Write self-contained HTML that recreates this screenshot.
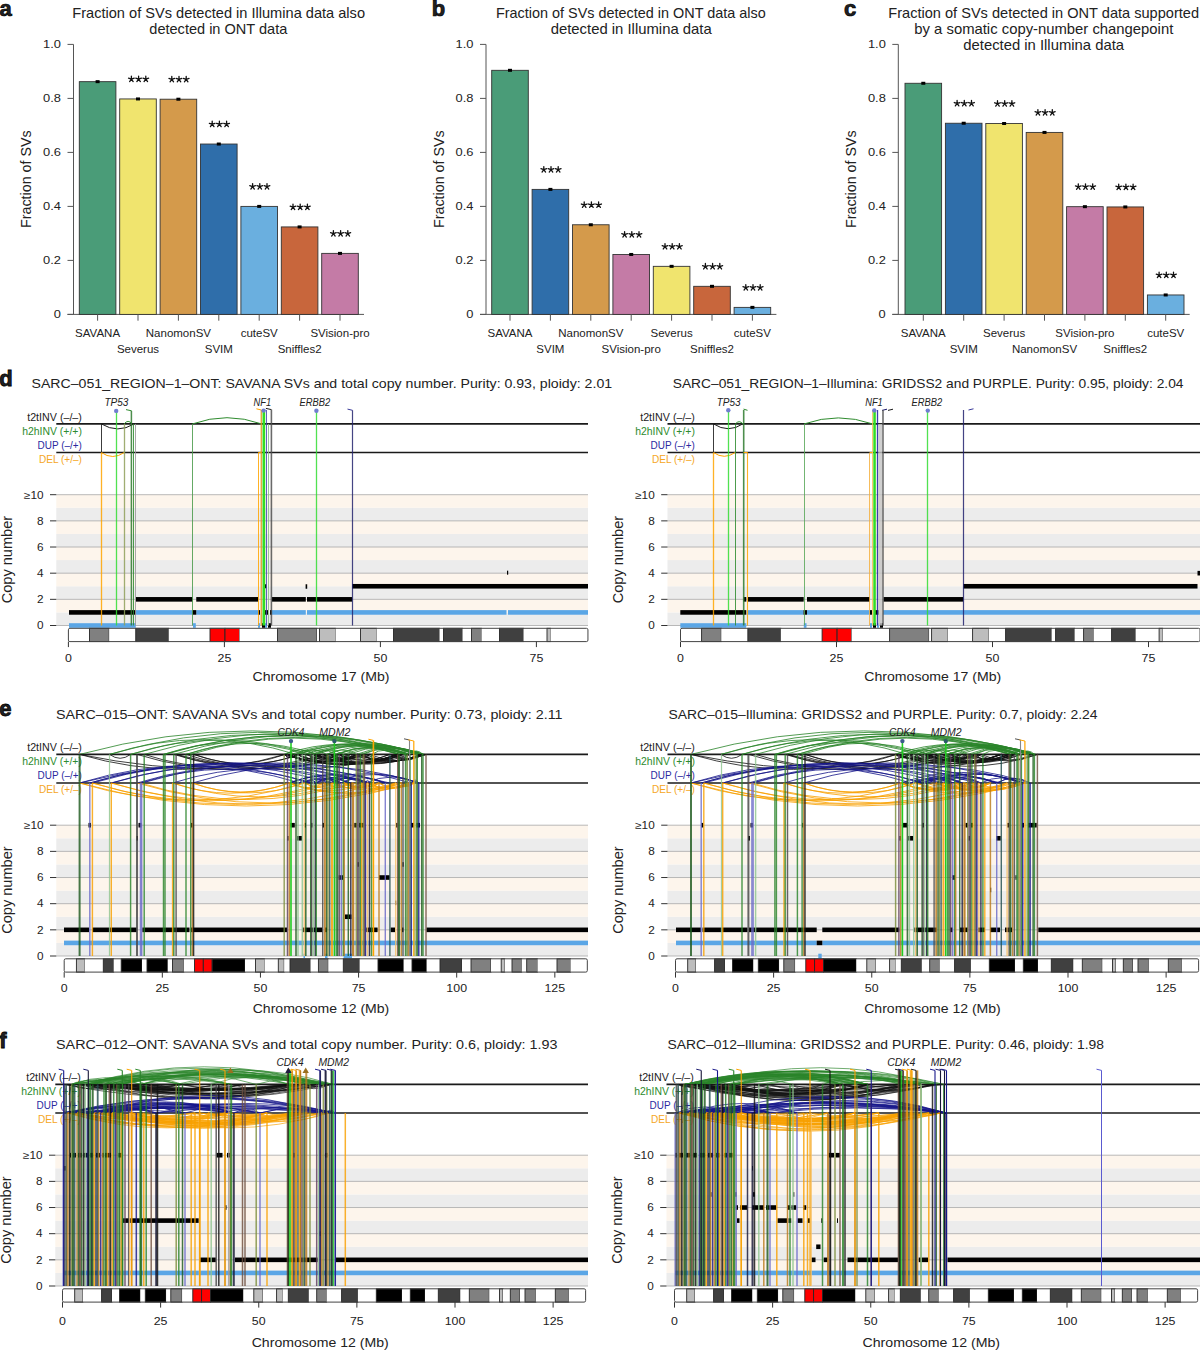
<!DOCTYPE html>
<html><head><meta charset="utf-8"><style>
html,body{margin:0;padding:0;background:#fff;}
svg{display:block;font-family:"Liberation Sans", sans-serif;}
</style></head><body>
<svg width="1200" height="1350" viewBox="0 0 1200 1350" fill="#222">
<rect width="1200" height="1350" fill="#fff"/>
<line x1="73.50" y1="44.40" x2="73.50" y2="314.40" stroke="#555" stroke-width="1"/>
<line x1="67.50" y1="314.40" x2="73.50" y2="314.40" stroke="#555" stroke-width="1"/>
<text x="61.00" y="318.40" font-size="11" text-anchor="end" textLength="7.16" lengthAdjust="spacingAndGlyphs">0</text>
<line x1="67.50" y1="260.40" x2="73.50" y2="260.40" stroke="#555" stroke-width="1"/>
<text x="61.00" y="264.40" font-size="11" text-anchor="end" textLength="17.89" lengthAdjust="spacingAndGlyphs">0.2</text>
<line x1="67.50" y1="206.40" x2="73.50" y2="206.40" stroke="#555" stroke-width="1"/>
<text x="61.00" y="210.40" font-size="11" text-anchor="end" textLength="17.89" lengthAdjust="spacingAndGlyphs">0.4</text>
<line x1="67.50" y1="152.40" x2="73.50" y2="152.40" stroke="#555" stroke-width="1"/>
<text x="61.00" y="156.40" font-size="11" text-anchor="end" textLength="17.89" lengthAdjust="spacingAndGlyphs">0.6</text>
<line x1="67.50" y1="98.40" x2="73.50" y2="98.40" stroke="#555" stroke-width="1"/>
<text x="61.00" y="102.40" font-size="11" text-anchor="end" textLength="17.89" lengthAdjust="spacingAndGlyphs">0.8</text>
<line x1="67.50" y1="44.40" x2="73.50" y2="44.40" stroke="#555" stroke-width="1"/>
<text x="61.00" y="48.40" font-size="11" text-anchor="end" textLength="17.89" lengthAdjust="spacingAndGlyphs">1.0</text>
<line x1="67.50" y1="314.40" x2="364.00" y2="314.40" stroke="#555" stroke-width="1"/>
<rect x="79.30" y="81.66" width="36.60" height="232.74" fill="#4a9c78" stroke="#333" stroke-width="0.9"/>
<rect x="95.60" y="80.16" width="4.00" height="3.00" fill="#000"/>
<line x1="97.60" y1="314.40" x2="97.60" y2="320.70" stroke="#555" stroke-width="1"/>
<text x="97.60" y="337.00" font-size="11.5" text-anchor="middle">SAVANA</text>
<rect x="119.70" y="98.94" width="36.60" height="215.46" fill="#f0e46e" stroke="#333" stroke-width="0.9"/>
<rect x="136.00" y="97.44" width="4.00" height="3.00" fill="#000"/>
<line x1="138.00" y1="314.40" x2="138.00" y2="320.70" stroke="#555" stroke-width="1"/>
<path d="M131.40,79.14 L131.40,76.14 M131.40,79.14 L134.25,78.21 M131.40,79.14 L133.16,81.57 M131.40,79.14 L129.64,81.57 M131.40,79.14 L128.55,78.21 " stroke="#111" stroke-width="1.3" fill="none" stroke-linecap="round"/>
<path d="M138.60,79.14 L138.60,76.14 M138.60,79.14 L141.45,78.21 M138.60,79.14 L140.36,81.57 M138.60,79.14 L136.84,81.57 M138.60,79.14 L135.75,78.21 " stroke="#111" stroke-width="1.3" fill="none" stroke-linecap="round"/>
<path d="M145.80,79.14 L145.80,76.14 M145.80,79.14 L148.65,78.21 M145.80,79.14 L147.56,81.57 M145.80,79.14 L144.04,81.57 M145.80,79.14 L142.95,78.21 " stroke="#111" stroke-width="1.3" fill="none" stroke-linecap="round"/>
<text x="138.00" y="352.50" font-size="11.5" text-anchor="middle">Severus</text>
<rect x="160.10" y="99.21" width="36.60" height="215.19" fill="#d49a4b" stroke="#333" stroke-width="0.9"/>
<rect x="176.40" y="97.71" width="4.00" height="3.00" fill="#000"/>
<line x1="178.40" y1="314.40" x2="178.40" y2="320.70" stroke="#555" stroke-width="1"/>
<path d="M171.80,79.41 L171.80,76.41 M171.80,79.41 L174.65,78.48 M171.80,79.41 L173.56,81.84 M171.80,79.41 L170.04,81.84 M171.80,79.41 L168.95,78.48 " stroke="#111" stroke-width="1.3" fill="none" stroke-linecap="round"/>
<path d="M179.00,79.41 L179.00,76.41 M179.00,79.41 L181.85,78.48 M179.00,79.41 L180.76,81.84 M179.00,79.41 L177.24,81.84 M179.00,79.41 L176.15,78.48 " stroke="#111" stroke-width="1.3" fill="none" stroke-linecap="round"/>
<path d="M186.20,79.41 L186.20,76.41 M186.20,79.41 L189.05,78.48 M186.20,79.41 L187.96,81.84 M186.20,79.41 L184.44,81.84 M186.20,79.41 L183.35,78.48 " stroke="#111" stroke-width="1.3" fill="none" stroke-linecap="round"/>
<text x="178.40" y="337.00" font-size="11.5" text-anchor="middle">NanomonSV</text>
<rect x="200.50" y="144.03" width="36.60" height="170.37" fill="#2f6eaa" stroke="#333" stroke-width="0.9"/>
<rect x="216.80" y="142.53" width="4.00" height="3.00" fill="#000"/>
<line x1="218.80" y1="314.40" x2="218.80" y2="320.70" stroke="#555" stroke-width="1"/>
<path d="M212.20,124.23 L212.20,121.23 M212.20,124.23 L215.05,123.30 M212.20,124.23 L213.96,126.66 M212.20,124.23 L210.44,126.66 M212.20,124.23 L209.35,123.30 " stroke="#111" stroke-width="1.3" fill="none" stroke-linecap="round"/>
<path d="M219.40,124.23 L219.40,121.23 M219.40,124.23 L222.25,123.30 M219.40,124.23 L221.16,126.66 M219.40,124.23 L217.64,126.66 M219.40,124.23 L216.55,123.30 " stroke="#111" stroke-width="1.3" fill="none" stroke-linecap="round"/>
<path d="M226.60,124.23 L226.60,121.23 M226.60,124.23 L229.45,123.30 M226.60,124.23 L228.36,126.66 M226.60,124.23 L224.84,126.66 M226.60,124.23 L223.75,123.30 " stroke="#111" stroke-width="1.3" fill="none" stroke-linecap="round"/>
<text x="218.80" y="352.50" font-size="11.5" text-anchor="middle">SVIM</text>
<rect x="240.90" y="206.40" width="36.60" height="108.00" fill="#6aafdf" stroke="#333" stroke-width="0.9"/>
<rect x="257.20" y="204.90" width="4.00" height="3.00" fill="#000"/>
<line x1="259.20" y1="314.40" x2="259.20" y2="320.70" stroke="#555" stroke-width="1"/>
<path d="M252.60,186.60 L252.60,183.60 M252.60,186.60 L255.45,185.67 M252.60,186.60 L254.36,189.03 M252.60,186.60 L250.84,189.03 M252.60,186.60 L249.75,185.67 " stroke="#111" stroke-width="1.3" fill="none" stroke-linecap="round"/>
<path d="M259.80,186.60 L259.80,183.60 M259.80,186.60 L262.65,185.67 M259.80,186.60 L261.56,189.03 M259.80,186.60 L258.04,189.03 M259.80,186.60 L256.95,185.67 " stroke="#111" stroke-width="1.3" fill="none" stroke-linecap="round"/>
<path d="M267.00,186.60 L267.00,183.60 M267.00,186.60 L269.85,185.67 M267.00,186.60 L268.76,189.03 M267.00,186.60 L265.24,189.03 M267.00,186.60 L264.15,185.67 " stroke="#111" stroke-width="1.3" fill="none" stroke-linecap="round"/>
<text x="259.20" y="337.00" font-size="11.5" text-anchor="middle">cuteSV</text>
<rect x="281.30" y="226.92" width="36.60" height="87.48" fill="#c8663c" stroke="#333" stroke-width="0.9"/>
<rect x="297.60" y="225.42" width="4.00" height="3.00" fill="#000"/>
<line x1="299.60" y1="314.40" x2="299.60" y2="320.70" stroke="#555" stroke-width="1"/>
<path d="M293.00,207.12 L293.00,204.12 M293.00,207.12 L295.85,206.19 M293.00,207.12 L294.76,209.55 M293.00,207.12 L291.24,209.55 M293.00,207.12 L290.15,206.19 " stroke="#111" stroke-width="1.3" fill="none" stroke-linecap="round"/>
<path d="M300.20,207.12 L300.20,204.12 M300.20,207.12 L303.05,206.19 M300.20,207.12 L301.96,209.55 M300.20,207.12 L298.44,209.55 M300.20,207.12 L297.35,206.19 " stroke="#111" stroke-width="1.3" fill="none" stroke-linecap="round"/>
<path d="M307.40,207.12 L307.40,204.12 M307.40,207.12 L310.25,206.19 M307.40,207.12 L309.16,209.55 M307.40,207.12 L305.64,209.55 M307.40,207.12 L304.55,206.19 " stroke="#111" stroke-width="1.3" fill="none" stroke-linecap="round"/>
<text x="299.60" y="352.50" font-size="11.5" text-anchor="middle">Sniffles2</text>
<rect x="321.70" y="253.38" width="36.60" height="61.02" fill="#c47ba6" stroke="#333" stroke-width="0.9"/>
<rect x="338.00" y="251.88" width="4.00" height="3.00" fill="#000"/>
<line x1="340.00" y1="314.40" x2="340.00" y2="320.70" stroke="#555" stroke-width="1"/>
<path d="M333.40,233.58 L333.40,230.58 M333.40,233.58 L336.25,232.65 M333.40,233.58 L335.16,236.01 M333.40,233.58 L331.64,236.01 M333.40,233.58 L330.55,232.65 " stroke="#111" stroke-width="1.3" fill="none" stroke-linecap="round"/>
<path d="M340.60,233.58 L340.60,230.58 M340.60,233.58 L343.45,232.65 M340.60,233.58 L342.36,236.01 M340.60,233.58 L338.84,236.01 M340.60,233.58 L337.75,232.65 " stroke="#111" stroke-width="1.3" fill="none" stroke-linecap="round"/>
<path d="M347.80,233.58 L347.80,230.58 M347.80,233.58 L350.65,232.65 M347.80,233.58 L349.56,236.01 M347.80,233.58 L346.04,236.01 M347.80,233.58 L344.95,232.65 " stroke="#111" stroke-width="1.3" fill="none" stroke-linecap="round"/>
<text x="340.00" y="337.00" font-size="11.5" text-anchor="middle">SVision-pro</text>
<text x="31.10" y="179.20" font-size="14" text-anchor="middle" textLength="97.50" lengthAdjust="spacingAndGlyphs" transform="rotate(-90 31.10 179.20)">Fraction of SVs</text>
<text x="-0.60" y="16.30" font-size="22" font-weight="bold" stroke="#000" stroke-width="0.7">a</text>
<text x="72.30" y="17.70" font-size="14.5" textLength="292.70" lengthAdjust="spacingAndGlyphs">Fraction of SVs detected in Illumina data also</text>
<text x="149.30" y="34.00" font-size="14.5" textLength="138.00" lengthAdjust="spacingAndGlyphs">detected in ONT data</text>
<line x1="486.00" y1="44.40" x2="486.00" y2="314.40" stroke="#555" stroke-width="1"/>
<line x1="480.00" y1="314.40" x2="486.00" y2="314.40" stroke="#555" stroke-width="1"/>
<text x="473.50" y="318.40" font-size="11" text-anchor="end" textLength="7.16" lengthAdjust="spacingAndGlyphs">0</text>
<line x1="480.00" y1="260.40" x2="486.00" y2="260.40" stroke="#555" stroke-width="1"/>
<text x="473.50" y="264.40" font-size="11" text-anchor="end" textLength="17.89" lengthAdjust="spacingAndGlyphs">0.2</text>
<line x1="480.00" y1="206.40" x2="486.00" y2="206.40" stroke="#555" stroke-width="1"/>
<text x="473.50" y="210.40" font-size="11" text-anchor="end" textLength="17.89" lengthAdjust="spacingAndGlyphs">0.4</text>
<line x1="480.00" y1="152.40" x2="486.00" y2="152.40" stroke="#555" stroke-width="1"/>
<text x="473.50" y="156.40" font-size="11" text-anchor="end" textLength="17.89" lengthAdjust="spacingAndGlyphs">0.6</text>
<line x1="480.00" y1="98.40" x2="486.00" y2="98.40" stroke="#555" stroke-width="1"/>
<text x="473.50" y="102.40" font-size="11" text-anchor="end" textLength="17.89" lengthAdjust="spacingAndGlyphs">0.8</text>
<line x1="480.00" y1="44.40" x2="486.00" y2="44.40" stroke="#555" stroke-width="1"/>
<text x="473.50" y="48.40" font-size="11" text-anchor="end" textLength="17.89" lengthAdjust="spacingAndGlyphs">1.0</text>
<line x1="480.00" y1="314.40" x2="776.40" y2="314.40" stroke="#555" stroke-width="1"/>
<rect x="491.70" y="70.32" width="36.60" height="244.08" fill="#4a9c78" stroke="#333" stroke-width="0.9"/>
<rect x="508.00" y="68.82" width="4.00" height="3.00" fill="#000"/>
<line x1="510.00" y1="314.40" x2="510.00" y2="320.70" stroke="#555" stroke-width="1"/>
<text x="510.00" y="337.00" font-size="11.5" text-anchor="middle">SAVANA</text>
<rect x="532.10" y="189.39" width="36.60" height="125.01" fill="#2f6eaa" stroke="#333" stroke-width="0.9"/>
<rect x="548.40" y="187.89" width="4.00" height="3.00" fill="#000"/>
<line x1="550.40" y1="314.40" x2="550.40" y2="320.70" stroke="#555" stroke-width="1"/>
<path d="M543.80,169.59 L543.80,166.59 M543.80,169.59 L546.65,168.66 M543.80,169.59 L545.56,172.02 M543.80,169.59 L542.04,172.02 M543.80,169.59 L540.95,168.66 " stroke="#111" stroke-width="1.3" fill="none" stroke-linecap="round"/>
<path d="M551.00,169.59 L551.00,166.59 M551.00,169.59 L553.85,168.66 M551.00,169.59 L552.76,172.02 M551.00,169.59 L549.24,172.02 M551.00,169.59 L548.15,168.66 " stroke="#111" stroke-width="1.3" fill="none" stroke-linecap="round"/>
<path d="M558.20,169.59 L558.20,166.59 M558.20,169.59 L561.05,168.66 M558.20,169.59 L559.96,172.02 M558.20,169.59 L556.44,172.02 M558.20,169.59 L555.35,168.66 " stroke="#111" stroke-width="1.3" fill="none" stroke-linecap="round"/>
<text x="550.40" y="352.50" font-size="11.5" text-anchor="middle">SVIM</text>
<rect x="572.50" y="224.76" width="36.60" height="89.64" fill="#d49a4b" stroke="#333" stroke-width="0.9"/>
<rect x="588.80" y="223.26" width="4.00" height="3.00" fill="#000"/>
<line x1="590.80" y1="314.40" x2="590.80" y2="320.70" stroke="#555" stroke-width="1"/>
<path d="M584.20,204.96 L584.20,201.96 M584.20,204.96 L587.05,204.03 M584.20,204.96 L585.96,207.39 M584.20,204.96 L582.44,207.39 M584.20,204.96 L581.35,204.03 " stroke="#111" stroke-width="1.3" fill="none" stroke-linecap="round"/>
<path d="M591.40,204.96 L591.40,201.96 M591.40,204.96 L594.25,204.03 M591.40,204.96 L593.16,207.39 M591.40,204.96 L589.64,207.39 M591.40,204.96 L588.55,204.03 " stroke="#111" stroke-width="1.3" fill="none" stroke-linecap="round"/>
<path d="M598.60,204.96 L598.60,201.96 M598.60,204.96 L601.45,204.03 M598.60,204.96 L600.36,207.39 M598.60,204.96 L596.84,207.39 M598.60,204.96 L595.75,204.03 " stroke="#111" stroke-width="1.3" fill="none" stroke-linecap="round"/>
<text x="590.80" y="337.00" font-size="11.5" text-anchor="middle">NanomonSV</text>
<rect x="612.90" y="254.46" width="36.60" height="59.94" fill="#c47ba6" stroke="#333" stroke-width="0.9"/>
<rect x="629.20" y="252.96" width="4.00" height="3.00" fill="#000"/>
<line x1="631.20" y1="314.40" x2="631.20" y2="320.70" stroke="#555" stroke-width="1"/>
<path d="M624.60,234.66 L624.60,231.66 M624.60,234.66 L627.45,233.73 M624.60,234.66 L626.36,237.09 M624.60,234.66 L622.84,237.09 M624.60,234.66 L621.75,233.73 " stroke="#111" stroke-width="1.3" fill="none" stroke-linecap="round"/>
<path d="M631.80,234.66 L631.80,231.66 M631.80,234.66 L634.65,233.73 M631.80,234.66 L633.56,237.09 M631.80,234.66 L630.04,237.09 M631.80,234.66 L628.95,233.73 " stroke="#111" stroke-width="1.3" fill="none" stroke-linecap="round"/>
<path d="M639.00,234.66 L639.00,231.66 M639.00,234.66 L641.85,233.73 M639.00,234.66 L640.76,237.09 M639.00,234.66 L637.24,237.09 M639.00,234.66 L636.15,233.73 " stroke="#111" stroke-width="1.3" fill="none" stroke-linecap="round"/>
<text x="631.20" y="352.50" font-size="11.5" text-anchor="middle">SVision-pro</text>
<rect x="653.30" y="266.34" width="36.60" height="48.06" fill="#f0e46e" stroke="#333" stroke-width="0.9"/>
<rect x="669.60" y="264.84" width="4.00" height="3.00" fill="#000"/>
<line x1="671.60" y1="314.40" x2="671.60" y2="320.70" stroke="#555" stroke-width="1"/>
<path d="M665.00,246.54 L665.00,243.54 M665.00,246.54 L667.85,245.61 M665.00,246.54 L666.76,248.97 M665.00,246.54 L663.24,248.97 M665.00,246.54 L662.15,245.61 " stroke="#111" stroke-width="1.3" fill="none" stroke-linecap="round"/>
<path d="M672.20,246.54 L672.20,243.54 M672.20,246.54 L675.05,245.61 M672.20,246.54 L673.96,248.97 M672.20,246.54 L670.44,248.97 M672.20,246.54 L669.35,245.61 " stroke="#111" stroke-width="1.3" fill="none" stroke-linecap="round"/>
<path d="M679.40,246.54 L679.40,243.54 M679.40,246.54 L682.25,245.61 M679.40,246.54 L681.16,248.97 M679.40,246.54 L677.64,248.97 M679.40,246.54 L676.55,245.61 " stroke="#111" stroke-width="1.3" fill="none" stroke-linecap="round"/>
<text x="671.60" y="337.00" font-size="11.5" text-anchor="middle">Severus</text>
<rect x="693.70" y="286.32" width="36.60" height="28.08" fill="#c8663c" stroke="#333" stroke-width="0.9"/>
<rect x="710.00" y="284.82" width="4.00" height="3.00" fill="#000"/>
<line x1="712.00" y1="314.40" x2="712.00" y2="320.70" stroke="#555" stroke-width="1"/>
<path d="M705.40,266.52 L705.40,263.52 M705.40,266.52 L708.25,265.59 M705.40,266.52 L707.16,268.95 M705.40,266.52 L703.64,268.95 M705.40,266.52 L702.55,265.59 " stroke="#111" stroke-width="1.3" fill="none" stroke-linecap="round"/>
<path d="M712.60,266.52 L712.60,263.52 M712.60,266.52 L715.45,265.59 M712.60,266.52 L714.36,268.95 M712.60,266.52 L710.84,268.95 M712.60,266.52 L709.75,265.59 " stroke="#111" stroke-width="1.3" fill="none" stroke-linecap="round"/>
<path d="M719.80,266.52 L719.80,263.52 M719.80,266.52 L722.65,265.59 M719.80,266.52 L721.56,268.95 M719.80,266.52 L718.04,268.95 M719.80,266.52 L716.95,265.59 " stroke="#111" stroke-width="1.3" fill="none" stroke-linecap="round"/>
<text x="712.00" y="352.50" font-size="11.5" text-anchor="middle">Sniffles2</text>
<rect x="734.10" y="307.38" width="36.60" height="7.02" fill="#6aafdf" stroke="#333" stroke-width="0.9"/>
<rect x="750.40" y="305.88" width="4.00" height="3.00" fill="#000"/>
<line x1="752.40" y1="314.40" x2="752.40" y2="320.70" stroke="#555" stroke-width="1"/>
<path d="M745.80,287.58 L745.80,284.58 M745.80,287.58 L748.65,286.65 M745.80,287.58 L747.56,290.01 M745.80,287.58 L744.04,290.01 M745.80,287.58 L742.95,286.65 " stroke="#111" stroke-width="1.3" fill="none" stroke-linecap="round"/>
<path d="M753.00,287.58 L753.00,284.58 M753.00,287.58 L755.85,286.65 M753.00,287.58 L754.76,290.01 M753.00,287.58 L751.24,290.01 M753.00,287.58 L750.15,286.65 " stroke="#111" stroke-width="1.3" fill="none" stroke-linecap="round"/>
<path d="M760.20,287.58 L760.20,284.58 M760.20,287.58 L763.05,286.65 M760.20,287.58 L761.96,290.01 M760.20,287.58 L758.44,290.01 M760.20,287.58 L757.35,286.65 " stroke="#111" stroke-width="1.3" fill="none" stroke-linecap="round"/>
<text x="752.40" y="337.00" font-size="11.5" text-anchor="middle">cuteSV</text>
<text x="443.60" y="179.20" font-size="14" text-anchor="middle" textLength="97.50" lengthAdjust="spacingAndGlyphs" transform="rotate(-90 443.60 179.20)">Fraction of SVs</text>
<text x="431.80" y="16.30" font-size="22" font-weight="bold" stroke="#000" stroke-width="0.7">b</text>
<text x="496.00" y="17.70" font-size="14.5" textLength="269.70" lengthAdjust="spacingAndGlyphs">Fraction of SVs detected in ONT data also</text>
<text x="550.70" y="34.00" font-size="14.5" textLength="161.00" lengthAdjust="spacingAndGlyphs">detected in Illumina data</text>
<line x1="898.30" y1="44.40" x2="898.30" y2="314.40" stroke="#555" stroke-width="1"/>
<line x1="892.30" y1="314.40" x2="898.30" y2="314.40" stroke="#555" stroke-width="1"/>
<text x="885.80" y="318.40" font-size="11" text-anchor="end" textLength="7.16" lengthAdjust="spacingAndGlyphs">0</text>
<line x1="892.30" y1="260.40" x2="898.30" y2="260.40" stroke="#555" stroke-width="1"/>
<text x="885.80" y="264.40" font-size="11" text-anchor="end" textLength="17.89" lengthAdjust="spacingAndGlyphs">0.2</text>
<line x1="892.30" y1="206.40" x2="898.30" y2="206.40" stroke="#555" stroke-width="1"/>
<text x="885.80" y="210.40" font-size="11" text-anchor="end" textLength="17.89" lengthAdjust="spacingAndGlyphs">0.4</text>
<line x1="892.30" y1="152.40" x2="898.30" y2="152.40" stroke="#555" stroke-width="1"/>
<text x="885.80" y="156.40" font-size="11" text-anchor="end" textLength="17.89" lengthAdjust="spacingAndGlyphs">0.6</text>
<line x1="892.30" y1="98.40" x2="898.30" y2="98.40" stroke="#555" stroke-width="1"/>
<text x="885.80" y="102.40" font-size="11" text-anchor="end" textLength="17.89" lengthAdjust="spacingAndGlyphs">0.8</text>
<line x1="892.30" y1="44.40" x2="898.30" y2="44.40" stroke="#555" stroke-width="1"/>
<text x="885.80" y="48.40" font-size="11" text-anchor="end" textLength="17.89" lengthAdjust="spacingAndGlyphs">1.0</text>
<line x1="892.30" y1="314.40" x2="1189.70" y2="314.40" stroke="#555" stroke-width="1"/>
<rect x="905.00" y="83.28" width="36.60" height="231.12" fill="#4a9c78" stroke="#333" stroke-width="0.9"/>
<rect x="921.30" y="81.78" width="4.00" height="3.00" fill="#000"/>
<line x1="923.30" y1="314.40" x2="923.30" y2="320.70" stroke="#555" stroke-width="1"/>
<text x="923.30" y="337.00" font-size="11.5" text-anchor="middle">SAVANA</text>
<rect x="945.40" y="123.24" width="36.60" height="191.16" fill="#2f6eaa" stroke="#333" stroke-width="0.9"/>
<rect x="961.70" y="121.74" width="4.00" height="3.00" fill="#000"/>
<line x1="963.70" y1="314.40" x2="963.70" y2="320.70" stroke="#555" stroke-width="1"/>
<path d="M957.10,103.44 L957.10,100.44 M957.10,103.44 L959.95,102.51 M957.10,103.44 L958.86,105.87 M957.10,103.44 L955.34,105.87 M957.10,103.44 L954.25,102.51 " stroke="#111" stroke-width="1.3" fill="none" stroke-linecap="round"/>
<path d="M964.30,103.44 L964.30,100.44 M964.30,103.44 L967.15,102.51 M964.30,103.44 L966.06,105.87 M964.30,103.44 L962.54,105.87 M964.30,103.44 L961.45,102.51 " stroke="#111" stroke-width="1.3" fill="none" stroke-linecap="round"/>
<path d="M971.50,103.44 L971.50,100.44 M971.50,103.44 L974.35,102.51 M971.50,103.44 L973.26,105.87 M971.50,103.44 L969.74,105.87 M971.50,103.44 L968.65,102.51 " stroke="#111" stroke-width="1.3" fill="none" stroke-linecap="round"/>
<text x="963.70" y="352.50" font-size="11.5" text-anchor="middle">SVIM</text>
<rect x="985.80" y="123.51" width="36.60" height="190.89" fill="#f0e46e" stroke="#333" stroke-width="0.9"/>
<rect x="1002.10" y="122.01" width="4.00" height="3.00" fill="#000"/>
<line x1="1004.10" y1="314.40" x2="1004.10" y2="320.70" stroke="#555" stroke-width="1"/>
<path d="M997.50,103.71 L997.50,100.71 M997.50,103.71 L1000.35,102.78 M997.50,103.71 L999.26,106.14 M997.50,103.71 L995.74,106.14 M997.50,103.71 L994.65,102.78 " stroke="#111" stroke-width="1.3" fill="none" stroke-linecap="round"/>
<path d="M1004.70,103.71 L1004.70,100.71 M1004.70,103.71 L1007.55,102.78 M1004.70,103.71 L1006.46,106.14 M1004.70,103.71 L1002.94,106.14 M1004.70,103.71 L1001.85,102.78 " stroke="#111" stroke-width="1.3" fill="none" stroke-linecap="round"/>
<path d="M1011.90,103.71 L1011.90,100.71 M1011.90,103.71 L1014.75,102.78 M1011.90,103.71 L1013.66,106.14 M1011.90,103.71 L1010.14,106.14 M1011.90,103.71 L1009.05,102.78 " stroke="#111" stroke-width="1.3" fill="none" stroke-linecap="round"/>
<text x="1004.10" y="337.00" font-size="11.5" text-anchor="middle">Severus</text>
<rect x="1026.20" y="132.42" width="36.60" height="181.98" fill="#d49a4b" stroke="#333" stroke-width="0.9"/>
<rect x="1042.50" y="130.92" width="4.00" height="3.00" fill="#000"/>
<line x1="1044.50" y1="314.40" x2="1044.50" y2="320.70" stroke="#555" stroke-width="1"/>
<path d="M1037.90,112.62 L1037.90,109.62 M1037.90,112.62 L1040.75,111.69 M1037.90,112.62 L1039.66,115.05 M1037.90,112.62 L1036.14,115.05 M1037.90,112.62 L1035.05,111.69 " stroke="#111" stroke-width="1.3" fill="none" stroke-linecap="round"/>
<path d="M1045.10,112.62 L1045.10,109.62 M1045.10,112.62 L1047.95,111.69 M1045.10,112.62 L1046.86,115.05 M1045.10,112.62 L1043.34,115.05 M1045.10,112.62 L1042.25,111.69 " stroke="#111" stroke-width="1.3" fill="none" stroke-linecap="round"/>
<path d="M1052.30,112.62 L1052.30,109.62 M1052.30,112.62 L1055.15,111.69 M1052.30,112.62 L1054.06,115.05 M1052.30,112.62 L1050.54,115.05 M1052.30,112.62 L1049.45,111.69 " stroke="#111" stroke-width="1.3" fill="none" stroke-linecap="round"/>
<text x="1044.50" y="352.50" font-size="11.5" text-anchor="middle">NanomonSV</text>
<rect x="1066.60" y="206.67" width="36.60" height="107.73" fill="#c47ba6" stroke="#333" stroke-width="0.9"/>
<rect x="1082.90" y="205.17" width="4.00" height="3.00" fill="#000"/>
<line x1="1084.90" y1="314.40" x2="1084.90" y2="320.70" stroke="#555" stroke-width="1"/>
<path d="M1078.30,186.87 L1078.30,183.87 M1078.30,186.87 L1081.15,185.94 M1078.30,186.87 L1080.06,189.30 M1078.30,186.87 L1076.54,189.30 M1078.30,186.87 L1075.45,185.94 " stroke="#111" stroke-width="1.3" fill="none" stroke-linecap="round"/>
<path d="M1085.50,186.87 L1085.50,183.87 M1085.50,186.87 L1088.35,185.94 M1085.50,186.87 L1087.26,189.30 M1085.50,186.87 L1083.74,189.30 M1085.50,186.87 L1082.65,185.94 " stroke="#111" stroke-width="1.3" fill="none" stroke-linecap="round"/>
<path d="M1092.70,186.87 L1092.70,183.87 M1092.70,186.87 L1095.55,185.94 M1092.70,186.87 L1094.46,189.30 M1092.70,186.87 L1090.94,189.30 M1092.70,186.87 L1089.85,185.94 " stroke="#111" stroke-width="1.3" fill="none" stroke-linecap="round"/>
<text x="1084.90" y="337.00" font-size="11.5" text-anchor="middle">SVision-pro</text>
<rect x="1107.00" y="206.94" width="36.60" height="107.46" fill="#c8663c" stroke="#333" stroke-width="0.9"/>
<rect x="1123.30" y="205.44" width="4.00" height="3.00" fill="#000"/>
<line x1="1125.30" y1="314.40" x2="1125.30" y2="320.70" stroke="#555" stroke-width="1"/>
<path d="M1118.70,187.14 L1118.70,184.14 M1118.70,187.14 L1121.55,186.21 M1118.70,187.14 L1120.46,189.57 M1118.70,187.14 L1116.94,189.57 M1118.70,187.14 L1115.85,186.21 " stroke="#111" stroke-width="1.3" fill="none" stroke-linecap="round"/>
<path d="M1125.90,187.14 L1125.90,184.14 M1125.90,187.14 L1128.75,186.21 M1125.90,187.14 L1127.66,189.57 M1125.90,187.14 L1124.14,189.57 M1125.90,187.14 L1123.05,186.21 " stroke="#111" stroke-width="1.3" fill="none" stroke-linecap="round"/>
<path d="M1133.10,187.14 L1133.10,184.14 M1133.10,187.14 L1135.95,186.21 M1133.10,187.14 L1134.86,189.57 M1133.10,187.14 L1131.34,189.57 M1133.10,187.14 L1130.25,186.21 " stroke="#111" stroke-width="1.3" fill="none" stroke-linecap="round"/>
<text x="1125.30" y="352.50" font-size="11.5" text-anchor="middle">Sniffles2</text>
<rect x="1147.40" y="294.96" width="36.60" height="19.44" fill="#6aafdf" stroke="#333" stroke-width="0.9"/>
<rect x="1163.70" y="293.46" width="4.00" height="3.00" fill="#000"/>
<line x1="1165.70" y1="314.40" x2="1165.70" y2="320.70" stroke="#555" stroke-width="1"/>
<path d="M1159.10,275.16 L1159.10,272.16 M1159.10,275.16 L1161.95,274.23 M1159.10,275.16 L1160.86,277.59 M1159.10,275.16 L1157.34,277.59 M1159.10,275.16 L1156.25,274.23 " stroke="#111" stroke-width="1.3" fill="none" stroke-linecap="round"/>
<path d="M1166.30,275.16 L1166.30,272.16 M1166.30,275.16 L1169.15,274.23 M1166.30,275.16 L1168.06,277.59 M1166.30,275.16 L1164.54,277.59 M1166.30,275.16 L1163.45,274.23 " stroke="#111" stroke-width="1.3" fill="none" stroke-linecap="round"/>
<path d="M1173.50,275.16 L1173.50,272.16 M1173.50,275.16 L1176.35,274.23 M1173.50,275.16 L1175.26,277.59 M1173.50,275.16 L1171.74,277.59 M1173.50,275.16 L1170.65,274.23 " stroke="#111" stroke-width="1.3" fill="none" stroke-linecap="round"/>
<text x="1165.70" y="337.00" font-size="11.5" text-anchor="middle">cuteSV</text>
<text x="855.90" y="179.20" font-size="14" text-anchor="middle" textLength="97.50" lengthAdjust="spacingAndGlyphs" transform="rotate(-90 855.90 179.20)">Fraction of SVs</text>
<text x="844.00" y="16.30" font-size="22" font-weight="bold" stroke="#000" stroke-width="0.7">c</text>
<text x="888.30" y="17.70" font-size="14.5" textLength="310.70" lengthAdjust="spacingAndGlyphs">Fraction of SVs detected in ONT data supported</text>
<text x="914.30" y="34.00" font-size="14.5" textLength="259.00" lengthAdjust="spacingAndGlyphs">by a somatic copy-number changepoint</text>
<text x="963.30" y="50.30" font-size="14.5" textLength="160.70" lengthAdjust="spacingAndGlyphs">detected in Illumina data</text>
<text x="31.50" y="388.20" font-size="13.4" textLength="580.60" lengthAdjust="spacingAndGlyphs">SARC–051_REGION–1–ONT: SAVANA SVs and total copy number. Purity: 0.93, ploidy: 2.01</text>
<text x="-0.80" y="385.75" font-size="22" font-weight="bold" stroke="#000" stroke-width="0.8">d</text>
<text x="27.20" y="420.60" font-size="10" textLength="54.70" lengthAdjust="spacingAndGlyphs">t2tINV (–/–)</text>
<text x="22.20" y="434.70" font-size="10" fill="#2e8b2e" textLength="59.70" lengthAdjust="spacingAndGlyphs">h2hINV (+/+)</text>
<text x="37.60" y="448.80" font-size="10" fill="#2a2aa0" textLength="44.30" lengthAdjust="spacingAndGlyphs">DUP (–/+)</text>
<text x="38.90" y="462.90" font-size="10" fill="#f5a623" textLength="43.00" lengthAdjust="spacingAndGlyphs">DEL (+/–)</text>
<rect x="56.30" y="612.42" width="531.70" height="13.08" fill="#ececec"/>
<rect x="56.30" y="599.34" width="531.70" height="13.08" fill="#fdf5ec"/>
<rect x="56.30" y="586.26" width="531.70" height="13.08" fill="#ececec"/>
<rect x="56.30" y="573.18" width="531.70" height="13.08" fill="#fdf5ec"/>
<rect x="56.30" y="560.10" width="531.70" height="13.08" fill="#ececec"/>
<rect x="56.30" y="547.02" width="531.70" height="13.08" fill="#fdf5ec"/>
<rect x="56.30" y="533.94" width="531.70" height="13.08" fill="#ececec"/>
<rect x="56.30" y="520.86" width="531.70" height="13.08" fill="#fdf5ec"/>
<rect x="56.30" y="507.78" width="531.70" height="13.08" fill="#ececec"/>
<rect x="56.30" y="494.70" width="531.70" height="13.08" fill="#fdf5ec"/>
<line x1="56.30" y1="625.50" x2="588.00" y2="625.50" stroke="#a8a8a8" stroke-width="0.8"/>
<line x1="50.00" y1="625.50" x2="56.30" y2="625.50" stroke="#333" stroke-width="1"/>
<text x="43.50" y="629.30" font-size="10.5" text-anchor="end" textLength="6.54" lengthAdjust="spacingAndGlyphs">0</text>
<line x1="56.30" y1="599.34" x2="588.00" y2="599.34" stroke="#a8a8a8" stroke-width="0.8"/>
<line x1="50.00" y1="599.34" x2="56.30" y2="599.34" stroke="#333" stroke-width="1"/>
<text x="43.50" y="603.14" font-size="10.5" text-anchor="end" textLength="6.54" lengthAdjust="spacingAndGlyphs">2</text>
<line x1="56.30" y1="573.18" x2="588.00" y2="573.18" stroke="#a8a8a8" stroke-width="0.8"/>
<line x1="50.00" y1="573.18" x2="56.30" y2="573.18" stroke="#333" stroke-width="1"/>
<text x="43.50" y="576.98" font-size="10.5" text-anchor="end" textLength="6.54" lengthAdjust="spacingAndGlyphs">4</text>
<line x1="56.30" y1="547.02" x2="588.00" y2="547.02" stroke="#a8a8a8" stroke-width="0.8"/>
<line x1="50.00" y1="547.02" x2="56.30" y2="547.02" stroke="#333" stroke-width="1"/>
<text x="43.50" y="550.82" font-size="10.5" text-anchor="end" textLength="6.54" lengthAdjust="spacingAndGlyphs">6</text>
<line x1="56.30" y1="520.86" x2="588.00" y2="520.86" stroke="#a8a8a8" stroke-width="0.8"/>
<line x1="50.00" y1="520.86" x2="56.30" y2="520.86" stroke="#333" stroke-width="1"/>
<text x="43.50" y="524.66" font-size="10.5" text-anchor="end" textLength="6.54" lengthAdjust="spacingAndGlyphs">8</text>
<line x1="56.30" y1="494.70" x2="588.00" y2="494.70" stroke="#a8a8a8" stroke-width="0.8"/>
<line x1="50.00" y1="494.70" x2="56.30" y2="494.70" stroke="#333" stroke-width="1"/>
<text x="43.50" y="498.50" font-size="10.5" text-anchor="end" textLength="19.54" lengthAdjust="spacingAndGlyphs">≥10</text>
<text x="12.10" y="559.60" font-size="14" text-anchor="middle" textLength="87.50" lengthAdjust="spacingAndGlyphs" transform="rotate(-90 12.10 559.60)">Copy number</text>
<line x1="56.30" y1="423.90" x2="588.00" y2="423.90" stroke="#1a1a1a" stroke-width="1.7"/>
<line x1="56.30" y1="452.50" x2="588.00" y2="452.50" stroke="#1a1a1a" stroke-width="1.7"/>
<text x="672.70" y="388.20" font-size="13.4" textLength="510.80" lengthAdjust="spacingAndGlyphs">SARC–051_REGION–1–Illumina: GRIDSS2 and PURPLE. Purity: 0.95, ploidy: 2.04</text>
<text x="640.20" y="420.60" font-size="10" textLength="54.70" lengthAdjust="spacingAndGlyphs">t2tINV (–/–)</text>
<text x="635.20" y="434.70" font-size="10" fill="#2e8b2e" textLength="59.70" lengthAdjust="spacingAndGlyphs">h2hINV (+/+)</text>
<text x="650.60" y="448.80" font-size="10" fill="#2a2aa0" textLength="44.30" lengthAdjust="spacingAndGlyphs">DUP (–/+)</text>
<text x="651.90" y="462.90" font-size="10" fill="#f5a623" textLength="43.00" lengthAdjust="spacingAndGlyphs">DEL (+/–)</text>
<rect x="667.50" y="612.42" width="532.50" height="13.08" fill="#ececec"/>
<rect x="667.50" y="599.34" width="532.50" height="13.08" fill="#fdf5ec"/>
<rect x="667.50" y="586.26" width="532.50" height="13.08" fill="#ececec"/>
<rect x="667.50" y="573.18" width="532.50" height="13.08" fill="#fdf5ec"/>
<rect x="667.50" y="560.10" width="532.50" height="13.08" fill="#ececec"/>
<rect x="667.50" y="547.02" width="532.50" height="13.08" fill="#fdf5ec"/>
<rect x="667.50" y="533.94" width="532.50" height="13.08" fill="#ececec"/>
<rect x="667.50" y="520.86" width="532.50" height="13.08" fill="#fdf5ec"/>
<rect x="667.50" y="507.78" width="532.50" height="13.08" fill="#ececec"/>
<rect x="667.50" y="494.70" width="532.50" height="13.08" fill="#fdf5ec"/>
<line x1="667.50" y1="625.50" x2="1200.00" y2="625.50" stroke="#a8a8a8" stroke-width="0.8"/>
<line x1="661.20" y1="625.50" x2="667.50" y2="625.50" stroke="#333" stroke-width="1"/>
<text x="654.70" y="629.30" font-size="10.5" text-anchor="end" textLength="6.54" lengthAdjust="spacingAndGlyphs">0</text>
<line x1="667.50" y1="599.34" x2="1200.00" y2="599.34" stroke="#a8a8a8" stroke-width="0.8"/>
<line x1="661.20" y1="599.34" x2="667.50" y2="599.34" stroke="#333" stroke-width="1"/>
<text x="654.70" y="603.14" font-size="10.5" text-anchor="end" textLength="6.54" lengthAdjust="spacingAndGlyphs">2</text>
<line x1="667.50" y1="573.18" x2="1200.00" y2="573.18" stroke="#a8a8a8" stroke-width="0.8"/>
<line x1="661.20" y1="573.18" x2="667.50" y2="573.18" stroke="#333" stroke-width="1"/>
<text x="654.70" y="576.98" font-size="10.5" text-anchor="end" textLength="6.54" lengthAdjust="spacingAndGlyphs">4</text>
<line x1="667.50" y1="547.02" x2="1200.00" y2="547.02" stroke="#a8a8a8" stroke-width="0.8"/>
<line x1="661.20" y1="547.02" x2="667.50" y2="547.02" stroke="#333" stroke-width="1"/>
<text x="654.70" y="550.82" font-size="10.5" text-anchor="end" textLength="6.54" lengthAdjust="spacingAndGlyphs">6</text>
<line x1="667.50" y1="520.86" x2="1200.00" y2="520.86" stroke="#a8a8a8" stroke-width="0.8"/>
<line x1="661.20" y1="520.86" x2="667.50" y2="520.86" stroke="#333" stroke-width="1"/>
<text x="654.70" y="524.66" font-size="10.5" text-anchor="end" textLength="6.54" lengthAdjust="spacingAndGlyphs">8</text>
<line x1="667.50" y1="494.70" x2="1200.00" y2="494.70" stroke="#a8a8a8" stroke-width="0.8"/>
<line x1="661.20" y1="494.70" x2="667.50" y2="494.70" stroke="#333" stroke-width="1"/>
<text x="654.70" y="498.50" font-size="10.5" text-anchor="end" textLength="19.54" lengthAdjust="spacingAndGlyphs">≥10</text>
<text x="623.30" y="559.60" font-size="14" text-anchor="middle" textLength="87.50" lengthAdjust="spacingAndGlyphs" transform="rotate(-90 623.30 559.60)">Copy number</text>
<line x1="667.50" y1="423.90" x2="1200.00" y2="423.90" stroke="#1a1a1a" stroke-width="1.7"/>
<line x1="667.50" y1="452.50" x2="1200.00" y2="452.50" stroke="#1a1a1a" stroke-width="1.7"/>
<text x="56.00" y="718.70" font-size="13.4" textLength="506.50" lengthAdjust="spacingAndGlyphs">SARC–015–ONT: SAVANA SVs and total copy number. Purity: 0.73, ploidy: 2.11</text>
<text x="-0.80" y="715.50" font-size="22" font-weight="bold" stroke="#000" stroke-width="0.8">e</text>
<text x="27.20" y="751.10" font-size="10" textLength="54.70" lengthAdjust="spacingAndGlyphs">t2tINV (–/–)</text>
<text x="22.20" y="765.20" font-size="10" fill="#2e8b2e" textLength="59.70" lengthAdjust="spacingAndGlyphs">h2hINV (+/+)</text>
<text x="37.60" y="779.30" font-size="10" fill="#2a2aa0" textLength="44.30" lengthAdjust="spacingAndGlyphs">DUP (–/+)</text>
<text x="38.90" y="793.40" font-size="10" fill="#f5a623" textLength="43.00" lengthAdjust="spacingAndGlyphs">DEL (+/–)</text>
<rect x="56.30" y="942.92" width="531.70" height="13.08" fill="#ececec"/>
<rect x="56.30" y="929.84" width="531.70" height="13.08" fill="#fdf5ec"/>
<rect x="56.30" y="916.76" width="531.70" height="13.08" fill="#ececec"/>
<rect x="56.30" y="903.68" width="531.70" height="13.08" fill="#fdf5ec"/>
<rect x="56.30" y="890.60" width="531.70" height="13.08" fill="#ececec"/>
<rect x="56.30" y="877.52" width="531.70" height="13.08" fill="#fdf5ec"/>
<rect x="56.30" y="864.44" width="531.70" height="13.08" fill="#ececec"/>
<rect x="56.30" y="851.36" width="531.70" height="13.08" fill="#fdf5ec"/>
<rect x="56.30" y="838.28" width="531.70" height="13.08" fill="#ececec"/>
<rect x="56.30" y="825.20" width="531.70" height="13.08" fill="#fdf5ec"/>
<line x1="56.30" y1="956.00" x2="588.00" y2="956.00" stroke="#a8a8a8" stroke-width="0.8"/>
<line x1="50.00" y1="956.00" x2="56.30" y2="956.00" stroke="#333" stroke-width="1"/>
<text x="43.50" y="959.80" font-size="10.5" text-anchor="end" textLength="6.54" lengthAdjust="spacingAndGlyphs">0</text>
<line x1="56.30" y1="929.84" x2="588.00" y2="929.84" stroke="#a8a8a8" stroke-width="0.8"/>
<line x1="50.00" y1="929.84" x2="56.30" y2="929.84" stroke="#333" stroke-width="1"/>
<text x="43.50" y="933.64" font-size="10.5" text-anchor="end" textLength="6.54" lengthAdjust="spacingAndGlyphs">2</text>
<line x1="56.30" y1="903.68" x2="588.00" y2="903.68" stroke="#a8a8a8" stroke-width="0.8"/>
<line x1="50.00" y1="903.68" x2="56.30" y2="903.68" stroke="#333" stroke-width="1"/>
<text x="43.50" y="907.48" font-size="10.5" text-anchor="end" textLength="6.54" lengthAdjust="spacingAndGlyphs">4</text>
<line x1="56.30" y1="877.52" x2="588.00" y2="877.52" stroke="#a8a8a8" stroke-width="0.8"/>
<line x1="50.00" y1="877.52" x2="56.30" y2="877.52" stroke="#333" stroke-width="1"/>
<text x="43.50" y="881.32" font-size="10.5" text-anchor="end" textLength="6.54" lengthAdjust="spacingAndGlyphs">6</text>
<line x1="56.30" y1="851.36" x2="588.00" y2="851.36" stroke="#a8a8a8" stroke-width="0.8"/>
<line x1="50.00" y1="851.36" x2="56.30" y2="851.36" stroke="#333" stroke-width="1"/>
<text x="43.50" y="855.16" font-size="10.5" text-anchor="end" textLength="6.54" lengthAdjust="spacingAndGlyphs">8</text>
<line x1="56.30" y1="825.20" x2="588.00" y2="825.20" stroke="#a8a8a8" stroke-width="0.8"/>
<line x1="50.00" y1="825.20" x2="56.30" y2="825.20" stroke="#333" stroke-width="1"/>
<text x="43.50" y="829.00" font-size="10.5" text-anchor="end" textLength="19.54" lengthAdjust="spacingAndGlyphs">≥10</text>
<text x="12.10" y="890.10" font-size="14" text-anchor="middle" textLength="87.50" lengthAdjust="spacingAndGlyphs" transform="rotate(-90 12.10 890.10)">Copy number</text>
<line x1="56.30" y1="754.40" x2="588.00" y2="754.40" stroke="#1a1a1a" stroke-width="1.7"/>
<line x1="56.30" y1="783.00" x2="588.00" y2="783.00" stroke="#1a1a1a" stroke-width="1.7"/>
<text x="668.50" y="718.70" font-size="13.4" textLength="429.00" lengthAdjust="spacingAndGlyphs">SARC–015–Illumina: GRIDSS2 and PURPLE. Purity: 0.7, ploidy: 2.24</text>
<text x="640.20" y="751.10" font-size="10" textLength="54.70" lengthAdjust="spacingAndGlyphs">t2tINV (–/–)</text>
<text x="635.20" y="765.20" font-size="10" fill="#2e8b2e" textLength="59.70" lengthAdjust="spacingAndGlyphs">h2hINV (+/+)</text>
<text x="650.60" y="779.30" font-size="10" fill="#2a2aa0" textLength="44.30" lengthAdjust="spacingAndGlyphs">DUP (–/+)</text>
<text x="651.90" y="793.40" font-size="10" fill="#f5a623" textLength="43.00" lengthAdjust="spacingAndGlyphs">DEL (+/–)</text>
<rect x="667.50" y="942.92" width="532.50" height="13.08" fill="#ececec"/>
<rect x="667.50" y="929.84" width="532.50" height="13.08" fill="#fdf5ec"/>
<rect x="667.50" y="916.76" width="532.50" height="13.08" fill="#ececec"/>
<rect x="667.50" y="903.68" width="532.50" height="13.08" fill="#fdf5ec"/>
<rect x="667.50" y="890.60" width="532.50" height="13.08" fill="#ececec"/>
<rect x="667.50" y="877.52" width="532.50" height="13.08" fill="#fdf5ec"/>
<rect x="667.50" y="864.44" width="532.50" height="13.08" fill="#ececec"/>
<rect x="667.50" y="851.36" width="532.50" height="13.08" fill="#fdf5ec"/>
<rect x="667.50" y="838.28" width="532.50" height="13.08" fill="#ececec"/>
<rect x="667.50" y="825.20" width="532.50" height="13.08" fill="#fdf5ec"/>
<line x1="667.50" y1="956.00" x2="1200.00" y2="956.00" stroke="#a8a8a8" stroke-width="0.8"/>
<line x1="661.20" y1="956.00" x2="667.50" y2="956.00" stroke="#333" stroke-width="1"/>
<text x="654.70" y="959.80" font-size="10.5" text-anchor="end" textLength="6.54" lengthAdjust="spacingAndGlyphs">0</text>
<line x1="667.50" y1="929.84" x2="1200.00" y2="929.84" stroke="#a8a8a8" stroke-width="0.8"/>
<line x1="661.20" y1="929.84" x2="667.50" y2="929.84" stroke="#333" stroke-width="1"/>
<text x="654.70" y="933.64" font-size="10.5" text-anchor="end" textLength="6.54" lengthAdjust="spacingAndGlyphs">2</text>
<line x1="667.50" y1="903.68" x2="1200.00" y2="903.68" stroke="#a8a8a8" stroke-width="0.8"/>
<line x1="661.20" y1="903.68" x2="667.50" y2="903.68" stroke="#333" stroke-width="1"/>
<text x="654.70" y="907.48" font-size="10.5" text-anchor="end" textLength="6.54" lengthAdjust="spacingAndGlyphs">4</text>
<line x1="667.50" y1="877.52" x2="1200.00" y2="877.52" stroke="#a8a8a8" stroke-width="0.8"/>
<line x1="661.20" y1="877.52" x2="667.50" y2="877.52" stroke="#333" stroke-width="1"/>
<text x="654.70" y="881.32" font-size="10.5" text-anchor="end" textLength="6.54" lengthAdjust="spacingAndGlyphs">6</text>
<line x1="667.50" y1="851.36" x2="1200.00" y2="851.36" stroke="#a8a8a8" stroke-width="0.8"/>
<line x1="661.20" y1="851.36" x2="667.50" y2="851.36" stroke="#333" stroke-width="1"/>
<text x="654.70" y="855.16" font-size="10.5" text-anchor="end" textLength="6.54" lengthAdjust="spacingAndGlyphs">8</text>
<line x1="667.50" y1="825.20" x2="1200.00" y2="825.20" stroke="#a8a8a8" stroke-width="0.8"/>
<line x1="661.20" y1="825.20" x2="667.50" y2="825.20" stroke="#333" stroke-width="1"/>
<text x="654.70" y="829.00" font-size="10.5" text-anchor="end" textLength="19.54" lengthAdjust="spacingAndGlyphs">≥10</text>
<text x="623.30" y="890.10" font-size="14" text-anchor="middle" textLength="87.50" lengthAdjust="spacingAndGlyphs" transform="rotate(-90 623.30 890.10)">Copy number</text>
<line x1="667.50" y1="754.40" x2="1200.00" y2="754.40" stroke="#1a1a1a" stroke-width="1.7"/>
<line x1="667.50" y1="783.00" x2="1200.00" y2="783.00" stroke="#1a1a1a" stroke-width="1.7"/>
<text x="56.00" y="1048.70" font-size="13.4" textLength="501.50" lengthAdjust="spacingAndGlyphs">SARC–012–ONT: SAVANA SVs and total copy number. Purity: 0.6, ploidy: 1.93</text>
<text x="-0.80" y="1047.50" font-size="22" font-weight="bold" stroke="#000" stroke-width="0.8">f</text>
<text x="26.20" y="1081.10" font-size="10" textLength="54.70" lengthAdjust="spacingAndGlyphs">t2tINV (–/–)</text>
<text x="21.20" y="1095.20" font-size="10" fill="#2e8b2e" textLength="59.70" lengthAdjust="spacingAndGlyphs">h2hINV (+/+)</text>
<text x="36.60" y="1109.30" font-size="10" fill="#2a2aa0" textLength="44.30" lengthAdjust="spacingAndGlyphs">DUP (–/+)</text>
<text x="37.90" y="1123.40" font-size="10" fill="#f5a623" textLength="43.00" lengthAdjust="spacingAndGlyphs">DEL (+/–)</text>
<rect x="55.30" y="1272.92" width="532.70" height="13.08" fill="#ececec"/>
<rect x="55.30" y="1259.84" width="532.70" height="13.08" fill="#fdf5ec"/>
<rect x="55.30" y="1246.76" width="532.70" height="13.08" fill="#ececec"/>
<rect x="55.30" y="1233.68" width="532.70" height="13.08" fill="#fdf5ec"/>
<rect x="55.30" y="1220.60" width="532.70" height="13.08" fill="#ececec"/>
<rect x="55.30" y="1207.52" width="532.70" height="13.08" fill="#fdf5ec"/>
<rect x="55.30" y="1194.44" width="532.70" height="13.08" fill="#ececec"/>
<rect x="55.30" y="1181.36" width="532.70" height="13.08" fill="#fdf5ec"/>
<rect x="55.30" y="1168.28" width="532.70" height="13.08" fill="#ececec"/>
<rect x="55.30" y="1155.20" width="532.70" height="13.08" fill="#fdf5ec"/>
<line x1="55.30" y1="1286.00" x2="588.00" y2="1286.00" stroke="#a8a8a8" stroke-width="0.8"/>
<line x1="49.00" y1="1286.00" x2="55.30" y2="1286.00" stroke="#333" stroke-width="1"/>
<text x="42.50" y="1289.80" font-size="10.5" text-anchor="end" textLength="6.54" lengthAdjust="spacingAndGlyphs">0</text>
<line x1="55.30" y1="1259.84" x2="588.00" y2="1259.84" stroke="#a8a8a8" stroke-width="0.8"/>
<line x1="49.00" y1="1259.84" x2="55.30" y2="1259.84" stroke="#333" stroke-width="1"/>
<text x="42.50" y="1263.64" font-size="10.5" text-anchor="end" textLength="6.54" lengthAdjust="spacingAndGlyphs">2</text>
<line x1="55.30" y1="1233.68" x2="588.00" y2="1233.68" stroke="#a8a8a8" stroke-width="0.8"/>
<line x1="49.00" y1="1233.68" x2="55.30" y2="1233.68" stroke="#333" stroke-width="1"/>
<text x="42.50" y="1237.48" font-size="10.5" text-anchor="end" textLength="6.54" lengthAdjust="spacingAndGlyphs">4</text>
<line x1="55.30" y1="1207.52" x2="588.00" y2="1207.52" stroke="#a8a8a8" stroke-width="0.8"/>
<line x1="49.00" y1="1207.52" x2="55.30" y2="1207.52" stroke="#333" stroke-width="1"/>
<text x="42.50" y="1211.32" font-size="10.5" text-anchor="end" textLength="6.54" lengthAdjust="spacingAndGlyphs">6</text>
<line x1="55.30" y1="1181.36" x2="588.00" y2="1181.36" stroke="#a8a8a8" stroke-width="0.8"/>
<line x1="49.00" y1="1181.36" x2="55.30" y2="1181.36" stroke="#333" stroke-width="1"/>
<text x="42.50" y="1185.16" font-size="10.5" text-anchor="end" textLength="6.54" lengthAdjust="spacingAndGlyphs">8</text>
<line x1="55.30" y1="1155.20" x2="588.00" y2="1155.20" stroke="#a8a8a8" stroke-width="0.8"/>
<line x1="49.00" y1="1155.20" x2="55.30" y2="1155.20" stroke="#333" stroke-width="1"/>
<text x="42.50" y="1159.00" font-size="10.5" text-anchor="end" textLength="19.54" lengthAdjust="spacingAndGlyphs">≥10</text>
<text x="11.10" y="1220.10" font-size="14" text-anchor="middle" textLength="87.50" lengthAdjust="spacingAndGlyphs" transform="rotate(-90 11.10 1220.10)">Copy number</text>
<line x1="55.30" y1="1084.40" x2="588.00" y2="1084.40" stroke="#1a1a1a" stroke-width="1.7"/>
<line x1="55.30" y1="1113.00" x2="588.00" y2="1113.00" stroke="#1a1a1a" stroke-width="1.7"/>
<text x="667.50" y="1048.70" font-size="13.4" textLength="436.50" lengthAdjust="spacingAndGlyphs">SARC–012–Illumina: GRIDSS2 and PURPLE. Purity: 0.46, ploidy: 1.98</text>
<text x="639.20" y="1081.10" font-size="10" textLength="54.70" lengthAdjust="spacingAndGlyphs">t2tINV (–/–)</text>
<text x="634.20" y="1095.20" font-size="10" fill="#2e8b2e" textLength="59.70" lengthAdjust="spacingAndGlyphs">h2hINV (+/+)</text>
<text x="649.60" y="1109.30" font-size="10" fill="#2a2aa0" textLength="44.30" lengthAdjust="spacingAndGlyphs">DUP (–/+)</text>
<text x="650.90" y="1123.40" font-size="10" fill="#f5a623" textLength="43.00" lengthAdjust="spacingAndGlyphs">DEL (+/–)</text>
<rect x="666.50" y="1272.92" width="533.50" height="13.08" fill="#ececec"/>
<rect x="666.50" y="1259.84" width="533.50" height="13.08" fill="#fdf5ec"/>
<rect x="666.50" y="1246.76" width="533.50" height="13.08" fill="#ececec"/>
<rect x="666.50" y="1233.68" width="533.50" height="13.08" fill="#fdf5ec"/>
<rect x="666.50" y="1220.60" width="533.50" height="13.08" fill="#ececec"/>
<rect x="666.50" y="1207.52" width="533.50" height="13.08" fill="#fdf5ec"/>
<rect x="666.50" y="1194.44" width="533.50" height="13.08" fill="#ececec"/>
<rect x="666.50" y="1181.36" width="533.50" height="13.08" fill="#fdf5ec"/>
<rect x="666.50" y="1168.28" width="533.50" height="13.08" fill="#ececec"/>
<rect x="666.50" y="1155.20" width="533.50" height="13.08" fill="#fdf5ec"/>
<line x1="666.50" y1="1286.00" x2="1200.00" y2="1286.00" stroke="#a8a8a8" stroke-width="0.8"/>
<line x1="660.20" y1="1286.00" x2="666.50" y2="1286.00" stroke="#333" stroke-width="1"/>
<text x="653.70" y="1289.80" font-size="10.5" text-anchor="end" textLength="6.54" lengthAdjust="spacingAndGlyphs">0</text>
<line x1="666.50" y1="1259.84" x2="1200.00" y2="1259.84" stroke="#a8a8a8" stroke-width="0.8"/>
<line x1="660.20" y1="1259.84" x2="666.50" y2="1259.84" stroke="#333" stroke-width="1"/>
<text x="653.70" y="1263.64" font-size="10.5" text-anchor="end" textLength="6.54" lengthAdjust="spacingAndGlyphs">2</text>
<line x1="666.50" y1="1233.68" x2="1200.00" y2="1233.68" stroke="#a8a8a8" stroke-width="0.8"/>
<line x1="660.20" y1="1233.68" x2="666.50" y2="1233.68" stroke="#333" stroke-width="1"/>
<text x="653.70" y="1237.48" font-size="10.5" text-anchor="end" textLength="6.54" lengthAdjust="spacingAndGlyphs">4</text>
<line x1="666.50" y1="1207.52" x2="1200.00" y2="1207.52" stroke="#a8a8a8" stroke-width="0.8"/>
<line x1="660.20" y1="1207.52" x2="666.50" y2="1207.52" stroke="#333" stroke-width="1"/>
<text x="653.70" y="1211.32" font-size="10.5" text-anchor="end" textLength="6.54" lengthAdjust="spacingAndGlyphs">6</text>
<line x1="666.50" y1="1181.36" x2="1200.00" y2="1181.36" stroke="#a8a8a8" stroke-width="0.8"/>
<line x1="660.20" y1="1181.36" x2="666.50" y2="1181.36" stroke="#333" stroke-width="1"/>
<text x="653.70" y="1185.16" font-size="10.5" text-anchor="end" textLength="6.54" lengthAdjust="spacingAndGlyphs">8</text>
<line x1="666.50" y1="1155.20" x2="1200.00" y2="1155.20" stroke="#a8a8a8" stroke-width="0.8"/>
<line x1="660.20" y1="1155.20" x2="666.50" y2="1155.20" stroke="#333" stroke-width="1"/>
<text x="653.70" y="1159.00" font-size="10.5" text-anchor="end" textLength="19.54" lengthAdjust="spacingAndGlyphs">≥10</text>
<text x="622.30" y="1220.10" font-size="14" text-anchor="middle" textLength="87.50" lengthAdjust="spacingAndGlyphs" transform="rotate(-90 622.30 1220.10)">Copy number</text>
<line x1="666.50" y1="1084.40" x2="1200.00" y2="1084.40" stroke="#1a1a1a" stroke-width="1.7"/>
<line x1="666.50" y1="1113.00" x2="1200.00" y2="1113.00" stroke="#1a1a1a" stroke-width="1.7"/>
<rect x="69.00" y="623.20" width="66.75" height="4.60" fill="#5aa6e6"/>
<rect x="193.00" y="623.20" width="2.80" height="4.60" fill="#5aa6e6"/>
<rect x="135.75" y="610.12" width="56.75" height="4.60" fill="#5aa6e6"/>
<rect x="196.25" y="610.12" width="61.75" height="4.60" fill="#5aa6e6"/>
<rect x="272.00" y="610.12" width="33.80" height="4.60" fill="#5aa6e6"/>
<rect x="307.00" y="610.12" width="199.50" height="4.60" fill="#5aa6e6"/>
<rect x="508.00" y="610.12" width="80.00" height="4.60" fill="#5aa6e6"/>
<rect x="69.00" y="610.12" width="66.75" height="4.60" fill="#000"/>
<rect x="192.50" y="610.12" width="3.75" height="4.60" fill="#000"/>
<rect x="258.00" y="610.12" width="2.00" height="4.60" fill="#000"/>
<rect x="264.00" y="610.12" width="4.00" height="4.60" fill="#000"/>
<rect x="270.00" y="610.12" width="2.00" height="4.60" fill="#000"/>
<rect x="135.75" y="597.04" width="56.75" height="4.60" fill="#000"/>
<rect x="196.25" y="597.04" width="61.75" height="4.60" fill="#000"/>
<rect x="272.00" y="597.04" width="33.80" height="4.60" fill="#000"/>
<rect x="307.00" y="597.04" width="45.00" height="4.60" fill="#000"/>
<rect x="352.00" y="583.96" width="236.00" height="4.60" fill="#000"/>
<rect x="258.00" y="623.20" width="2.00" height="4.60" fill="#5aa6e6"/>
<rect x="262.00" y="623.20" width="3.00" height="4.60" fill="#000"/>
<rect x="265.00" y="623.20" width="2.00" height="4.60" fill="#5aa6e6"/>
<rect x="268.00" y="623.20" width="3.00" height="4.60" fill="#000"/>
<rect x="305.60" y="584.26" width="1.60" height="4.50" fill="#000"/>
<rect x="265.00" y="584.26" width="1.40" height="4.00" fill="#000"/>
<rect x="507.00" y="570.68" width="1.20" height="4.00" fill="#000"/>
<path d="M101.30,423.90 Q117.75,433.90 134.20,423.90" stroke="#1a1a1a" stroke-width="1.0" fill="none"/>
<path d="M101.30,452.50 Q112.75,460.50 124.20,452.50" stroke="#ffa500" stroke-width="1.0" fill="none"/>
<path d="M124.20,423.90 Q128.10,418.90 132.00,423.90" stroke="#2e8b2e" stroke-width="1.0" fill="none"/>
<path d="M192.50,423.90 Q227.00,411.50 261.50,423.90" stroke="#2e8b2e" stroke-width="1.0" fill="none"/>
<line x1="101.50" y1="423.90" x2="101.50" y2="452.50" stroke="#1a1a1a" stroke-width="1.0" stroke-opacity="0.85"/>
<line x1="101.50" y1="452.50" x2="101.50" y2="625.50" stroke="#ffa500" stroke-width="1.3" stroke-opacity="0.85"/>
<line x1="116.50" y1="411.00" x2="116.50" y2="625.50" stroke="#33dd33" stroke-width="1.3" stroke-opacity="0.85"/>
<line x1="124.50" y1="423.90" x2="124.50" y2="625.50" stroke="#8fa05a" stroke-width="1.3" stroke-opacity="0.85"/>
<path d="M126.00,409.60 L131.50,410.80" stroke="#2e8b2e" stroke-width="1.0" fill="none"/>
<line x1="131.40" y1="410.80" x2="131.40" y2="625.50" stroke="#2e7a2e" stroke-width="1.5" stroke-opacity="0.85"/>
<line x1="133.50" y1="423.90" x2="133.50" y2="625.50" stroke="#2e8b2e" stroke-width="1.0" stroke-opacity="0.85"/>
<line x1="135.50" y1="423.90" x2="135.50" y2="625.50" stroke="#9a9a9a" stroke-width="1.0" stroke-opacity="0.85"/>
<line x1="192.50" y1="423.90" x2="192.50" y2="625.50" stroke="#4a9a4a" stroke-width="1.0" stroke-opacity="0.85"/>
<line x1="258.50" y1="452.50" x2="258.50" y2="625.50" stroke="#ffa500" stroke-width="1.0" stroke-opacity="0.85"/>
<path d="M258.40,452.50 L261.40,452.50" stroke="#ffa500" stroke-width="1.0" fill="none"/>
<path d="M256.40,408.80 L261.40,410.00" stroke="#ffa500" stroke-width="1.0" fill="none"/>
<line x1="261.30" y1="410.00" x2="261.30" y2="625.50" stroke="#e09a20" stroke-width="1.4" stroke-opacity="0.85"/>
<rect x="262.50" y="410.00" width="2.70" height="215.50" fill="#33dd22"/>
<line x1="266.50" y1="410.00" x2="266.50" y2="625.50" stroke="#4848b0" stroke-width="1.0" stroke-opacity="0.85"/>
<line x1="268.50" y1="423.90" x2="268.50" y2="625.50" stroke="#88c088" stroke-width="1.0" stroke-opacity="0.85"/>
<path d="M265.90,408.40 L271.40,409.60" stroke="#1a1a1a" stroke-width="1.0" fill="none"/>
<line x1="271.40" y1="409.60" x2="271.40" y2="625.50" stroke="#505050" stroke-width="1.6" stroke-opacity="0.85"/>
<line x1="316.50" y1="410.80" x2="316.50" y2="625.50" stroke="#33dd33" stroke-width="1.3" stroke-opacity="0.85"/>
<path d="M347.50,409.10 L352.50,410.30" stroke="#3a3a9a" stroke-width="1.0" fill="none"/>
<line x1="352.50" y1="410.30" x2="352.50" y2="625.50" stroke="#24246e" stroke-width="1.2" stroke-opacity="0.85"/>
<circle cx="116.20" cy="410.90" r="2.2" fill="#6f7fd0"/>
<circle cx="263.60" cy="410.60" r="2.2" fill="#6f7fd0"/>
<circle cx="316.40" cy="410.80" r="2.2" fill="#6f7fd0"/>
<text x="104.50" y="406.00" font-size="11.2" textLength="23.90" lengthAdjust="spacingAndGlyphs" font-style="italic">TP53</text>
<text x="253.60" y="405.80" font-size="11.2" textLength="17.60" lengthAdjust="spacingAndGlyphs" font-style="italic">NF1</text>
<text x="299.55" y="405.80" font-size="11.2" textLength="30.60" lengthAdjust="spacingAndGlyphs" font-style="italic">ERBB2</text>
<rect x="680.30" y="623.20" width="66.00" height="4.60" fill="#5aa6e6"/>
<rect x="803.80" y="623.20" width="2.70" height="4.60" fill="#5aa6e6"/>
<rect x="747.50" y="610.12" width="56.00" height="4.60" fill="#5aa6e6"/>
<rect x="807.00" y="610.12" width="63.00" height="4.60" fill="#5aa6e6"/>
<rect x="883.00" y="610.12" width="317.00" height="4.60" fill="#5aa6e6"/>
<rect x="680.30" y="610.12" width="66.00" height="4.60" fill="#000"/>
<rect x="803.50" y="610.12" width="3.50" height="4.60" fill="#000"/>
<rect x="870.00" y="610.12" width="2.00" height="4.60" fill="#000"/>
<rect x="875.00" y="610.12" width="4.00" height="4.60" fill="#000"/>
<rect x="743.50" y="597.04" width="2.80" height="4.60" fill="#000"/>
<rect x="748.00" y="597.04" width="55.70" height="4.60" fill="#000"/>
<rect x="807.00" y="597.04" width="63.00" height="4.60" fill="#000"/>
<rect x="883.50" y="597.04" width="79.70" height="4.60" fill="#000"/>
<rect x="963.20" y="583.96" width="234.30" height="4.60" fill="#000"/>
<rect x="1197.50" y="570.88" width="3.00" height="4.60" fill="#000"/>
<rect x="870.00" y="623.20" width="2.00" height="4.60" fill="#5aa6e6"/>
<rect x="873.00" y="623.20" width="3.00" height="4.60" fill="#000"/>
<rect x="877.00" y="623.20" width="2.00" height="4.60" fill="#5aa6e6"/>
<rect x="880.00" y="623.20" width="3.00" height="4.60" fill="#000"/>
<path d="M713.50,423.90 Q728.20,433.50 742.90,423.90" stroke="#1a1a1a" stroke-width="1.0" fill="none"/>
<path d="M713.50,452.50 Q724.35,460.10 735.20,452.50" stroke="#ffa500" stroke-width="1.0" fill="none"/>
<path d="M735.40,423.90 Q739.15,419.50 742.90,423.90" stroke="#2e8b2e" stroke-width="1.0" fill="none"/>
<path d="M804.20,423.90 Q838.35,411.90 872.50,423.90" stroke="#2e8b2e" stroke-width="1.0" fill="none"/>
<line x1="713.50" y1="423.90" x2="713.50" y2="452.50" stroke="#1a1a1a" stroke-width="1.0" stroke-opacity="0.85"/>
<line x1="713.50" y1="452.50" x2="713.50" y2="625.50" stroke="#ffa500" stroke-width="1.3" stroke-opacity="0.85"/>
<line x1="728.50" y1="410.30" x2="728.50" y2="625.50" stroke="#33dd33" stroke-width="1.3" stroke-opacity="0.85"/>
<line x1="735.50" y1="423.90" x2="735.50" y2="625.50" stroke="#2e8b2e" stroke-width="1.0" stroke-opacity="0.85"/>
<path d="M743.50,409.10 L747.50,410.30" stroke="#2e8b2e" stroke-width="1.0" fill="none"/>
<line x1="743.70" y1="410.00" x2="743.70" y2="625.50" stroke="#2e7a2e" stroke-width="1.6" stroke-opacity="0.85"/>
<line x1="747.50" y1="452.50" x2="747.50" y2="625.50" stroke="#ffa500" stroke-width="1.1" stroke-opacity="0.85"/>
<path d="M743.70,452.50 L747.50,452.50" stroke="#ffa500" stroke-width="1.0" fill="none"/>
<line x1="804.50" y1="423.90" x2="804.50" y2="625.50" stroke="#5aa85a" stroke-width="1.0" stroke-opacity="0.85"/>
<line x1="869.50" y1="452.50" x2="869.50" y2="625.50" stroke="#f5b040" stroke-width="1.0" stroke-opacity="0.85"/>
<path d="M870.00,452.50 L873.00,452.50" stroke="#ffa500" stroke-width="1.0" fill="none"/>
<line x1="872.50" y1="410.00" x2="872.50" y2="625.50" stroke="#f5c060" stroke-width="1.0" stroke-opacity="0.85"/>
<rect x="873.30" y="410.00" width="2.50" height="215.50" fill="#33dd22"/>
<path d="M887.00,409.20 L882.00,410.40" stroke="#1a1a6e" stroke-width="1.0" fill="none"/>
<line x1="877.50" y1="410.00" x2="877.50" y2="625.50" stroke="#1c1c9c" stroke-width="1.3" stroke-opacity="0.85"/>
<rect x="878.20" y="423.90" width="4.00" height="201.60" fill="#c4c4c4" fill-opacity="0.8"/>
<path d="M893.00,409.20 L888.00,410.40" stroke="#1a1a1a" stroke-width="1.0" fill="none"/>
<line x1="883.00" y1="410.00" x2="883.00" y2="625.50" stroke="#555" stroke-width="1.6" stroke-opacity="0.85"/>
<line x1="927.50" y1="410.60" x2="927.50" y2="625.50" stroke="#33dd33" stroke-width="1.3" stroke-opacity="0.85"/>
<path d="M973.50,408.80 L968.50,410.00" stroke="#3a3a9a" stroke-width="1.0" fill="none"/>
<line x1="963.50" y1="410.00" x2="963.50" y2="625.50" stroke="#22226e" stroke-width="1.2" stroke-opacity="0.85"/>
<circle cx="728.30" cy="410.30" r="2.2" fill="#6f7fd0"/>
<circle cx="874.30" cy="410.40" r="2.2" fill="#6f7fd0"/>
<circle cx="927.80" cy="410.60" r="2.2" fill="#6f7fd0"/>
<text x="716.65" y="405.60" font-size="11.2" textLength="23.90" lengthAdjust="spacingAndGlyphs" font-style="italic">TP53</text>
<text x="865.20" y="405.60" font-size="11.2" textLength="17.60" lengthAdjust="spacingAndGlyphs" font-style="italic">NF1</text>
<text x="911.60" y="405.60" font-size="11.2" textLength="30.60" lengthAdjust="spacingAndGlyphs" font-style="italic">ERBB2</text>
<rect x="64.00" y="940.62" width="524.00" height="4.60" fill="#5aa6e6"/>
<rect x="343.60" y="953.70" width="8.40" height="4.60" fill="#5aa6e6"/>
<rect x="325.00" y="953.70" width="2.50" height="4.60" fill="#5aa6e6"/>
<rect x="303.50" y="953.70" width="1.50" height="4.60" fill="#5aa6e6"/>
<rect x="64.00" y="927.54" width="25.00" height="4.60" fill="#000"/>
<rect x="92.30" y="927.54" width="44.40" height="4.60" fill="#000"/>
<rect x="142.30" y="927.54" width="47.20" height="4.60" fill="#000"/>
<rect x="191.00" y="927.54" width="96.00" height="4.60" fill="#000"/>
<rect x="302.60" y="927.54" width="19.80" height="4.60" fill="#000"/>
<rect x="325.00" y="927.54" width="2.00" height="4.60" fill="#000"/>
<rect x="366.30" y="927.54" width="11.30" height="4.60" fill="#000"/>
<rect x="390.70" y="927.54" width="4.30" height="4.60" fill="#000"/>
<rect x="402.00" y="927.54" width="1.50" height="4.60" fill="#000"/>
<rect x="426.50" y="927.54" width="161.50" height="4.60" fill="#000"/>
<rect x="88.50" y="822.90" width="2.50" height="4.60" fill="#000"/>
<rect x="138.50" y="822.90" width="3.00" height="4.60" fill="#000"/>
<rect x="191.00" y="822.90" width="1.50" height="4.60" fill="#000"/>
<rect x="290.50" y="822.90" width="4.30" height="4.60" fill="#000"/>
<rect x="304.50" y="822.90" width="1.50" height="4.60" fill="#000"/>
<rect x="311.00" y="822.90" width="1.50" height="4.60" fill="#000"/>
<rect x="322.50" y="822.90" width="1.50" height="4.60" fill="#000"/>
<rect x="354.30" y="822.90" width="2.70" height="4.60" fill="#000"/>
<rect x="359.00" y="822.90" width="4.50" height="4.60" fill="#000"/>
<rect x="396.00" y="822.90" width="1.50" height="4.60" fill="#000"/>
<rect x="411.00" y="822.90" width="3.00" height="4.60" fill="#000"/>
<rect x="416.00" y="822.90" width="4.00" height="4.60" fill="#000"/>
<rect x="136.50" y="835.98" width="1.50" height="4.60" fill="#000"/>
<rect x="287.30" y="835.98" width="1.20" height="4.60" fill="#000"/>
<rect x="297.00" y="835.98" width="5.00" height="4.60" fill="#000"/>
<rect x="357.50" y="862.14" width="1.30" height="4.60" fill="#000"/>
<rect x="402.50" y="862.14" width="1.20" height="4.60" fill="#000"/>
<rect x="338.70" y="875.22" width="4.30" height="4.60" fill="#000"/>
<rect x="379.00" y="875.22" width="10.70" height="4.60" fill="#000"/>
<rect x="345.00" y="914.46" width="6.40" height="4.60" fill="#000"/>
<rect x="395.00" y="900.60" width="1.20" height="4.60" fill="#000"/>
<path d="M79.6,754.4 Q252.3,707.4 425.0,754.4 M109.6,754.4 Q257.6,710.3 405.7,754.4 M130.6,754.4 Q264.8,714.0 399.0,754.4 M144.2,754.4 Q282.9,712.8 421.7,754.4 M163.5,754.4 Q286.8,716.9 410.0,754.4 M165.0,754.4 Q291.1,716.1 417.3,754.4 M173.8,754.4 Q298.4,716.5 423.0,754.4 M186.0,754.4 Q295.9,720.4 405.7,754.4 M190.7,754.4 Q294.9,721.9 399.0,754.4 M109.6,754.4 Q202.8,724.8 296.0,754.4 M130.6,754.4 Q220.6,725.6 310.7,754.4 M163.5,754.4 Q234.7,730.6 305.8,754.4 M186.0,754.4 Q251.2,732.2 316.3,754.4 M284.2,754.4 Q341.6,734.2 399.0,754.4 M296.0,754.4 Q350.9,734.9 405.7,754.4 M305.8,754.4 Q357.9,735.6 410.0,754.4 M310.7,754.4 Q364.0,735.3 417.3,754.4 M316.3,754.4 Q369.0,735.5 421.7,754.4 M326.7,754.4 Q374.9,736.7 423.0,754.4 M336.3,754.4 Q371.0,740.2 405.7,754.4 M343.3,754.4 Q376.6,740.6 410.0,754.4 M348.3,754.4 Q382.8,740.3 417.3,754.4 M356.3,754.4 Q389.6,740.6 423.0,754.4 M360.5,754.4 Q391.1,741.3 421.7,754.4 M290.9,754.4 Q354.1,732.7 417.3,754.4 M334.7,754.4 Q372.4,739.5 410.0,754.4 M284.2,754.4 Q300.2,745.2 316.3,754.4 M296.0,754.4 Q311.4,745.3 326.7,754.4 M305.8,754.4 Q321.1,745.4 336.3,754.4 M316.3,754.4 Q329.8,745.8 343.3,754.4 M326.7,754.4 Q341.5,745.5 356.3,754.4 M371.5,754.4 Q385.2,745.8 399.0,754.4 M399.0,754.4 Q408.1,747.0 417.3,754.4 M405.7,754.4 Q413.7,747.3 421.7,754.4 M410.0,754.4 Q416.5,747.7 423.0,754.4 M363.3,754.4 Q384.5,743.8 405.7,754.4 M298.0,754.4 Q360.5,732.9 423.0,754.4 M313.3,754.4 Q356.1,738.1 399.0,754.4 M337.7,754.4 Q379.7,738.3 421.7,754.4" stroke="#2a842a" stroke-width="0.9" fill="none" stroke-opacity="0.9"/>
<path d="M79.6,754.4 Q182.3,784.4 285.0,754.4 M79.6,754.4 Q224.8,784.4 370.0,754.4 M109.6,754.4 Q120.1,762.2 130.6,754.4 M137.0,754.4 Q233.5,784.4 330.0,754.4 M144.2,754.4 Q222.1,780.0 300.0,754.4 M173.8,754.4 Q261.9,782.7 350.0,754.4 M176.1,754.4 Q288.1,784.4 400.0,754.4 M186.0,754.4 Q254.3,777.4 322.7,754.4 M193.6,754.4 Q266.8,778.7 340.0,754.4 M193.6,754.4 Q246.8,773.4 300.0,754.4 M176.1,754.4 Q230.6,773.8 285.0,754.4 M337.7,754.4 Q363.8,766.3 389.9,754.4 M357.7,754.4 Q377.7,764.7 397.7,754.4 M311.7,754.4 Q335.4,765.6 359.0,754.4 M284.2,754.4 Q320.9,769.1 357.7,754.4 M337.7,754.4 Q363.8,766.3 389.9,754.4 M369.5,754.4 Q397.8,766.9 426.0,754.4 M329.7,754.4 Q375.7,771.5 421.7,754.4 M284.2,754.4 Q343.6,775.1 403.0,754.4 M311.7,754.4 Q366.7,773.9 421.7,754.4 M357.7,754.4 Q363.6,761.0 369.5,754.4 M315.3,754.4 Q333.1,764.1 350.8,754.4 M287.5,754.4 Q305.1,764.0 322.7,754.4 M322.7,754.4 Q366.1,770.9 409.5,754.4 M296.0,754.4 Q346.9,772.8 397.7,754.4 M350.8,754.4 Q354.9,760.5 359.0,754.4 M284.2,754.4 Q290.1,761.0 296.0,754.4 M287.5,754.4 Q342.6,773.9 397.7,754.4 M296.0,754.4 Q312.9,763.8 329.7,754.4 M364.5,754.4 Q367.0,760.1 369.5,754.4 M305.8,754.4 Q335.1,767.1 364.5,754.4 M311.7,754.4 Q357.4,771.5 403.0,754.4 M350.8,754.4 Q386.2,768.8 421.7,754.4 M315.3,754.4 Q359.1,771.0 403.0,754.4 M287.5,754.4 Q345.2,774.6 403.0,754.4 M315.3,754.4 Q356.5,770.3 397.7,754.4 M296.0,754.4 Q327.5,767.7 359.0,754.4 M364.5,754.4 Q393.1,767.0 421.7,754.4 M389.9,754.4 Q405.8,763.6 421.7,754.4 M389.9,754.4 Q405.8,763.6 421.7,754.4 M359.0,754.4 Q381.0,765.2 403.0,754.4 M284.2,754.4 Q290.1,761.0 296.0,754.4 M322.7,754.4 Q330.2,761.4 337.7,754.4 M357.7,754.4 Q391.9,768.4 426.0,754.4 M339.3,754.4 Q349.1,762.0 359.0,754.4 M305.8,754.4 Q321.8,763.6 337.7,754.4 M329.7,754.4 Q340.2,762.2 350.8,754.4 M357.7,754.4 Q391.9,768.4 426.0,754.4 M397.7,754.4 Q403.6,761.0 409.5,754.4 M315.3,754.4 Q356.5,770.3 397.7,754.4 M284.2,754.4 Q321.6,769.3 359.0,754.4 M287.5,754.4 Q326.0,769.6 364.5,754.4 M284.2,754.4 Q340.9,774.4 397.7,754.4 M329.7,754.4 Q347.1,764.0 364.5,754.4 M287.5,754.4 Q323.2,768.8 359.0,754.4 M322.7,754.4 Q372.2,772.5 421.7,754.4" stroke="#111111" stroke-width="0.9" fill="none" stroke-opacity="0.9"/>
<path d="M79.6,783.0 Q195.3,747.5 311.0,783.0 M89.8,783.0 Q215.6,744.8 341.3,783.0 M92.4,783.0 Q228.9,743.0 365.5,783.0 M111.3,783.0 Q248.3,743.0 385.3,783.0 M140.5,783.0 Q225.8,755.5 311.0,783.0 M141.7,783.0 Q276.5,743.0 411.3,783.0 M172.6,783.0 Q261.8,754.5 351.0,783.0 M192.4,783.0 Q305.6,748.1 418.7,783.0 M89.8,783.0 Q194.9,750.3 300.0,783.0 M111.3,783.0 Q220.5,749.2 329.7,783.0 M137.0,783.0 Q253.2,747.3 369.5,783.0 M79.6,783.0 Q234.8,743.0 389.9,783.0 M300.0,783.0 Q302.1,777.4 304.3,783.0 M315.3,783.0 Q342.4,770.8 369.5,783.0 M300.0,783.0 Q305.5,776.5 311.0,783.0 M329.7,783.0 Q374.2,766.3 418.7,783.0 M289.3,783.0 Q320.1,769.9 351.0,783.0 M329.7,783.0 Q347.6,773.3 365.5,783.0 M341.3,783.0 Q363.3,772.2 385.3,783.0 M411.3,783.0 Q415.0,777.0 418.7,783.0 M289.3,783.0 Q329.4,767.4 369.5,783.0 M341.3,783.0 Q353.4,774.8 365.5,783.0 M315.3,783.0 Q328.3,774.6 341.3,783.0 M329.7,783.0 Q347.6,773.3 365.5,783.0 M365.5,783.0 Q392.1,771.0 418.7,783.0 M324.9,783.0 Q345.2,772.6 365.5,783.0 M311.0,783.0 Q313.1,777.4 315.3,783.0 M365.5,783.0 Q367.5,777.5 369.5,783.0 M311.0,783.0 Q326.1,774.0 341.3,783.0 M304.3,783.0 Q309.8,776.5 315.3,783.0 M315.3,783.0 Q367.0,764.4 418.7,783.0 M289.3,783.0 Q337.3,765.3 385.3,783.0 M304.3,783.0 Q317.0,774.6 329.7,783.0 M304.3,783.0 Q322.8,773.1 341.3,783.0" stroke="#16168a" stroke-width="0.9" fill="none" stroke-opacity="0.9"/>
<path d="M79.6,783.0 Q191.9,817.7 304.3,783.0 M92.4,783.0 Q235.7,825.8 379.0,783.0 M111.3,783.0 Q253.5,825.5 395.7,783.0 M137.0,783.0 Q269.1,822.9 401.3,783.0 M172.6,783.0 Q230.9,803.4 289.3,783.0 M192.4,783.0 Q240.9,800.8 289.3,783.0 M79.6,783.0 Q246.3,829.0 413.0,783.0 M92.4,783.0 Q208.6,818.7 324.9,783.0 M111.3,783.0 Q221.7,817.1 332.0,783.0 M140.5,783.0 Q246.6,816.0 352.7,783.0 M172.6,783.0 Q258.4,810.7 344.3,783.0 M192.4,783.0 Q248.4,802.8 304.3,783.0 M324.9,783.0 Q328.4,788.9 332.0,783.0 M289.3,783.0 Q345.3,802.8 401.3,783.0 M289.3,783.0 Q328.4,798.3 367.5,783.0 M332.0,783.0 Q352.7,793.5 373.4,783.0 M304.3,783.0 Q328.5,794.4 352.7,783.0 M367.5,783.0 Q390.6,794.1 413.8,783.0 M289.3,783.0 Q307.1,792.7 324.9,783.0 M352.7,783.0 Q383.2,796.1 413.8,783.0 M401.3,783.0 Q407.6,789.6 413.8,783.0 M379.0,783.0 Q393.9,791.9 408.7,783.0 M344.3,783.0 Q361.6,792.6 379.0,783.0 M304.3,783.0 Q318.1,791.7 332.0,783.0 M367.5,783.0 Q384.4,792.5 401.3,783.0 M361.7,783.0 Q364.6,788.8 367.5,783.0 M361.7,783.0 Q370.4,790.3 379.0,783.0 M344.3,783.0 Q348.5,789.1 352.7,783.0 M361.7,783.0 Q370.4,790.3 379.0,783.0 M395.7,783.0 Q404.8,790.4 413.8,783.0 M324.9,783.0 Q343.3,792.9 361.7,783.0 M344.3,783.0 Q358.9,791.8 373.4,783.0 M289.3,783.0 Q349.0,803.8 408.7,783.0 M344.3,783.0 Q348.5,789.1 352.7,783.0 M367.5,783.0 Q388.1,793.4 408.7,783.0 M379.0,783.0 Q387.4,790.2 395.7,783.0 M361.7,783.0 Q378.7,792.5 395.7,783.0 M332.0,783.0 Q366.6,797.1 401.3,783.0 M344.3,783.0 Q370.0,794.8 395.7,783.0 M344.3,783.0 Q355.9,791.1 367.5,783.0" stroke="#f8a000" stroke-width="0.9" fill="none" stroke-opacity="0.9"/>
<line x1="79.60" y1="754.40" x2="79.60" y2="956.00" stroke="#1f5a1f" stroke-width="2.0" stroke-opacity="0.82"/>
<line x1="89.80" y1="783.00" x2="89.80" y2="956.00" stroke="#6a6ac8" stroke-width="1.45" stroke-opacity="0.82"/>
<line x1="92.40" y1="783.00" x2="92.40" y2="956.00" stroke="#f8a000" stroke-width="1.45" stroke-opacity="0.82"/>
<line x1="109.50" y1="754.40" x2="109.50" y2="956.00" stroke="#8fc48f" stroke-width="1.2" stroke-opacity="0.82"/>
<line x1="111.30" y1="783.00" x2="111.30" y2="956.00" stroke="#f8a000" stroke-width="1.45" stroke-opacity="0.82"/>
<line x1="130.60" y1="754.40" x2="130.60" y2="956.00" stroke="#2a842a" stroke-width="1.45" stroke-opacity="0.82"/>
<line x1="137.00" y1="754.40" x2="137.00" y2="956.00" stroke="#444444" stroke-width="2.0" stroke-opacity="0.82"/>
<line x1="140.50" y1="783.00" x2="140.50" y2="956.00" stroke="#6a6ac8" stroke-width="1.45" stroke-opacity="0.82"/>
<line x1="141.70" y1="783.00" x2="141.70" y2="956.00" stroke="#6a6ac8" stroke-width="1.45" stroke-opacity="0.82"/>
<line x1="144.20" y1="754.40" x2="144.20" y2="956.00" stroke="#2a842a" stroke-width="1.45" stroke-opacity="0.82"/>
<line x1="163.50" y1="754.40" x2="163.50" y2="956.00" stroke="#2a842a" stroke-width="1.45" stroke-opacity="0.82"/>
<line x1="165.00" y1="754.40" x2="165.00" y2="956.00" stroke="#2a842a" stroke-width="1.45" stroke-opacity="0.82"/>
<line x1="172.60" y1="783.00" x2="172.60" y2="956.00" stroke="#f8a000" stroke-width="1.45" stroke-opacity="0.82"/>
<line x1="173.80" y1="754.40" x2="173.80" y2="956.00" stroke="#2a842a" stroke-width="1.45" stroke-opacity="0.82"/>
<line x1="176.10" y1="754.40" x2="176.10" y2="956.00" stroke="#444444" stroke-width="1.45" stroke-opacity="0.82"/>
<line x1="186.00" y1="754.40" x2="186.00" y2="956.00" stroke="#2a842a" stroke-width="1.45" stroke-opacity="0.82"/>
<line x1="190.70" y1="754.40" x2="190.70" y2="956.00" stroke="#2a842a" stroke-width="1.45" stroke-opacity="0.82"/>
<line x1="192.40" y1="783.00" x2="192.40" y2="956.00" stroke="#b97a1c" stroke-width="1.5" stroke-opacity="0.82"/>
<line x1="193.60" y1="754.40" x2="193.60" y2="956.00" stroke="#111111" stroke-width="1.45" stroke-opacity="0.82"/>
<line x1="284.20" y1="754.40" x2="284.20" y2="956.00" stroke="#7a8c3a" stroke-width="1.45" stroke-opacity="0.82"/>
<line x1="287.50" y1="754.40" x2="287.50" y2="956.00" stroke="#5e3e5e" stroke-width="1.45" stroke-opacity="0.82"/>
<line x1="289.30" y1="783.00" x2="289.30" y2="956.00" stroke="#b97a1c" stroke-width="1.45" stroke-opacity="0.82"/>
<line x1="296.00" y1="754.40" x2="296.00" y2="956.00" stroke="#1f5a1f" stroke-width="1.6" stroke-opacity="0.82"/>
<line x1="298.00" y1="754.40" x2="298.00" y2="956.00" stroke="#8fc48f" stroke-width="1.5" stroke-opacity="0.82"/>
<line x1="302.30" y1="754.40" x2="302.30" y2="956.00" stroke="#8fc48f" stroke-width="1.45" stroke-opacity="0.82"/>
<line x1="304.30" y1="783.00" x2="304.30" y2="956.00" stroke="#f6c068" stroke-width="1.45" stroke-opacity="0.82"/>
<line x1="305.80" y1="754.40" x2="305.80" y2="956.00" stroke="#1f5a1f" stroke-width="1.6" stroke-opacity="0.82"/>
<line x1="310.70" y1="754.40" x2="310.70" y2="956.00" stroke="#1f5a1f" stroke-width="1.45" stroke-opacity="0.82"/>
<line x1="311.70" y1="754.40" x2="311.70" y2="956.00" stroke="#444444" stroke-width="1.4" stroke-opacity="0.82"/>
<line x1="313.30" y1="754.40" x2="313.30" y2="956.00" stroke="#8fc48f" stroke-width="1.45" stroke-opacity="0.82"/>
<line x1="315.30" y1="783.00" x2="315.30" y2="956.00" stroke="#161636" stroke-width="1.45" stroke-opacity="0.82"/>
<line x1="316.30" y1="754.40" x2="316.30" y2="956.00" stroke="#2a842a" stroke-width="1.45" stroke-opacity="0.82"/>
<line x1="322.70" y1="754.40" x2="322.70" y2="956.00" stroke="#444444" stroke-width="1.45" stroke-opacity="0.82"/>
<line x1="324.90" y1="783.00" x2="324.90" y2="956.00" stroke="#b97a1c" stroke-width="2.0" stroke-opacity="0.82"/>
<line x1="326.70" y1="754.40" x2="326.70" y2="956.00" stroke="#1f5a1f" stroke-width="1.45" stroke-opacity="0.82"/>
<line x1="328.00" y1="754.40" x2="328.00" y2="956.00" stroke="#7a8c3a" stroke-width="1.45" stroke-opacity="0.82"/>
<line x1="329.70" y1="754.40" x2="329.70" y2="956.00" stroke="#224e4e" stroke-width="1.45" stroke-opacity="0.82"/>
<line x1="332.00" y1="783.00" x2="332.00" y2="956.00" stroke="#f8a000" stroke-width="2.0" stroke-opacity="0.82"/>
<line x1="336.30" y1="754.40" x2="336.30" y2="956.00" stroke="#2a842a" stroke-width="1.45" stroke-opacity="0.82"/>
<line x1="337.70" y1="754.40" x2="337.70" y2="956.00" stroke="#1f5a1f" stroke-width="1.45" stroke-opacity="0.82"/>
<line x1="339.30" y1="754.40" x2="339.30" y2="956.00" stroke="#5e3e5e" stroke-width="1.45" stroke-opacity="0.82"/>
<line x1="341.30" y1="783.00" x2="341.30" y2="956.00" stroke="#6a6ac8" stroke-width="1.45" stroke-opacity="0.82"/>
<line x1="343.30" y1="754.40" x2="343.30" y2="956.00" stroke="#2a842a" stroke-width="1.45" stroke-opacity="0.82"/>
<line x1="344.30" y1="783.00" x2="344.30" y2="956.00" stroke="#b97a1c" stroke-width="1.45" stroke-opacity="0.82"/>
<line x1="348.30" y1="754.40" x2="348.30" y2="956.00" stroke="#1f5a1f" stroke-width="1.45" stroke-opacity="0.82"/>
<line x1="350.80" y1="783.00" x2="350.80" y2="956.00" stroke="#161636" stroke-width="1.5" stroke-opacity="0.82"/>
<line x1="352.70" y1="783.00" x2="352.70" y2="956.00" stroke="#b97a1c" stroke-width="1.5" stroke-opacity="0.82"/>
<line x1="353.50" y1="783.00" x2="353.50" y2="956.00" stroke="#b97a1c" stroke-width="1.5" stroke-opacity="0.82"/>
<line x1="356.30" y1="754.40" x2="356.30" y2="956.00" stroke="#7a8c3a" stroke-width="1.45" stroke-opacity="0.82"/>
<line x1="357.70" y1="754.40" x2="357.70" y2="956.00" stroke="#5e3e5e" stroke-width="1.45" stroke-opacity="0.82"/>
<line x1="359.00" y1="754.40" x2="359.00" y2="956.00" stroke="#444444" stroke-width="1.45" stroke-opacity="0.82"/>
<line x1="360.50" y1="754.40" x2="360.50" y2="956.00" stroke="#2a842a" stroke-width="1.45" stroke-opacity="0.82"/>
<line x1="361.70" y1="783.00" x2="361.70" y2="956.00" stroke="#f8a000" stroke-width="1.45" stroke-opacity="0.82"/>
<line x1="363.30" y1="754.40" x2="363.30" y2="956.00" stroke="#7a8c3a" stroke-width="1.45" stroke-opacity="0.82"/>
<line x1="364.50" y1="754.40" x2="364.50" y2="956.00" stroke="#6e4e3e" stroke-width="1.45" stroke-opacity="0.82"/>
<line x1="365.50" y1="783.00" x2="365.50" y2="956.00" stroke="#16168a" stroke-width="1.45" stroke-opacity="0.82"/>
<line x1="367.50" y1="783.00" x2="367.50" y2="956.00" stroke="#f6c068" stroke-width="1.45" stroke-opacity="0.82"/>
<line x1="369.50" y1="783.00" x2="369.50" y2="956.00" stroke="#161636" stroke-width="1.45" stroke-opacity="0.82"/>
<line x1="371.50" y1="754.40" x2="371.50" y2="956.00" stroke="#2a842a" stroke-width="1.45" stroke-opacity="0.82"/>
<line x1="379.00" y1="783.00" x2="379.00" y2="956.00" stroke="#b97a1c" stroke-width="1.5" stroke-opacity="0.82"/>
<line x1="385.30" y1="783.00" x2="385.30" y2="956.00" stroke="#6a6ac8" stroke-width="1.45" stroke-opacity="0.82"/>
<line x1="389.90" y1="754.40" x2="389.90" y2="956.00" stroke="#224e4e" stroke-width="1.45" stroke-opacity="0.82"/>
<line x1="395.70" y1="783.00" x2="395.70" y2="956.00" stroke="#f6c068" stroke-width="1.45" stroke-opacity="0.82"/>
<line x1="397.70" y1="754.40" x2="397.70" y2="956.00" stroke="#6e4e3e" stroke-width="1.45" stroke-opacity="0.82"/>
<line x1="399.00" y1="754.40" x2="399.00" y2="956.00" stroke="#1f5a1f" stroke-width="2.0" stroke-opacity="0.82"/>
<line x1="401.30" y1="783.00" x2="401.30" y2="956.00" stroke="#b97a1c" stroke-width="1.45" stroke-opacity="0.82"/>
<line x1="403.00" y1="754.40" x2="403.00" y2="956.00" stroke="#444444" stroke-width="1.45" stroke-opacity="0.82"/>
<line x1="405.70" y1="754.40" x2="405.70" y2="956.00" stroke="#2a842a" stroke-width="1.8" stroke-opacity="0.82"/>
<line x1="407.30" y1="754.40" x2="407.30" y2="956.00" stroke="#7a8c3a" stroke-width="1.45" stroke-opacity="0.82"/>
<line x1="408.70" y1="783.00" x2="408.70" y2="956.00" stroke="#b97a1c" stroke-width="1.45" stroke-opacity="0.82"/>
<line x1="410.00" y1="754.40" x2="410.00" y2="956.00" stroke="#2a842a" stroke-width="1.45" stroke-opacity="0.82"/>
<line x1="411.30" y1="783.00" x2="411.30" y2="956.00" stroke="#16168a" stroke-width="1.45" stroke-opacity="0.82"/>
<line x1="414.70" y1="754.40" x2="414.70" y2="956.00" stroke="#8fc48f" stroke-width="1.45" stroke-opacity="0.82"/>
<line x1="416.30" y1="754.40" x2="416.30" y2="956.00" stroke="#7a8c3a" stroke-width="1.45" stroke-opacity="0.82"/>
<line x1="417.30" y1="754.40" x2="417.30" y2="956.00" stroke="#2a842a" stroke-width="1.45" stroke-opacity="0.82"/>
<line x1="418.70" y1="783.00" x2="418.70" y2="956.00" stroke="#16168a" stroke-width="1.6" stroke-opacity="0.82"/>
<line x1="421.70" y1="754.40" x2="421.70" y2="956.00" stroke="#1f5a1f" stroke-width="1.45" stroke-opacity="0.82"/>
<line x1="423.00" y1="754.40" x2="423.00" y2="956.00" stroke="#2a842a" stroke-width="1.45" stroke-opacity="0.82"/>
<line x1="426.00" y1="754.40" x2="426.00" y2="956.00" stroke="#6e4e3e" stroke-width="1.45" stroke-opacity="0.82"/>
<line x1="291.00" y1="741.00" x2="291.00" y2="956.00" stroke="#22cc22" stroke-width="1.6"/>
<line x1="334.40" y1="741.00" x2="334.40" y2="956.00" stroke="#22cc22" stroke-width="1.6"/>
<path d="M368.40,739.20 L373.40,740.40" stroke="#ffa500" stroke-width="1.0" fill="none"/>
<line x1="373.40" y1="740.40" x2="373.40" y2="956.00" stroke="#ffa500" stroke-width="1.6"/>
<path d="M404.00,738.80 L409.50,740.00" stroke="#555" stroke-width="1.0" fill="none"/>
<line x1="409.50" y1="740.00" x2="409.50" y2="956.00" stroke="#888" stroke-width="1.1"/>
<path d="M408.30,739.80 L413.80,741.00" stroke="#ffa500" stroke-width="1.0" fill="none"/>
<line x1="413.80" y1="741.00" x2="413.80" y2="956.00" stroke="#ffa500" stroke-width="1.2"/>
<circle cx="291.00" cy="741.10" r="2.2" fill="#3a5a8a"/>
<circle cx="334.40" cy="741.10" r="2.2" fill="#2a5a6a"/>
<text x="277.50" y="736.20" font-size="11.2" textLength="26.80" lengthAdjust="spacingAndGlyphs" font-style="italic">CDK4</text>
<text x="319.30" y="736.20" font-size="11.2" textLength="31.00" lengthAdjust="spacingAndGlyphs" font-style="italic">MDM2</text>
<rect x="676.00" y="940.62" width="140.70" height="4.60" fill="#5aa6e6"/>
<rect x="822.30" y="940.62" width="377.70" height="4.60" fill="#5aa6e6"/>
<rect x="818.30" y="953.70" width="3.40" height="4.60" fill="#5aa6e6"/>
<rect x="816.70" y="940.62" width="5.60" height="4.60" fill="#000"/>
<rect x="676.00" y="927.54" width="25.00" height="4.60" fill="#000"/>
<rect x="702.50" y="927.54" width="45.00" height="4.60" fill="#000"/>
<rect x="749.00" y="927.54" width="67.70" height="4.60" fill="#000"/>
<rect x="822.30" y="927.54" width="77.00" height="4.60" fill="#000"/>
<rect x="914.30" y="927.54" width="22.40" height="4.60" fill="#000"/>
<rect x="950.00" y="927.54" width="3.00" height="4.60" fill="#000"/>
<rect x="960.00" y="927.54" width="8.00" height="4.60" fill="#000"/>
<rect x="978.00" y="927.54" width="7.00" height="4.60" fill="#000"/>
<rect x="990.00" y="927.54" width="10.00" height="4.60" fill="#000"/>
<rect x="1005.00" y="927.54" width="7.00" height="4.60" fill="#000"/>
<rect x="1038.30" y="927.54" width="161.70" height="4.60" fill="#000"/>
<rect x="701.30" y="822.90" width="2.00" height="4.60" fill="#000"/>
<rect x="750.50" y="822.90" width="2.50" height="4.60" fill="#000"/>
<rect x="802.20" y="822.90" width="1.00" height="4.60" fill="#000"/>
<rect x="903.00" y="822.90" width="4.00" height="4.60" fill="#000"/>
<rect x="922.50" y="822.90" width="1.50" height="4.60" fill="#000"/>
<rect x="965.50" y="822.90" width="2.50" height="4.60" fill="#000"/>
<rect x="971.00" y="822.90" width="2.00" height="4.60" fill="#000"/>
<rect x="1007.00" y="822.90" width="2.00" height="4.60" fill="#000"/>
<rect x="1022.00" y="822.90" width="2.00" height="4.60" fill="#000"/>
<rect x="1028.00" y="822.90" width="8.70" height="4.60" fill="#000"/>
<rect x="748.00" y="835.98" width="2.00" height="4.60" fill="#000"/>
<rect x="899.50" y="835.98" width="1.50" height="4.60" fill="#000"/>
<rect x="908.30" y="835.98" width="5.00" height="4.60" fill="#000"/>
<rect x="968.70" y="835.98" width="1.30" height="4.60" fill="#000"/>
<rect x="996.00" y="835.98" width="4.70" height="4.60" fill="#000"/>
<rect x="952.00" y="875.22" width="3.00" height="4.60" fill="#000"/>
<rect x="1015.50" y="875.22" width="1.00" height="4.60" fill="#000"/>
<rect x="990.20" y="887.65" width="1.00" height="4.60" fill="#000"/>
<path d="M691.0,754.4 Q863.7,707.4 1036.4,754.4 M721.0,754.4 Q869.0,710.3 1017.1,754.4 M742.0,754.4 Q876.2,714.0 1010.4,754.4 M755.6,754.4 Q894.3,712.8 1033.1,754.4 M774.9,754.4 Q898.1,716.9 1021.4,754.4 M776.4,754.4 Q902.5,716.1 1028.7,754.4 M785.2,754.4 Q909.8,716.5 1034.4,754.4 M797.4,754.4 Q907.2,720.4 1017.1,754.4 M802.1,754.4 Q906.2,721.9 1010.4,754.4 M721.0,754.4 Q814.2,724.8 907.4,754.4 M742.0,754.4 Q832.0,725.6 922.1,754.4 M774.9,754.4 Q846.0,730.6 917.2,754.4 M797.4,754.4 Q862.5,732.2 927.7,754.4 M895.6,754.4 Q953.0,734.2 1010.4,754.4 M907.4,754.4 Q962.2,734.9 1017.1,754.4 M917.2,754.4 Q969.3,735.6 1021.4,754.4 M922.1,754.4 Q975.4,735.3 1028.7,754.4 M927.7,754.4 Q980.4,735.5 1033.1,754.4 M938.1,754.4 Q986.2,736.7 1034.4,754.4 M947.7,754.4 Q982.4,740.2 1017.1,754.4 M954.7,754.4 Q988.0,740.6 1021.4,754.4 M959.7,754.4 Q994.2,740.3 1028.7,754.4 M967.7,754.4 Q1001.1,740.6 1034.4,754.4 M971.9,754.4 Q1002.5,741.3 1033.1,754.4 M902.3,754.4 Q965.5,732.7 1028.7,754.4 M946.1,754.4 Q983.8,739.5 1021.4,754.4 M895.6,754.4 Q911.6,745.2 927.7,754.4 M907.4,754.4 Q922.8,745.3 938.1,754.4 M917.2,754.4 Q932.5,745.4 947.7,754.4 M927.7,754.4 Q941.2,745.8 954.7,754.4 M938.1,754.4 Q952.9,745.5 967.7,754.4 M982.9,754.4 Q996.6,745.8 1010.4,754.4 M1010.4,754.4 Q1019.5,747.0 1028.7,754.4 M1017.1,754.4 Q1025.1,747.3 1033.1,754.4 M1021.4,754.4 Q1027.9,747.7 1034.4,754.4 M974.7,754.4 Q995.9,743.8 1017.1,754.4 M909.4,754.4 Q971.9,732.9 1034.4,754.4 M924.7,754.4 Q967.5,738.1 1010.4,754.4 M949.1,754.4 Q991.1,738.3 1033.1,754.4" stroke="#2a842a" stroke-width="0.9" fill="none" stroke-opacity="0.9"/>
<path d="M691.0,754.4 Q793.7,784.4 896.4,754.4 M691.0,754.4 Q836.2,784.4 981.4,754.4 M721.0,754.4 Q731.5,762.2 742.0,754.4 M748.4,754.4 Q844.9,784.4 941.4,754.4 M755.6,754.4 Q833.5,780.0 911.4,754.4 M785.2,754.4 Q873.3,782.7 961.4,754.4 M787.5,754.4 Q899.5,784.4 1011.4,754.4 M797.4,754.4 Q865.8,777.4 934.1,754.4 M805.0,754.4 Q878.2,778.7 951.4,754.4 M805.0,754.4 Q858.2,773.4 911.4,754.4 M787.5,754.4 Q842.0,773.8 896.4,754.4 M926.7,754.4 Q951.3,765.9 975.9,754.4 M950.7,754.4 Q963.3,762.7 975.9,754.4 M934.1,754.4 Q967.7,768.3 1001.3,754.4 M1001.3,754.4 Q1005.2,760.4 1009.1,754.4 M926.7,754.4 Q967.9,770.3 1009.1,754.4 M941.1,754.4 Q975.1,768.4 1009.1,754.4 M895.6,754.4 Q966.5,778.1 1037.4,754.4 M969.1,754.4 Q995.0,766.2 1020.9,754.4 M907.4,754.4 Q941.6,768.4 975.9,754.4 M923.1,754.4 Q932.1,761.8 941.1,754.4 M898.9,754.4 Q920.0,765.0 941.1,754.4 M975.9,754.4 Q1006.7,767.5 1037.4,754.4 M980.9,754.4 Q1007.0,766.3 1033.1,754.4 M898.9,754.4 Q930.5,767.8 962.2,754.4 M1001.3,754.4 Q1007.8,761.1 1014.4,754.4 M917.2,754.4 Q943.1,766.3 969.1,754.4 M895.6,754.4 Q909.3,763.0 923.1,754.4 M907.4,754.4 Q912.3,760.7 917.2,754.4 M895.6,754.4 Q938.2,770.7 980.9,754.4 M926.7,754.4 Q970.5,771.0 1014.4,754.4 M962.2,754.4 Q966.3,760.5 970.4,754.4 M923.1,754.4 Q962.2,769.7 1001.3,754.4 M898.9,754.4 Q912.8,763.1 926.7,754.4 M941.1,754.4 Q971.2,767.3 1001.3,754.4 M907.4,754.4 Q920.8,762.9 934.1,754.4 M934.1,754.4 Q977.5,770.9 1020.9,754.4 M907.4,754.4 Q912.3,760.7 917.2,754.4 M1001.3,754.4 Q1007.8,761.1 1014.4,754.4 M970.4,754.4 Q992.4,765.2 1014.4,754.4 M934.1,754.4 Q948.1,763.1 962.2,754.4 M923.1,754.4 Q968.8,771.5 1014.4,754.4 M950.7,754.4 Q963.3,762.7 975.9,754.4 M969.1,754.4 Q975.0,761.0 980.9,754.4 M970.4,754.4 Q989.8,764.5 1009.1,754.4 M962.2,754.4 Q981.8,764.6 1001.3,754.4 M949.1,754.4 Q959.8,762.2 970.4,754.4 M895.6,754.4 Q901.5,761.0 907.4,754.4 M926.7,754.4 Q964.0,769.2 1001.3,754.4 M895.6,754.4 Q948.4,773.4 1001.3,754.4 M907.4,754.4 Q960.9,773.5 1014.4,754.4" stroke="#111111" stroke-width="0.9" fill="none" stroke-opacity="0.9"/>
<path d="M691.0,783.0 Q806.7,747.5 922.4,783.0 M701.2,783.0 Q827.0,744.8 952.7,783.0 M703.8,783.0 Q840.3,743.0 976.9,783.0 M722.7,783.0 Q859.7,743.0 996.7,783.0 M751.9,783.0 Q837.1,755.5 922.4,783.0 M753.1,783.0 Q887.9,743.0 1022.7,783.0 M784.0,783.0 Q873.2,754.5 962.4,783.0 M803.8,783.0 Q916.9,748.1 1030.1,783.0 M701.2,783.0 Q806.3,750.3 911.4,783.0 M722.7,783.0 Q831.9,749.2 941.1,783.0 M748.4,783.0 Q864.6,747.3 980.9,783.0 M691.0,783.0 Q846.1,743.0 1001.3,783.0 M996.7,783.0 Q1013.4,773.6 1030.1,783.0 M926.7,783.0 Q953.8,770.8 980.9,783.0 M936.3,783.0 Q966.5,770.0 996.7,783.0 M952.7,783.0 Q966.8,774.3 980.9,783.0 M911.4,783.0 Q954.0,766.7 996.7,783.0 M922.4,783.0 Q972.5,764.8 1022.7,783.0 M922.4,783.0 Q972.5,764.8 1022.7,783.0 M936.3,783.0 Q944.5,775.8 952.7,783.0 M915.7,783.0 Q934.2,773.1 952.7,783.0 M941.1,783.0 Q968.9,770.7 996.7,783.0 M911.4,783.0 Q919.0,776.0 926.7,783.0 M911.4,783.0 Q916.9,776.5 922.4,783.0 M922.4,783.0 Q929.3,776.2 936.3,783.0 M915.7,783.0 Q939.0,771.8 962.4,783.0 M922.4,783.0 Q937.5,774.0 952.7,783.0 M900.7,783.0 Q961.7,761.9 1022.7,783.0 M980.9,783.0 Q1001.8,772.5 1022.7,783.0 M926.7,783.0 Q974.7,765.3 1022.7,783.0 M922.4,783.0 Q942.4,772.7 962.4,783.0 M996.7,783.0 Q1013.4,773.6 1030.1,783.0" stroke="#16168a" stroke-width="0.9" fill="none" stroke-opacity="0.9"/>
<path d="M691.0,783.0 Q803.4,817.7 915.7,783.0 M703.8,783.0 Q847.1,825.8 990.4,783.0 M722.7,783.0 Q864.9,825.5 1007.1,783.0 M748.4,783.0 Q880.5,822.9 1012.7,783.0 M784.0,783.0 Q842.4,803.4 900.7,783.0 M803.8,783.0 Q852.2,800.8 900.7,783.0 M691.0,783.0 Q857.7,829.0 1024.4,783.0 M703.8,783.0 Q820.0,818.7 936.3,783.0 M722.7,783.0 Q833.0,817.1 943.4,783.0 M751.9,783.0 Q858.0,816.0 964.1,783.0 M784.0,783.0 Q869.9,810.7 955.7,783.0 M803.8,783.0 Q859.8,802.8 915.7,783.0 M900.7,783.0 Q932.4,796.4 964.1,783.0 M973.1,783.0 Q976.0,788.8 978.9,783.0 M964.9,783.0 Q977.6,791.4 990.4,783.0 M943.4,783.0 Q984.3,798.8 1025.2,783.0 M936.3,783.0 Q957.6,793.6 978.9,783.0 M915.7,783.0 Q944.4,795.6 973.1,783.0 M964.9,783.0 Q988.8,794.3 1012.7,783.0 M1007.1,783.0 Q1009.9,788.7 1012.7,783.0 M900.7,783.0 Q936.9,797.6 973.1,783.0 M955.7,783.0 Q987.9,796.5 1020.1,783.0 M900.7,783.0 Q960.4,803.8 1020.1,783.0 M955.7,783.0 Q973.0,792.6 990.4,783.0 M900.7,783.0 Q928.2,795.3 955.7,783.0 M943.4,783.0 Q954.1,790.8 964.9,783.0 M936.3,783.0 Q950.6,791.8 964.9,783.0 M915.7,783.0 Q967.9,801.8 1020.1,783.0 M964.1,783.0 Q977.2,791.5 990.4,783.0 M936.3,783.0 Q980.8,799.7 1025.2,783.0 M936.3,783.0 Q971.7,797.3 1007.1,783.0 M973.1,783.0 Q990.1,792.5 1007.1,783.0 M900.7,783.0 Q928.2,795.3 955.7,783.0 M936.3,783.0 Q963.3,795.1 990.4,783.0 M978.9,783.0 Q993.0,791.7 1007.1,783.0 M900.7,783.0 Q936.9,797.6 973.1,783.0 M943.4,783.0 Q981.8,798.1 1020.1,783.0" stroke="#f8a000" stroke-width="0.9" fill="none" stroke-opacity="0.9"/>
<line x1="691.00" y1="754.40" x2="691.00" y2="956.00" stroke="#1f5a1f" stroke-width="2.0" stroke-opacity="0.82"/>
<line x1="701.20" y1="783.00" x2="701.20" y2="956.00" stroke="#6a6ac8" stroke-width="1.45" stroke-opacity="0.82"/>
<line x1="703.80" y1="783.00" x2="703.80" y2="956.00" stroke="#f8a000" stroke-width="1.45" stroke-opacity="0.82"/>
<line x1="721.50" y1="754.40" x2="721.50" y2="956.00" stroke="#8fc48f" stroke-width="1.2" stroke-opacity="0.82"/>
<line x1="722.70" y1="783.00" x2="722.70" y2="956.00" stroke="#f8a000" stroke-width="1.45" stroke-opacity="0.82"/>
<line x1="742.00" y1="754.40" x2="742.00" y2="956.00" stroke="#2a842a" stroke-width="1.45" stroke-opacity="0.82"/>
<line x1="748.40" y1="754.40" x2="748.40" y2="956.00" stroke="#444444" stroke-width="2.0" stroke-opacity="0.82"/>
<line x1="751.90" y1="783.00" x2="751.90" y2="956.00" stroke="#6a6ac8" stroke-width="1.45" stroke-opacity="0.82"/>
<line x1="753.10" y1="783.00" x2="753.10" y2="956.00" stroke="#6a6ac8" stroke-width="1.5" stroke-opacity="0.82"/>
<line x1="755.60" y1="754.40" x2="755.60" y2="956.00" stroke="#8fc48f" stroke-width="1.45" stroke-opacity="0.82"/>
<line x1="774.90" y1="754.40" x2="774.90" y2="956.00" stroke="#2a842a" stroke-width="1.45" stroke-opacity="0.82"/>
<line x1="776.40" y1="754.40" x2="776.40" y2="956.00" stroke="#2a842a" stroke-width="1.45" stroke-opacity="0.82"/>
<line x1="784.00" y1="783.00" x2="784.00" y2="956.00" stroke="#f8a000" stroke-width="1.45" stroke-opacity="0.82"/>
<line x1="785.20" y1="754.40" x2="785.20" y2="956.00" stroke="#2a842a" stroke-width="1.45" stroke-opacity="0.82"/>
<line x1="787.50" y1="754.40" x2="787.50" y2="956.00" stroke="#444444" stroke-width="1.45" stroke-opacity="0.82"/>
<line x1="797.40" y1="754.40" x2="797.40" y2="956.00" stroke="#2a842a" stroke-width="1.45" stroke-opacity="0.82"/>
<line x1="802.10" y1="754.40" x2="802.10" y2="956.00" stroke="#2a842a" stroke-width="1.45" stroke-opacity="0.82"/>
<line x1="803.80" y1="783.00" x2="803.80" y2="956.00" stroke="#b97a1c" stroke-width="1.5" stroke-opacity="0.82"/>
<line x1="805.00" y1="754.40" x2="805.00" y2="956.00" stroke="#111111" stroke-width="1.45" stroke-opacity="0.82"/>
<line x1="895.60" y1="754.40" x2="895.60" y2="956.00" stroke="#7a8c3a" stroke-width="1.45" stroke-opacity="0.82"/>
<line x1="898.90" y1="754.40" x2="898.90" y2="956.00" stroke="#5e3e5e" stroke-width="1.45" stroke-opacity="0.82"/>
<line x1="900.70" y1="783.00" x2="900.70" y2="956.00" stroke="#b97a1c" stroke-width="1.45" stroke-opacity="0.82"/>
<line x1="907.40" y1="754.40" x2="907.40" y2="956.00" stroke="#1f5a1f" stroke-width="1.6" stroke-opacity="0.82"/>
<line x1="909.40" y1="754.40" x2="909.40" y2="956.00" stroke="#8fc48f" stroke-width="1.5" stroke-opacity="0.82"/>
<line x1="913.70" y1="754.40" x2="913.70" y2="956.00" stroke="#8fc48f" stroke-width="1.45" stroke-opacity="0.82"/>
<line x1="915.70" y1="783.00" x2="915.70" y2="956.00" stroke="#f6c068" stroke-width="1.45" stroke-opacity="0.82"/>
<line x1="917.20" y1="754.40" x2="917.20" y2="956.00" stroke="#1f5a1f" stroke-width="1.6" stroke-opacity="0.82"/>
<line x1="922.10" y1="754.40" x2="922.10" y2="956.00" stroke="#1f5a1f" stroke-width="1.45" stroke-opacity="0.82"/>
<line x1="923.10" y1="754.40" x2="923.10" y2="956.00" stroke="#444444" stroke-width="1.4" stroke-opacity="0.82"/>
<line x1="924.70" y1="754.40" x2="924.70" y2="956.00" stroke="#8fc48f" stroke-width="1.45" stroke-opacity="0.82"/>
<line x1="926.70" y1="783.00" x2="926.70" y2="956.00" stroke="#161636" stroke-width="1.45" stroke-opacity="0.82"/>
<line x1="927.70" y1="754.40" x2="927.70" y2="956.00" stroke="#2a842a" stroke-width="1.45" stroke-opacity="0.82"/>
<line x1="934.10" y1="754.40" x2="934.10" y2="956.00" stroke="#444444" stroke-width="1.45" stroke-opacity="0.82"/>
<line x1="936.30" y1="783.00" x2="936.30" y2="956.00" stroke="#b97a1c" stroke-width="2.0" stroke-opacity="0.82"/>
<line x1="938.10" y1="754.40" x2="938.10" y2="956.00" stroke="#1f5a1f" stroke-width="1.45" stroke-opacity="0.82"/>
<line x1="939.40" y1="754.40" x2="939.40" y2="956.00" stroke="#7a8c3a" stroke-width="1.45" stroke-opacity="0.82"/>
<line x1="941.10" y1="754.40" x2="941.10" y2="956.00" stroke="#224e4e" stroke-width="1.45" stroke-opacity="0.82"/>
<line x1="943.40" y1="783.00" x2="943.40" y2="956.00" stroke="#f8a000" stroke-width="2.0" stroke-opacity="0.82"/>
<line x1="947.70" y1="754.40" x2="947.70" y2="956.00" stroke="#2a842a" stroke-width="1.45" stroke-opacity="0.82"/>
<line x1="949.10" y1="754.40" x2="949.10" y2="956.00" stroke="#1f5a1f" stroke-width="1.45" stroke-opacity="0.82"/>
<line x1="950.70" y1="754.40" x2="950.70" y2="956.00" stroke="#5e3e5e" stroke-width="1.45" stroke-opacity="0.82"/>
<line x1="952.70" y1="783.00" x2="952.70" y2="956.00" stroke="#6a6ac8" stroke-width="1.45" stroke-opacity="0.82"/>
<line x1="954.70" y1="754.40" x2="954.70" y2="956.00" stroke="#2a842a" stroke-width="1.45" stroke-opacity="0.82"/>
<line x1="955.70" y1="783.00" x2="955.70" y2="956.00" stroke="#b97a1c" stroke-width="1.45" stroke-opacity="0.82"/>
<line x1="959.70" y1="754.40" x2="959.70" y2="956.00" stroke="#1f5a1f" stroke-width="1.45" stroke-opacity="0.82"/>
<line x1="962.20" y1="783.00" x2="962.20" y2="956.00" stroke="#161636" stroke-width="1.5" stroke-opacity="0.82"/>
<line x1="964.10" y1="783.00" x2="964.10" y2="956.00" stroke="#b97a1c" stroke-width="1.5" stroke-opacity="0.82"/>
<line x1="964.90" y1="783.00" x2="964.90" y2="956.00" stroke="#b97a1c" stroke-width="1.5" stroke-opacity="0.82"/>
<line x1="967.70" y1="754.40" x2="967.70" y2="956.00" stroke="#7a8c3a" stroke-width="1.45" stroke-opacity="0.82"/>
<line x1="969.10" y1="754.40" x2="969.10" y2="956.00" stroke="#5e3e5e" stroke-width="1.45" stroke-opacity="0.82"/>
<line x1="970.40" y1="754.40" x2="970.40" y2="956.00" stroke="#444444" stroke-width="1.45" stroke-opacity="0.82"/>
<line x1="971.90" y1="754.40" x2="971.90" y2="956.00" stroke="#2a842a" stroke-width="1.45" stroke-opacity="0.82"/>
<line x1="973.10" y1="783.00" x2="973.10" y2="956.00" stroke="#f8a000" stroke-width="1.45" stroke-opacity="0.82"/>
<line x1="974.70" y1="754.40" x2="974.70" y2="956.00" stroke="#7a8c3a" stroke-width="1.45" stroke-opacity="0.82"/>
<line x1="975.90" y1="754.40" x2="975.90" y2="956.00" stroke="#6e4e3e" stroke-width="1.45" stroke-opacity="0.82"/>
<line x1="976.90" y1="783.00" x2="976.90" y2="956.00" stroke="#16168a" stroke-width="1.45" stroke-opacity="0.82"/>
<line x1="978.90" y1="783.00" x2="978.90" y2="956.00" stroke="#f6c068" stroke-width="1.45" stroke-opacity="0.82"/>
<line x1="980.90" y1="783.00" x2="980.90" y2="956.00" stroke="#161636" stroke-width="1.45" stroke-opacity="0.82"/>
<line x1="982.90" y1="754.40" x2="982.90" y2="956.00" stroke="#2a842a" stroke-width="1.45" stroke-opacity="0.82"/>
<line x1="984.80" y1="783.00" x2="984.80" y2="956.00" stroke="#f8a000" stroke-width="1.4" stroke-opacity="0.82"/>
<line x1="990.40" y1="783.00" x2="990.40" y2="956.00" stroke="#b97a1c" stroke-width="1.5" stroke-opacity="0.82"/>
<line x1="996.70" y1="783.00" x2="996.70" y2="956.00" stroke="#6a6ac8" stroke-width="1.45" stroke-opacity="0.82"/>
<line x1="1001.30" y1="754.40" x2="1001.30" y2="956.00" stroke="#224e4e" stroke-width="1.45" stroke-opacity="0.82"/>
<line x1="1007.10" y1="783.00" x2="1007.10" y2="956.00" stroke="#f6c068" stroke-width="1.45" stroke-opacity="0.82"/>
<line x1="1009.10" y1="754.40" x2="1009.10" y2="956.00" stroke="#6e4e3e" stroke-width="1.45" stroke-opacity="0.82"/>
<line x1="1010.40" y1="754.40" x2="1010.40" y2="956.00" stroke="#1f5a1f" stroke-width="2.0" stroke-opacity="0.82"/>
<line x1="1012.70" y1="783.00" x2="1012.70" y2="956.00" stroke="#b97a1c" stroke-width="1.45" stroke-opacity="0.82"/>
<line x1="1014.40" y1="754.40" x2="1014.40" y2="956.00" stroke="#444444" stroke-width="1.45" stroke-opacity="0.82"/>
<line x1="1017.10" y1="754.40" x2="1017.10" y2="956.00" stroke="#2a842a" stroke-width="1.8" stroke-opacity="0.82"/>
<line x1="1018.70" y1="754.40" x2="1018.70" y2="956.00" stroke="#7a8c3a" stroke-width="1.45" stroke-opacity="0.82"/>
<line x1="1020.10" y1="783.00" x2="1020.10" y2="956.00" stroke="#b97a1c" stroke-width="1.45" stroke-opacity="0.82"/>
<line x1="1021.40" y1="754.40" x2="1021.40" y2="956.00" stroke="#2a842a" stroke-width="1.45" stroke-opacity="0.82"/>
<line x1="1022.70" y1="783.00" x2="1022.70" y2="956.00" stroke="#16168a" stroke-width="1.45" stroke-opacity="0.82"/>
<line x1="1026.10" y1="754.40" x2="1026.10" y2="956.00" stroke="#8fc48f" stroke-width="1.45" stroke-opacity="0.82"/>
<line x1="1027.70" y1="754.40" x2="1027.70" y2="956.00" stroke="#7a8c3a" stroke-width="1.45" stroke-opacity="0.82"/>
<line x1="1028.70" y1="754.40" x2="1028.70" y2="956.00" stroke="#2a842a" stroke-width="1.45" stroke-opacity="0.82"/>
<line x1="1030.10" y1="783.00" x2="1030.10" y2="956.00" stroke="#16168a" stroke-width="1.6" stroke-opacity="0.82"/>
<line x1="1033.10" y1="754.40" x2="1033.10" y2="956.00" stroke="#1f5a1f" stroke-width="1.45" stroke-opacity="0.82"/>
<line x1="1034.40" y1="754.40" x2="1034.40" y2="956.00" stroke="#2a842a" stroke-width="1.45" stroke-opacity="0.82"/>
<line x1="1037.40" y1="754.40" x2="1037.40" y2="956.00" stroke="#6e4e3e" stroke-width="1.45" stroke-opacity="0.82"/>
<line x1="902.40" y1="741.00" x2="902.40" y2="956.00" stroke="#22cc22" stroke-width="1.6"/>
<line x1="945.80" y1="741.00" x2="945.80" y2="956.00" stroke="#22cc22" stroke-width="1.6"/>
<path d="M1015.00,738.80 L1020.50,740.00" stroke="#555" stroke-width="1.0" fill="none"/>
<line x1="1020.50" y1="740.00" x2="1020.50" y2="956.00" stroke="#888" stroke-width="1.1"/>
<path d="M1019.40,739.80 L1024.90,741.00" stroke="#ffa500" stroke-width="1.0" fill="none"/>
<line x1="1024.90" y1="741.00" x2="1024.90" y2="956.00" stroke="#ffa500" stroke-width="1.2"/>
<circle cx="902.40" cy="741.10" r="2.2" fill="#3a5a8a"/>
<circle cx="945.80" cy="741.10" r="2.2" fill="#2a5a6a"/>
<text x="888.90" y="736.20" font-size="11.2" textLength="26.80" lengthAdjust="spacingAndGlyphs" font-style="italic">CDK4</text>
<text x="930.70" y="736.20" font-size="11.2" textLength="31.00" lengthAdjust="spacingAndGlyphs" font-style="italic">MDM2</text>
<rect x="63.50" y="1270.62" width="524.50" height="4.60" fill="#5aa6e6"/>
<rect x="70.00" y="1152.90" width="1.00" height="4.60" fill="#000"/>
<rect x="73.00" y="1152.90" width="3.00" height="4.60" fill="#000"/>
<rect x="78.00" y="1152.90" width="4.00" height="4.60" fill="#000"/>
<rect x="83.50" y="1152.90" width="4.50" height="4.60" fill="#000"/>
<rect x="90.00" y="1152.90" width="3.00" height="4.60" fill="#000"/>
<rect x="96.00" y="1152.90" width="4.00" height="4.60" fill="#000"/>
<rect x="102.00" y="1152.90" width="2.00" height="4.60" fill="#000"/>
<rect x="105.00" y="1152.90" width="6.00" height="4.60" fill="#000"/>
<rect x="118.50" y="1152.90" width="3.00" height="4.60" fill="#000"/>
<rect x="216.50" y="1152.90" width="6.00" height="4.60" fill="#000"/>
<rect x="227.00" y="1152.90" width="3.00" height="4.60" fill="#000"/>
<rect x="293.50" y="1152.90" width="1.00" height="4.60" fill="#000"/>
<rect x="325.00" y="1152.90" width="2.50" height="4.60" fill="#000"/>
<rect x="63.50" y="1165.98" width="2.00" height="4.60" fill="#000"/>
<rect x="225.20" y="1205.22" width="1.30" height="4.60" fill="#000"/>
<rect x="319.80" y="1231.38" width="1.00" height="4.60" fill="#000"/>
<rect x="123.00" y="1218.30" width="75.80" height="4.60" fill="#000"/>
<rect x="199.50" y="1257.54" width="16.30" height="4.60" fill="#000"/>
<rect x="235.00" y="1257.54" width="82.50" height="4.60" fill="#000"/>
<rect x="335.00" y="1257.54" width="253.00" height="4.60" fill="#000"/>
<path d="M104.0,1084.4 Q143.2,1075.2 182.5,1084.4 M256.2,1084.4 Q283.1,1075.8 310.0,1084.4 M211.2,1084.4 Q250.6,1069.8 290.0,1084.4 M92.7,1084.4 Q162.0,1072.5 231.2,1084.4 M141.2,1084.4 Q222.3,1060.6 303.3,1084.4 M92.7,1084.4 Q162.0,1067.1 231.2,1084.4 M88.7,1084.4 Q206.0,1064.7 323.3,1084.4 M88.7,1084.4 Q196.0,1052.2 303.3,1084.4 M85.3,1084.4 Q133.9,1067.9 182.5,1084.4 M71.7,1084.4 Q78.5,1080.7 85.3,1084.4 M71.7,1084.4 Q81.0,1079.0 90.3,1084.4 M88.7,1084.4 Q211.0,1057.3 333.3,1084.4 M106.0,1084.4 Q109.8,1079.9 113.7,1084.4 M176.2,1084.4 Q251.5,1066.3 326.7,1084.4 M88.7,1084.4 Q89.5,1081.9 90.3,1084.4 M90.3,1084.4 Q173.3,1060.5 256.2,1084.4 M118.0,1084.4 Q220.7,1063.7 323.3,1084.4 M78.7,1084.4 Q198.7,1056.0 318.7,1084.4 M106.0,1084.4 Q212.3,1068.9 318.7,1084.4 M71.7,1084.4 Q127.1,1072.3 182.5,1084.4 M106.0,1084.4 Q216.3,1058.5 326.7,1084.4 M141.2,1084.4 Q215.6,1064.3 290.0,1084.4 M73.0,1084.4 Q88.5,1076.1 104.0,1084.4 M71.7,1084.4 Q202.5,1062.4 333.3,1084.4 M122.7,1084.4 Q220.7,1053.9 318.7,1084.4 M119.7,1084.4 Q149.2,1073.6 178.8,1084.4 M73.0,1084.4 Q106.7,1070.8 140.3,1084.4 M182.5,1084.4 Q257.9,1068.5 333.3,1084.4 M140.3,1084.4 Q229.5,1068.7 318.7,1084.4 M118.0,1084.4 Q132.1,1076.4 146.2,1084.4 M118.0,1084.4 Q214.0,1062.8 310.0,1084.4 M73.0,1084.4 Q97.8,1074.3 122.7,1084.4 M118.0,1084.4 Q204.0,1067.0 290.0,1084.4 M104.0,1084.4 Q108.8,1080.6 113.7,1084.4 M113.7,1084.4 Q211.8,1065.6 310.0,1084.4 M85.3,1084.4 Q197.7,1059.3 310.0,1084.4 M88.7,1084.4 Q115.0,1074.6 141.2,1084.4 M119.7,1084.4 Q175.5,1071.7 231.2,1084.4 M104.0,1084.4 Q215.3,1063.7 326.7,1084.4 M73.0,1084.4 Q199.8,1060.7 326.7,1084.4 M85.3,1084.4 Q204.3,1049.2 323.3,1084.4 M85.3,1084.4 Q158.3,1068.0 231.2,1084.4 M140.3,1084.4 Q236.8,1055.2 333.3,1084.4 M88.7,1084.4 Q206.0,1064.8 323.3,1084.4 M113.7,1084.4 Q220.2,1053.7 326.7,1084.4" stroke="#2a842a" stroke-width="0.75" fill="none" stroke-opacity="0.9"/>
<path d="M128.7,1084.4 Q143.1,1091.8 157.5,1084.4 M88.7,1084.4 Q160.0,1101.2 231.2,1084.4 M90.3,1084.4 Q94.0,1088.9 97.7,1084.4 M116.7,1084.4 Q149.6,1093.0 182.5,1084.4 M304.7,1084.4 Q318.0,1088.8 331.3,1084.4 M90.3,1084.4 Q192.7,1097.7 295.0,1084.4 M231.2,1084.4 Q259.8,1094.3 288.4,1084.4 M118.0,1084.4 Q132.1,1092.4 146.2,1084.4 M113.7,1084.4 Q205.8,1113.2 298.0,1084.4 M106.0,1084.4 Q205.3,1105.5 304.7,1084.4 M122.7,1084.4 Q183.8,1097.0 245.0,1084.4 M109.3,1084.4 Q198.5,1103.8 287.7,1084.4 M73.0,1084.4 Q81.7,1086.8 90.3,1084.4 M81.7,1084.4 Q100.7,1092.5 119.7,1084.4 M97.7,1084.4 Q140.1,1092.3 182.5,1084.4 M146.2,1084.4 Q162.5,1087.7 178.8,1084.4 M80.0,1084.4 Q183.8,1095.6 287.7,1084.4 M97.7,1084.4 Q193.0,1113.4 288.4,1084.4 M81.7,1084.4 Q114.0,1091.6 146.2,1084.4 M128.7,1084.4 Q186.8,1096.6 245.0,1084.4 M88.7,1084.4 Q195.3,1095.9 302.0,1084.4 M122.7,1084.4 Q170.7,1094.7 218.8,1084.4 M116.7,1084.4 Q120.8,1088.3 125.0,1084.4 M146.2,1084.4 Q217.0,1093.5 287.7,1084.4 M118.0,1084.4 Q206.5,1095.3 295.0,1084.4 M182.5,1084.4 Q235.1,1098.2 287.7,1084.4 M146.2,1084.4 Q231.5,1108.5 316.7,1084.4 M116.7,1084.4 Q210.7,1095.7 304.7,1084.4 M157.5,1084.4 Q231.1,1107.0 304.7,1084.4 M140.3,1084.4 Q145.8,1090.8 151.2,1084.4 M125.0,1084.4 Q210.0,1106.2 295.0,1084.4 M90.3,1084.4 Q115.3,1091.4 140.3,1084.4 M110.7,1084.4 Q114.3,1087.0 118.0,1084.4 M88.7,1084.4 Q193.3,1098.4 298.0,1084.4 M88.7,1084.4 Q102.7,1091.9 116.7,1084.4 M81.7,1084.4 Q193.2,1096.4 304.7,1084.4 M141.2,1084.4 Q193.1,1092.8 245.0,1084.4 M64.6,1084.4 Q102.9,1094.8 141.2,1084.4 M109.3,1084.4 Q219.5,1110.4 329.7,1084.4 M69.8,1084.4 Q89.5,1092.8 109.3,1084.4 M88.7,1084.4 Q210.0,1102.8 331.3,1084.4 M116.7,1084.4 Q166.5,1097.1 216.2,1084.4 M182.5,1084.4 Q206.9,1088.8 231.2,1084.4 M74.7,1084.4 Q181.5,1103.6 288.4,1084.4 M116.7,1084.4 Q179.6,1100.3 242.5,1084.4 M116.7,1084.4 Q205.8,1093.2 295.0,1084.4 M122.7,1084.4 Q221.5,1095.7 320.3,1084.4 M83.7,1084.4 Q192.8,1110.8 302.0,1084.4 M178.8,1084.4 Q247.7,1099.3 316.7,1084.4 M104.0,1084.4 Q216.8,1103.4 329.7,1084.4 M151.2,1084.4 Q222.5,1102.5 293.7,1084.4 M298.0,1084.4 Q313.9,1093.0 329.7,1084.4 M140.3,1084.4 Q161.4,1088.6 182.5,1084.4 M97.7,1084.4 Q214.5,1102.5 331.3,1084.4 M64.6,1084.4 Q192.4,1110.9 320.3,1084.4" stroke="#111111" stroke-width="0.7" fill="none" stroke-opacity="0.9"/>
<path d="M98.7,1113.0 Q166.2,1103.6 233.8,1113.0 M102.7,1113.0 Q105.1,1111.0 107.5,1113.0 M91.7,1113.0 Q138.3,1099.0 185.0,1113.0 M185.0,1113.0 Q209.4,1104.6 233.8,1113.0 M100.7,1113.0 Q128.5,1105.5 156.2,1113.0 M98.7,1113.0 Q166.2,1100.4 233.8,1113.0 M91.7,1113.0 Q175.8,1096.8 260.0,1113.0 M87.3,1113.0 Q89.5,1108.3 91.7,1113.0 M156.2,1113.0 Q245.8,1093.9 335.3,1113.0 M96.0,1113.0 Q178.0,1102.5 260.0,1113.0 M63.2,1113.0 Q83.0,1109.8 102.7,1113.0 M87.3,1113.0 Q94.0,1107.4 100.7,1113.0 M67.7,1113.0 Q112.0,1099.9 156.2,1113.0 M91.7,1113.0 Q93.0,1108.1 94.3,1113.0 M96.0,1113.0 Q210.7,1077.7 325.3,1113.0 M260.0,1113.0 Q292.6,1103.6 325.3,1113.0 M100.7,1113.0 Q218.0,1098.7 335.3,1113.0 M233.8,1113.0 Q279.5,1102.1 325.3,1113.0 M67.7,1113.0 Q196.5,1081.7 325.3,1113.0 M107.5,1113.0 Q121.9,1108.7 136.3,1113.0 M63.2,1113.0 Q161.6,1095.0 260.0,1113.0 M156.2,1113.0 Q240.8,1102.3 325.3,1113.0 M63.2,1113.0 Q65.5,1109.2 67.7,1113.0 M67.7,1113.0 Q163.8,1093.9 260.0,1113.0 M91.7,1113.0 Q162.7,1094.3 233.8,1113.0 M325.3,1113.0 Q330.3,1107.6 335.3,1113.0 M94.3,1113.0 Q97.5,1107.3 100.7,1113.0 M96.0,1113.0 Q140.5,1100.2 185.0,1113.0 M63.2,1113.0 Q194.2,1094.8 325.3,1113.0 M260.0,1113.0 Q292.6,1104.2 325.3,1113.0 M63.2,1113.0 Q70.1,1109.8 77.0,1113.0 M96.0,1113.0 Q98.3,1108.5 100.7,1113.0 M233.8,1113.0 Q246.9,1105.7 260.0,1113.0 M98.7,1113.0 Q166.2,1092.0 233.8,1113.0 M107.5,1113.0 Q131.9,1102.5 156.2,1113.0 M325.3,1113.0 Q330.3,1110.8 335.3,1113.0 M87.3,1113.0 Q211.3,1082.0 335.3,1113.0 M96.0,1113.0 Q164.9,1099.9 233.8,1113.0 M63.2,1113.0 Q199.2,1082.0 335.3,1113.0 M67.7,1113.0 Q196.5,1101.9 325.3,1113.0 M102.7,1113.0 Q219.0,1095.1 335.3,1113.0 M96.0,1113.0 Q164.9,1090.8 233.8,1113.0 M94.3,1113.0 Q214.8,1098.6 335.3,1113.0 M87.3,1113.0 Q136.2,1107.3 185.0,1113.0 M77.0,1113.0 Q155.4,1102.7 233.8,1113.0 M67.7,1113.0 Q201.5,1084.1 335.3,1113.0 M115.3,1113.0 Q174.5,1095.5 233.8,1113.0 M91.7,1113.0 Q97.2,1111.0 102.7,1113.0" stroke="#16168a" stroke-width="0.85" fill="none" stroke-opacity="0.9"/>
<path d="M77.0,1113.0 Q191.7,1142.1 306.3,1113.0 M98.7,1113.0 Q146.8,1119.9 195.0,1113.0 M94.3,1113.0 Q195.3,1134.1 296.3,1113.0 M67.7,1113.0 Q149.1,1136.6 230.4,1113.0 M230.4,1113.0 Q279.2,1130.4 328.0,1113.0 M94.3,1113.0 Q197.2,1130.9 300.0,1113.0 M129.7,1113.0 Q164.6,1125.8 199.5,1113.0 M112.3,1113.0 Q189.7,1132.6 267.0,1113.0 M67.7,1113.0 Q167.3,1142.8 267.0,1113.0 M267.0,1113.0 Q279.6,1117.2 292.3,1113.0 M131.7,1113.0 Q199.3,1131.4 267.0,1113.0 M112.3,1113.0 Q209.3,1140.4 306.3,1113.0 M98.7,1113.0 Q210.2,1135.7 321.7,1113.0 M67.7,1113.0 Q167.3,1126.0 267.0,1113.0 M208.0,1113.0 Q219.2,1116.8 230.4,1113.0 M112.3,1113.0 Q168.7,1122.0 225.0,1113.0 M131.7,1113.0 Q212.0,1123.8 292.3,1113.0 M208.0,1113.0 Q257.1,1121.1 306.3,1113.0 M102.7,1113.0 Q197.5,1135.5 292.3,1113.0 M131.7,1113.0 Q181.1,1120.5 230.4,1113.0 M98.7,1113.0 Q161.8,1131.3 225.0,1113.0 M208.0,1113.0 Q250.2,1126.4 292.3,1113.0 M102.7,1113.0 Q112.0,1119.6 121.3,1113.0 M77.0,1113.0 Q186.7,1142.6 296.3,1113.0 M143.8,1113.0 Q232.7,1136.2 321.7,1113.0 M98.7,1113.0 Q202.5,1143.8 306.3,1113.0 M131.7,1113.0 Q199.3,1135.2 267.0,1113.0 M67.7,1113.0 Q182.0,1139.6 296.3,1113.0 M195.0,1113.0 Q210.0,1121.8 225.0,1113.0 M230.4,1113.0 Q268.4,1119.3 306.3,1113.0 M199.9,1113.0 Q233.4,1118.8 267.0,1113.0 M230.4,1113.0 Q268.4,1118.9 306.3,1113.0 M102.7,1113.0 Q166.6,1123.6 230.4,1113.0 M129.7,1113.0 Q211.0,1128.7 292.3,1113.0 M107.5,1113.0 Q206.9,1133.2 306.3,1113.0 M98.7,1113.0 Q164.6,1130.7 230.4,1113.0 M102.7,1113.0 Q201.3,1138.9 300.0,1113.0 M306.3,1113.0 Q314.0,1115.8 321.7,1113.0 M112.3,1113.0 Q171.3,1125.6 230.4,1113.0 M129.7,1113.0 Q218.0,1132.9 306.3,1113.0 M67.7,1113.0 Q131.3,1125.9 195.0,1113.0 M107.5,1113.0 Q151.2,1120.1 195.0,1113.0 M112.3,1113.0 Q168.7,1127.7 225.0,1113.0 M77.0,1113.0 Q202.5,1135.6 328.0,1113.0 M77.0,1113.0 Q184.7,1139.5 292.3,1113.0 M129.7,1113.0 Q130.7,1116.5 131.7,1113.0 M112.3,1113.0 Q189.7,1137.8 267.0,1113.0 M131.7,1113.0 Q229.8,1142.8 328.0,1113.0 M199.5,1113.0 Q260.6,1121.4 321.7,1113.0 M199.5,1113.0 Q203.8,1118.2 208.0,1113.0 M121.3,1113.0 Q126.5,1118.2 131.7,1113.0 M94.3,1113.0 Q193.3,1129.9 292.3,1113.0 M107.5,1113.0 Q125.6,1117.2 143.8,1113.0 M129.7,1113.0 Q198.3,1128.3 267.0,1113.0 M77.0,1113.0 Q188.5,1133.0 300.0,1113.0" stroke="#f8a000" stroke-width="0.75" fill="none" stroke-opacity="0.9"/>
<line x1="63.20" y1="1113.00" x2="63.20" y2="1286.00" stroke="#6a6ac8" stroke-width="1.5" stroke-opacity="0.82"/>
<line x1="64.60" y1="1084.40" x2="64.60" y2="1286.00" stroke="#444444" stroke-width="2.0" stroke-opacity="0.82"/>
<line x1="66.30" y1="1084.40" x2="66.30" y2="1286.00" stroke="#224e4e" stroke-width="1.5" stroke-opacity="0.82"/>
<line x1="67.70" y1="1113.00" x2="67.70" y2="1286.00" stroke="#b97a1c" stroke-width="2.0" stroke-opacity="0.82"/>
<line x1="69.80" y1="1084.40" x2="69.80" y2="1286.00" stroke="#111111" stroke-width="1.8" stroke-opacity="0.82"/>
<line x1="71.70" y1="1084.40" x2="71.70" y2="1286.00" stroke="#7a8c3a" stroke-width="1.5" stroke-opacity="0.82"/>
<line x1="73.00" y1="1084.40" x2="73.00" y2="1286.00" stroke="#1f5a1f" stroke-width="2.0" stroke-opacity="0.82"/>
<line x1="74.70" y1="1084.40" x2="74.70" y2="1286.00" stroke="#224e4e" stroke-width="1.5" stroke-opacity="0.82"/>
<line x1="77.00" y1="1113.00" x2="77.00" y2="1286.00" stroke="#b97a1c" stroke-width="1.5" stroke-opacity="0.82"/>
<line x1="78.70" y1="1084.40" x2="78.70" y2="1286.00" stroke="#1f5a1f" stroke-width="2.0" stroke-opacity="0.82"/>
<line x1="80.00" y1="1084.40" x2="80.00" y2="1286.00" stroke="#6e4e3e" stroke-width="2.0" stroke-opacity="0.82"/>
<line x1="81.70" y1="1084.40" x2="81.70" y2="1286.00" stroke="#1f5a1f" stroke-width="1.5" stroke-opacity="0.82"/>
<line x1="83.70" y1="1084.40" x2="83.70" y2="1286.00" stroke="#111111" stroke-width="1.8" stroke-opacity="0.82"/>
<line x1="85.30" y1="1084.40" x2="85.30" y2="1286.00" stroke="#8fc48f" stroke-width="1.5" stroke-opacity="0.82"/>
<line x1="87.30" y1="1113.00" x2="87.30" y2="1286.00" stroke="#16168a" stroke-width="1.5" stroke-opacity="0.82"/>
<line x1="88.70" y1="1084.40" x2="88.70" y2="1286.00" stroke="#1f5a1f" stroke-width="2.0" stroke-opacity="0.82"/>
<line x1="90.30" y1="1084.40" x2="90.30" y2="1286.00" stroke="#2a842a" stroke-width="1.5" stroke-opacity="0.82"/>
<line x1="91.70" y1="1113.00" x2="91.70" y2="1286.00" stroke="#161636" stroke-width="1.5" stroke-opacity="0.82"/>
<line x1="92.70" y1="1084.40" x2="92.70" y2="1286.00" stroke="#1f5a1f" stroke-width="2.0" stroke-opacity="0.82"/>
<line x1="94.30" y1="1113.00" x2="94.30" y2="1286.00" stroke="#f8a000" stroke-width="1.5" stroke-opacity="0.82"/>
<line x1="96.00" y1="1113.00" x2="96.00" y2="1286.00" stroke="#161636" stroke-width="1.5" stroke-opacity="0.82"/>
<line x1="97.70" y1="1084.40" x2="97.70" y2="1286.00" stroke="#224e4e" stroke-width="1.8" stroke-opacity="0.82"/>
<line x1="98.70" y1="1113.00" x2="98.70" y2="1286.00" stroke="#b97a1c" stroke-width="1.5" stroke-opacity="0.82"/>
<line x1="100.70" y1="1113.00" x2="100.70" y2="1286.00" stroke="#16168a" stroke-width="1.5" stroke-opacity="0.82"/>
<line x1="102.70" y1="1113.00" x2="102.70" y2="1286.00" stroke="#b97a1c" stroke-width="2.0" stroke-opacity="0.82"/>
<line x1="104.00" y1="1084.40" x2="104.00" y2="1286.00" stroke="#2a842a" stroke-width="1.5" stroke-opacity="0.82"/>
<line x1="106.00" y1="1084.40" x2="106.00" y2="1286.00" stroke="#1f5a1f" stroke-width="2.0" stroke-opacity="0.82"/>
<line x1="107.50" y1="1113.00" x2="107.50" y2="1286.00" stroke="#f8a000" stroke-width="1.5" stroke-opacity="0.82"/>
<line x1="109.30" y1="1084.40" x2="109.30" y2="1286.00" stroke="#6e4e3e" stroke-width="1.5" stroke-opacity="0.82"/>
<line x1="110.70" y1="1084.40" x2="110.70" y2="1286.00" stroke="#111111" stroke-width="1.5" stroke-opacity="0.82"/>
<line x1="112.30" y1="1113.00" x2="112.30" y2="1286.00" stroke="#f8a000" stroke-width="1.5" stroke-opacity="0.82"/>
<line x1="113.70" y1="1084.40" x2="113.70" y2="1286.00" stroke="#2a842a" stroke-width="1.5" stroke-opacity="0.82"/>
<line x1="115.30" y1="1113.00" x2="115.30" y2="1286.00" stroke="#16168a" stroke-width="1.5" stroke-opacity="0.82"/>
<line x1="116.70" y1="1084.40" x2="116.70" y2="1286.00" stroke="#6e4e3e" stroke-width="1.5" stroke-opacity="0.82"/>
<line x1="118.00" y1="1084.40" x2="118.00" y2="1286.00" stroke="#2a842a" stroke-width="1.5" stroke-opacity="0.82"/>
<line x1="119.70" y1="1084.40" x2="119.70" y2="1286.00" stroke="#1f5a1f" stroke-width="1.5" stroke-opacity="0.82"/>
<line x1="121.30" y1="1113.00" x2="121.30" y2="1286.00" stroke="#f8a000" stroke-width="1.5" stroke-opacity="0.82"/>
<line x1="122.70" y1="1084.40" x2="122.70" y2="1286.00" stroke="#2a842a" stroke-width="1.5" stroke-opacity="0.82"/>
<line x1="125.00" y1="1084.40" x2="125.00" y2="1286.00" stroke="#5e3e5e" stroke-width="1.5" stroke-opacity="0.82"/>
<line x1="128.70" y1="1084.40" x2="128.70" y2="1286.00" stroke="#444444" stroke-width="1.5" stroke-opacity="0.82"/>
<line x1="129.70" y1="1113.00" x2="129.70" y2="1286.00" stroke="#f6c068" stroke-width="1.5" stroke-opacity="0.82"/>
<line x1="131.70" y1="1113.00" x2="131.70" y2="1286.00" stroke="#b97a1c" stroke-width="1.5" stroke-opacity="0.82"/>
<line x1="136.30" y1="1113.00" x2="136.30" y2="1286.00" stroke="#16168a" stroke-width="1.5" stroke-opacity="0.82"/>
<line x1="140.30" y1="1084.40" x2="140.30" y2="1286.00" stroke="#2a842a" stroke-width="1.5" stroke-opacity="0.82"/>
<line x1="141.20" y1="1084.40" x2="141.20" y2="1286.00" stroke="#1f5a1f" stroke-width="2.0" stroke-opacity="0.82"/>
<line x1="143.80" y1="1113.00" x2="143.80" y2="1286.00" stroke="#f8a000" stroke-width="1.5" stroke-opacity="0.82"/>
<line x1="146.20" y1="1084.40" x2="146.20" y2="1286.00" stroke="#2a842a" stroke-width="1.5" stroke-opacity="0.82"/>
<line x1="151.20" y1="1084.40" x2="151.20" y2="1286.00" stroke="#6e4e3e" stroke-width="1.5" stroke-opacity="0.82"/>
<line x1="156.20" y1="1113.00" x2="156.20" y2="1286.00" stroke="#161636" stroke-width="2.0" stroke-opacity="0.82"/>
<line x1="157.50" y1="1084.40" x2="157.50" y2="1286.00" stroke="#111111" stroke-width="1.5" stroke-opacity="0.82"/>
<line x1="176.20" y1="1084.40" x2="176.20" y2="1286.00" stroke="#7a8c3a" stroke-width="1.5" stroke-opacity="0.82"/>
<line x1="178.80" y1="1084.40" x2="178.80" y2="1286.00" stroke="#2a842a" stroke-width="1.5" stroke-opacity="0.82"/>
<line x1="182.50" y1="1084.40" x2="182.50" y2="1286.00" stroke="#1f5a1f" stroke-width="1.5" stroke-opacity="0.82"/>
<line x1="185.00" y1="1113.00" x2="185.00" y2="1286.00" stroke="#6a6ac8" stroke-width="1.5" stroke-opacity="0.82"/>
<line x1="191.20" y1="1113.00" x2="191.20" y2="1286.00" stroke="#f8a000" stroke-width="1.5" stroke-opacity="0.82"/>
<line x1="195.00" y1="1113.00" x2="195.00" y2="1286.00" stroke="#f8a000" stroke-width="1.5" stroke-opacity="0.82"/>
<line x1="199.50" y1="1113.00" x2="199.50" y2="1286.00" stroke="#f6c068" stroke-width="1.5" stroke-opacity="0.82"/>
<line x1="199.90" y1="1113.00" x2="199.90" y2="1286.00" stroke="#f8a000" stroke-width="1.5" stroke-opacity="0.82"/>
<line x1="208.00" y1="1113.00" x2="208.00" y2="1286.00" stroke="#f8a000" stroke-width="1.5" stroke-opacity="0.82"/>
<line x1="211.20" y1="1084.40" x2="211.20" y2="1286.00" stroke="#8fc48f" stroke-width="1.5" stroke-opacity="0.82"/>
<line x1="216.20" y1="1084.40" x2="216.20" y2="1286.00" stroke="#444444" stroke-width="1.5" stroke-opacity="0.82"/>
<line x1="218.80" y1="1084.40" x2="218.80" y2="1286.00" stroke="#111111" stroke-width="1.5" stroke-opacity="0.82"/>
<line x1="225.00" y1="1113.00" x2="225.00" y2="1286.00" stroke="#b97a1c" stroke-width="1.5" stroke-opacity="0.82"/>
<line x1="228.80" y1="1084.40" x2="228.80" y2="1286.00" stroke="#999999" stroke-width="1.5" stroke-opacity="0.82"/>
<line x1="230.40" y1="1113.00" x2="230.40" y2="1286.00" stroke="#b97a1c" stroke-width="1.5" stroke-opacity="0.82"/>
<line x1="231.20" y1="1084.40" x2="231.20" y2="1286.00" stroke="#2a842a" stroke-width="2.0" stroke-opacity="0.82"/>
<line x1="233.80" y1="1113.00" x2="233.80" y2="1286.00" stroke="#161636" stroke-width="2.0" stroke-opacity="0.82"/>
<line x1="242.50" y1="1084.40" x2="242.50" y2="1286.00" stroke="#6e4e3e" stroke-width="1.5" stroke-opacity="0.82"/>
<line x1="245.00" y1="1084.40" x2="245.00" y2="1286.00" stroke="#6e4e3e" stroke-width="1.5" stroke-opacity="0.82"/>
<line x1="256.20" y1="1084.40" x2="256.20" y2="1286.00" stroke="#7a8c3a" stroke-width="1.5" stroke-opacity="0.82"/>
<line x1="260.00" y1="1113.00" x2="260.00" y2="1286.00" stroke="#6a6ac8" stroke-width="1.5" stroke-opacity="0.82"/>
<line x1="267.00" y1="1113.00" x2="267.00" y2="1286.00" stroke="#f8a000" stroke-width="1.5" stroke-opacity="0.82"/>
<line x1="287.70" y1="1070.40" x2="287.70" y2="1286.00" stroke="#6e4e3e" stroke-width="2.0" stroke-opacity="0.82"/>
<line x1="288.40" y1="1070.40" x2="288.40" y2="1286.00" stroke="#111111" stroke-width="1.5" stroke-opacity="0.82"/>
<line x1="290.00" y1="1070.40" x2="290.00" y2="1286.00" stroke="#22cc22" stroke-width="2.5" stroke-opacity="0.82"/>
<line x1="292.30" y1="1070.40" x2="292.30" y2="1286.00" stroke="#b97a1c" stroke-width="1.5" stroke-opacity="0.82"/>
<line x1="293.70" y1="1084.40" x2="293.70" y2="1286.00" stroke="#444444" stroke-width="1.5" stroke-opacity="0.82"/>
<line x1="295.00" y1="1084.40" x2="295.00" y2="1286.00" stroke="#6e4e3e" stroke-width="1.5" stroke-opacity="0.82"/>
<line x1="296.30" y1="1070.40" x2="296.30" y2="1286.00" stroke="#b97a1c" stroke-width="1.5" stroke-opacity="0.82"/>
<line x1="298.00" y1="1084.40" x2="298.00" y2="1286.00" stroke="#224e4e" stroke-width="1.5" stroke-opacity="0.82"/>
<line x1="300.00" y1="1070.40" x2="300.00" y2="1286.00" stroke="#f8a000" stroke-width="2.5" stroke-opacity="0.82"/>
<line x1="302.00" y1="1084.40" x2="302.00" y2="1286.00" stroke="#5e3e5e" stroke-width="1.5" stroke-opacity="0.82"/>
<line x1="303.30" y1="1084.40" x2="303.30" y2="1286.00" stroke="#7a8c3a" stroke-width="1.5" stroke-opacity="0.82"/>
<line x1="304.70" y1="1084.40" x2="304.70" y2="1286.00" stroke="#224e4e" stroke-width="1.5" stroke-opacity="0.82"/>
<line x1="306.30" y1="1070.40" x2="306.30" y2="1286.00" stroke="#b97a1c" stroke-width="2.0" stroke-opacity="0.82"/>
<line x1="310.00" y1="1084.40" x2="310.00" y2="1286.00" stroke="#7a8c3a" stroke-width="1.5" stroke-opacity="0.82"/>
<line x1="316.70" y1="1084.40" x2="316.70" y2="1286.00" stroke="#5e3e5e" stroke-width="1.5" stroke-opacity="0.82"/>
<line x1="318.70" y1="1084.40" x2="318.70" y2="1286.00" stroke="#8fc48f" stroke-width="1.5" stroke-opacity="0.82"/>
<line x1="320.30" y1="1070.40" x2="320.30" y2="1286.00" stroke="#111111" stroke-width="1.5" stroke-opacity="0.82"/>
<line x1="321.70" y1="1113.00" x2="321.70" y2="1286.00" stroke="#b97a1c" stroke-width="2.0" stroke-opacity="0.82"/>
<line x1="323.30" y1="1084.40" x2="323.30" y2="1286.00" stroke="#7a8c3a" stroke-width="1.5" stroke-opacity="0.82"/>
<line x1="325.30" y1="1070.40" x2="325.30" y2="1286.00" stroke="#161636" stroke-width="1.5" stroke-opacity="0.82"/>
<line x1="326.70" y1="1084.40" x2="326.70" y2="1286.00" stroke="#7a8c3a" stroke-width="1.5" stroke-opacity="0.82"/>
<line x1="328.00" y1="1113.00" x2="328.00" y2="1286.00" stroke="#b97a1c" stroke-width="1.5" stroke-opacity="0.82"/>
<line x1="329.70" y1="1084.40" x2="329.70" y2="1286.00" stroke="#224e4e" stroke-width="1.5" stroke-opacity="0.82"/>
<line x1="331.30" y1="1070.40" x2="331.30" y2="1286.00" stroke="#1f5a1f" stroke-width="1.5" stroke-opacity="0.82"/>
<line x1="333.30" y1="1070.40" x2="333.30" y2="1286.00" stroke="#22cc22" stroke-width="2.0" stroke-opacity="0.82"/>
<line x1="335.30" y1="1070.40" x2="335.30" y2="1286.00" stroke="#6a6ac8" stroke-width="1.5" stroke-opacity="0.82"/>
<line x1="345.30" y1="1113.00" x2="345.30" y2="1286.00" stroke="#f8a000" stroke-width="1.5" stroke-opacity="0.82"/>
<path d="M58.70,1069.20 L63.70,1070.40" stroke="#1c1c8c" stroke-width="1.0" fill="none"/>
<line x1="63.70" y1="1070.40" x2="63.70" y2="1286.00" stroke="#16168a" stroke-width="1.1"/>
<path d="M83.30,1069.20 L88.30,1070.40" stroke="#1a1a6e" stroke-width="1.0" fill="none"/>
<line x1="88.30" y1="1070.40" x2="88.30" y2="1286.00" stroke="#161636" stroke-width="1.1"/>
<path d="M117.30,1069.20 L122.30,1070.40" stroke="#2e8b2e" stroke-width="1.0" fill="none"/>
<line x1="122.30" y1="1070.40" x2="122.30" y2="1286.00" stroke="#2a842a" stroke-width="1.1"/>
<path d="M126.70,1069.20 L131.70,1070.40" stroke="#ffa500" stroke-width="1.0" fill="none"/>
<line x1="131.70" y1="1070.40" x2="131.70" y2="1286.00" stroke="#f8a000" stroke-width="1.1"/>
<path d="M135.30,1069.20 L140.30,1070.40" stroke="#2e8b2e" stroke-width="1.0" fill="none"/>
<line x1="140.30" y1="1070.40" x2="140.30" y2="1286.00" stroke="#2a842a" stroke-width="1.1"/>
<path d="M194.70,1069.20 L199.70,1070.40" stroke="#ffa500" stroke-width="1.0" fill="none"/>
<line x1="199.70" y1="1070.40" x2="199.70" y2="1286.00" stroke="#f8a000" stroke-width="1.1"/>
<path d="M220.00,1069.20 L225.00,1070.40" stroke="#ffa500" stroke-width="1.0" fill="none"/>
<line x1="225.00" y1="1070.40" x2="225.00" y2="1286.00" stroke="#f8a000" stroke-width="1.1"/>
<path d="M287.00,1069.20 L292.00,1070.40" stroke="#ffa500" stroke-width="1.0" fill="none"/>
<line x1="292.00" y1="1070.40" x2="292.00" y2="1286.00" stroke="#f8a000" stroke-width="1.1"/>
<path d="M291.00,1069.20 L296.00,1070.40" stroke="#ffa500" stroke-width="1.0" fill="none"/>
<line x1="296.00" y1="1070.40" x2="296.00" y2="1286.00" stroke="#f8a000" stroke-width="1.1"/>
<path d="M295.50,1069.20 L300.50,1070.40" stroke="#d08a20" stroke-width="1.0" fill="none"/>
<line x1="300.50" y1="1070.40" x2="300.50" y2="1286.00" stroke="#b97a1c" stroke-width="1.1"/>
<path d="M315.00,1069.20 L320.00,1070.40" stroke="#1c1c8c" stroke-width="1.0" fill="none"/>
<line x1="320.00" y1="1070.40" x2="320.00" y2="1286.00" stroke="#16168a" stroke-width="1.1"/>
<path d="M321.00,1069.20 L326.00,1070.40" stroke="#1a1a6e" stroke-width="1.0" fill="none"/>
<line x1="326.00" y1="1070.40" x2="326.00" y2="1286.00" stroke="#161636" stroke-width="1.1"/>
<path d="M327.00,1069.20 L332.00,1070.40" stroke="#1a1a6e" stroke-width="1.0" fill="none"/>
<line x1="332.00" y1="1070.40" x2="332.00" y2="1286.00" stroke="#161636" stroke-width="1.1"/>
<path d="M330.30,1069.20 L335.30,1070.40" stroke="#1c1c8c" stroke-width="1.0" fill="none"/>
<line x1="335.30" y1="1070.40" x2="335.30" y2="1286.00" stroke="#16168a" stroke-width="1.1"/>
<path d="M227.2,1073.0 L230.4,1067.4 L233.6,1073.0 Z" fill="#9a7020"/>
<path d="M285.2,1073.0 L288.4,1067.4 L291.6,1073.0 Z" fill="#1e1e40"/>
<path d="M302.5,1073.0 L305.7,1067.4 L308.9,1073.0 Z" fill="#9a7020"/>
<text x="276.40" y="1065.70" font-size="11.2" textLength="27.20" lengthAdjust="spacingAndGlyphs" font-style="italic">CDK4</text>
<text x="318.40" y="1065.70" font-size="11.2" textLength="30.60" lengthAdjust="spacingAndGlyphs" font-style="italic">MDM2</text>
<rect x="675.00" y="1270.62" width="525.00" height="4.60" fill="#5aa6e6"/>
<rect x="675.00" y="1152.90" width="2.00" height="4.60" fill="#000"/>
<rect x="679.00" y="1152.90" width="4.00" height="4.60" fill="#000"/>
<rect x="686.00" y="1152.90" width="4.00" height="4.60" fill="#000"/>
<rect x="693.00" y="1152.90" width="4.00" height="4.60" fill="#000"/>
<rect x="700.00" y="1152.90" width="5.00" height="4.60" fill="#000"/>
<rect x="708.00" y="1152.90" width="5.00" height="4.60" fill="#000"/>
<rect x="716.00" y="1152.90" width="4.00" height="4.60" fill="#000"/>
<rect x="724.00" y="1152.90" width="3.00" height="4.60" fill="#000"/>
<rect x="729.00" y="1152.90" width="3.50" height="4.60" fill="#000"/>
<rect x="828.70" y="1152.90" width="5.30" height="4.60" fill="#000"/>
<rect x="835.50" y="1152.90" width="4.50" height="4.60" fill="#000"/>
<rect x="752.00" y="1165.98" width="1.00" height="4.60" fill="#000"/>
<rect x="710.50" y="1192.14" width="1.00" height="4.60" fill="#000"/>
<rect x="735.50" y="1192.14" width="1.00" height="4.60" fill="#000"/>
<rect x="753.00" y="1192.14" width="2.00" height="4.60" fill="#000"/>
<rect x="793.30" y="1192.14" width="1.00" height="4.60" fill="#000"/>
<rect x="735.80" y="1205.22" width="2.20" height="4.60" fill="#000"/>
<rect x="740.00" y="1205.22" width="7.00" height="4.60" fill="#000"/>
<rect x="752.00" y="1205.22" width="12.00" height="4.60" fill="#000"/>
<rect x="766.00" y="1205.22" width="10.20" height="4.60" fill="#000"/>
<rect x="787.50" y="1205.22" width="2.50" height="4.60" fill="#000"/>
<rect x="791.50" y="1205.22" width="4.70" height="4.60" fill="#000"/>
<rect x="803.20" y="1205.22" width="3.00" height="4.60" fill="#000"/>
<rect x="737.00" y="1218.30" width="2.50" height="4.60" fill="#000"/>
<rect x="777.50" y="1218.30" width="9.50" height="4.60" fill="#000"/>
<rect x="788.50" y="1218.30" width="2.70" height="4.60" fill="#000"/>
<rect x="797.50" y="1218.30" width="5.00" height="4.60" fill="#000"/>
<rect x="807.50" y="1218.30" width="2.50" height="4.60" fill="#000"/>
<rect x="821.30" y="1218.30" width="1.00" height="4.60" fill="#000"/>
<rect x="837.00" y="1218.30" width="1.00" height="4.60" fill="#000"/>
<rect x="816.20" y="1244.46" width="4.30" height="4.60" fill="#000"/>
<rect x="811.20" y="1257.54" width="4.30" height="4.60" fill="#000"/>
<rect x="823.70" y="1257.54" width="3.80" height="4.60" fill="#000"/>
<rect x="847.50" y="1257.54" width="50.50" height="4.60" fill="#000"/>
<rect x="918.70" y="1257.54" width="9.30" height="4.60" fill="#000"/>
<rect x="947.50" y="1257.54" width="252.50" height="4.60" fill="#000"/>
<path d="M697.3,1084.4 Q782.4,1059.1 867.5,1084.4 M758.8,1084.4 Q807.9,1074.3 857.0,1084.4 M725.7,1084.4 Q759.4,1074.5 793.0,1084.4 M685.0,1084.4 Q776.2,1061.8 867.5,1084.4 M700.7,1084.4 Q784.1,1064.1 867.5,1084.4 M704.7,1084.4 Q773.9,1072.9 843.0,1084.4 M690.7,1084.4 Q806.0,1057.8 921.2,1084.4 M901.0,1084.4 Q911.0,1078.5 921.0,1084.4 M702.3,1084.4 Q710.1,1080.2 718.0,1084.4 M690.7,1084.4 Q802.5,1067.6 914.3,1084.4 M685.0,1084.4 Q793.0,1057.3 901.0,1084.4 M734.7,1084.4 Q788.9,1069.6 843.0,1084.4 M731.7,1084.4 Q837.7,1058.9 943.8,1084.4 M693.7,1084.4 Q768.4,1067.4 843.0,1084.4 M702.3,1084.4 Q811.6,1063.4 921.0,1084.4 M683.7,1084.4 Q813.7,1057.0 943.8,1084.4 M702.3,1084.4 Q811.8,1057.2 921.2,1084.4 M690.7,1084.4 Q779.1,1059.2 867.5,1084.4 M700.7,1084.4 Q767.9,1063.2 835.0,1084.4 M697.3,1084.4 Q805.8,1058.6 914.3,1084.4 M822.5,1084.4 Q861.8,1069.4 901.0,1084.4 M693.7,1084.4 Q815.0,1066.4 936.2,1084.4 M685.0,1084.4 Q803.0,1063.7 921.0,1084.4 M690.7,1084.4 Q805.9,1065.8 921.0,1084.4 M693.7,1084.4 Q815.0,1065.7 936.2,1084.4 M702.3,1084.4 Q772.6,1067.4 843.0,1084.4 M731.7,1084.4 Q826.4,1069.9 921.0,1084.4 M704.7,1084.4 Q820.5,1051.0 936.2,1084.4 M716.0,1084.4 Q720.9,1079.1 725.7,1084.4 M685.0,1084.4 Q764.0,1063.1 843.0,1084.4 M734.7,1084.4 Q835.5,1069.7 936.2,1084.4 M730.0,1084.4 Q798.8,1070.9 867.5,1084.4 M704.7,1084.4 Q780.9,1066.8 857.0,1084.4 M730.0,1084.4 Q798.8,1069.3 867.5,1084.4 M716.0,1084.4 Q779.5,1063.1 843.0,1084.4 M700.7,1084.4 Q778.9,1064.8 857.0,1084.4 M685.0,1084.4 Q810.6,1057.7 936.2,1084.4 M683.7,1084.4 Q802.4,1063.2 921.0,1084.4 M716.0,1084.4 Q791.8,1064.6 867.5,1084.4 M693.7,1084.4 Q775.4,1071.2 857.0,1084.4 M731.7,1084.4 Q799.6,1073.5 867.5,1084.4 M767.5,1084.4 Q844.2,1067.3 921.0,1084.4 M697.3,1084.4 Q782.4,1063.1 867.5,1084.4 M843.0,1084.4 Q882.0,1076.8 921.0,1084.4 M700.7,1084.4 Q807.5,1068.8 914.3,1084.4" stroke="#2a842a" stroke-width="0.75" fill="none" stroke-opacity="0.9"/>
<path d="M704.7,1084.4 Q806.9,1104.5 909.0,1084.4 M867.5,1084.4 Q886.8,1091.1 906.0,1084.4 M702.3,1084.4 Q771.1,1103.7 840.0,1084.4 M843.0,1084.4 Q844.0,1086.0 845.0,1084.4 M790.0,1084.4 Q828.8,1096.0 867.5,1084.4 M692.0,1084.4 Q723.2,1091.5 754.5,1084.4 M693.7,1084.4 Q768.4,1095.7 843.0,1084.4 M731.7,1084.4 Q787.4,1104.1 843.0,1084.4 M692.0,1084.4 Q729.8,1089.2 767.5,1084.4 M845.0,1084.4 Q890.6,1098.1 936.2,1084.4 M676.6,1084.4 Q773.9,1106.2 871.2,1084.4 M695.7,1084.4 Q802.4,1116.9 909.0,1084.4 M678.3,1084.4 Q685.1,1089.6 692.0,1084.4 M685.0,1084.4 Q757.8,1097.4 830.5,1084.4 M731.7,1084.4 Q799.6,1102.6 867.5,1084.4 M695.7,1084.4 Q770.4,1097.5 845.0,1084.4 M681.8,1084.4 Q705.9,1091.0 730.0,1084.4 M754.5,1084.4 Q788.5,1089.3 822.5,1084.4 M718.0,1084.4 Q792.8,1106.1 867.5,1084.4 M728.7,1084.4 Q813.7,1097.3 898.7,1084.4 M695.7,1084.4 Q783.5,1102.0 871.2,1084.4 M845.0,1084.4 Q888.8,1097.4 932.5,1084.4 M843.0,1084.4 Q844.0,1087.1 845.0,1084.4 M681.8,1084.4 Q763.4,1107.9 845.0,1084.4 M692.0,1084.4 Q803.9,1116.1 915.7,1084.4 M695.7,1084.4 Q731.6,1095.9 767.5,1084.4 M690.7,1084.4 Q712.7,1092.5 734.7,1084.4 M725.7,1084.4 Q829.1,1112.1 932.5,1084.4 M725.7,1084.4 Q812.5,1110.9 899.4,1084.4 M718.0,1084.4 Q792.8,1098.4 867.5,1084.4 M731.7,1084.4 Q815.2,1106.8 898.7,1084.4 M725.7,1084.4 Q796.6,1106.2 867.5,1084.4 M702.3,1084.4 Q771.1,1099.5 840.0,1084.4 M754.5,1084.4 Q798.8,1099.1 843.0,1084.4 M822.5,1084.4 Q860.6,1089.3 898.7,1084.4 M790.0,1084.4 Q806.2,1093.7 822.5,1084.4 M695.7,1084.4 Q797.2,1097.1 898.7,1084.4 M709.7,1084.4 Q809.4,1102.9 909.0,1084.4 M704.7,1084.4 Q818.6,1113.3 932.5,1084.4 M700.7,1084.4 Q806.9,1113.6 913.0,1084.4 M678.3,1084.4 Q702.0,1093.0 725.7,1084.4 M686.7,1084.4 Q796.4,1109.2 906.0,1084.4 M843.0,1084.4 Q855.2,1089.8 867.5,1084.4 M767.5,1084.4 Q840.2,1100.1 913.0,1084.4 M695.7,1084.4 Q819.7,1102.6 943.8,1084.4 M678.3,1084.4 Q716.4,1092.9 754.5,1084.4 M692.0,1084.4 Q798.4,1112.2 904.7,1084.4 M716.0,1084.4 Q725.4,1091.1 734.7,1084.4 M692.0,1084.4 Q814.1,1109.6 936.2,1084.4 M725.7,1084.4 Q782.9,1104.5 840.0,1084.4 M754.5,1084.4 Q812.9,1101.1 871.2,1084.4 M767.5,1084.4 Q795.0,1093.6 822.5,1084.4 M840.0,1084.4 Q888.1,1095.5 936.2,1084.4 M690.7,1084.4 Q799.9,1116.6 909.0,1084.4 M693.7,1084.4 Q813.1,1098.0 932.5,1084.4" stroke="#111111" stroke-width="0.7" fill="none" stroke-opacity="0.9"/>
<path d="M675.2,1113.0 Q705.7,1100.8 736.2,1113.0 M747.5,1113.0 Q846.9,1101.5 946.2,1113.0 M689.0,1113.0 Q708.1,1104.6 727.3,1113.0 M727.3,1113.0 Q836.8,1083.5 946.2,1113.0 M736.2,1113.0 Q841.2,1097.4 946.2,1113.0 M703.7,1113.0 Q825.0,1092.3 946.2,1113.0 M689.0,1113.0 Q704.2,1108.9 719.5,1113.0 M699.3,1113.0 Q723.4,1104.0 747.5,1113.0 M736.2,1113.0 Q841.2,1080.9 946.2,1113.0 M714.7,1113.0 Q717.1,1108.4 719.5,1113.0 M699.3,1113.0 Q713.3,1107.4 727.3,1113.0 M752.5,1113.0 Q774.8,1105.6 797.0,1113.0 M689.0,1113.0 Q729.5,1103.8 770.0,1113.0 M689.0,1113.0 Q704.2,1105.8 719.5,1113.0 M699.3,1113.0 Q703.6,1110.0 708.0,1113.0 M714.7,1113.0 Q830.5,1096.2 946.2,1113.0 M689.0,1113.0 Q696.4,1107.5 703.7,1113.0 M703.7,1113.0 Q715.5,1109.1 727.3,1113.0 M689.0,1113.0 Q743.0,1093.9 797.0,1113.0 M752.5,1113.0 Q849.4,1088.3 946.2,1113.0 M710.7,1113.0 Q719.0,1109.9 727.3,1113.0 M747.5,1113.0 Q758.8,1110.5 770.0,1113.0 M708.0,1113.0 Q711.4,1108.8 714.7,1113.0 M675.2,1113.0 Q705.7,1107.9 736.2,1113.0 M679.7,1113.0 Q693.9,1107.3 708.0,1113.0 M703.7,1113.0 Q715.5,1107.2 727.3,1113.0 M712.7,1113.0 Q741.4,1102.1 770.0,1113.0 M719.5,1113.0 Q832.9,1093.0 946.2,1113.0 M710.7,1113.0 Q712.7,1109.2 714.7,1113.0 M714.7,1113.0 Q755.9,1099.2 797.0,1113.0 M699.3,1113.0 Q702.8,1110.7 706.3,1113.0 M679.7,1113.0 Q813.0,1093.2 946.2,1113.0 M710.7,1113.0 Q719.0,1106.8 727.3,1113.0 M712.7,1113.0 Q716.1,1109.8 719.5,1113.0 M689.0,1113.0 Q699.9,1105.5 710.7,1113.0 M770.0,1113.0 Q858.1,1102.9 946.2,1113.0 M703.7,1113.0 Q728.1,1108.9 752.5,1113.0 M679.7,1113.0 Q813.0,1092.5 946.2,1113.0 M727.3,1113.0 Q836.8,1091.8 946.2,1113.0 M703.7,1113.0 Q825.0,1092.4 946.2,1113.0 M708.0,1113.0 Q739.0,1107.0 770.0,1113.0 M752.5,1113.0 Q761.2,1108.5 770.0,1113.0 M710.7,1113.0 Q828.5,1079.6 946.2,1113.0 M706.3,1113.0 Q738.1,1100.2 770.0,1113.0 M736.2,1113.0 Q841.2,1088.8 946.2,1113.0 M770.0,1113.0 Q858.1,1099.4 946.2,1113.0 M710.7,1113.0 Q740.4,1103.9 770.0,1113.0 M703.7,1113.0 Q825.0,1097.8 946.2,1113.0" stroke="#16168a" stroke-width="0.85" fill="none" stroke-opacity="0.9"/>
<path d="M706.3,1113.0 Q735.0,1123.3 763.8,1113.0 M689.0,1113.0 Q772.0,1128.4 855.0,1113.0 M679.7,1113.0 Q791.5,1146.5 903.3,1113.0 M706.3,1113.0 Q806.8,1124.4 907.3,1113.0 M714.7,1113.0 Q759.2,1120.9 803.8,1113.0 M741.2,1113.0 Q835.0,1125.8 928.8,1113.0 M706.3,1113.0 Q767.1,1125.6 828.0,1113.0 M710.7,1113.0 Q726.0,1118.2 741.2,1113.0 M714.7,1113.0 Q771.4,1125.0 828.0,1113.0 M679.7,1113.0 Q733.6,1127.6 787.5,1113.0 M710.7,1113.0 Q807.0,1130.5 903.3,1113.0 M710.7,1113.0 Q825.4,1136.4 940.0,1113.0 M719.5,1113.0 Q815.2,1136.9 911.0,1113.0 M719.5,1113.0 Q721.9,1118.4 724.3,1113.0 M679.7,1113.0 Q798.5,1148.4 917.3,1113.0 M724.3,1113.0 Q789.6,1126.1 855.0,1113.0 M679.7,1113.0 Q793.5,1134.0 907.3,1113.0 M689.0,1113.0 Q808.9,1149.4 928.8,1113.0 M724.3,1113.0 Q801.5,1135.7 878.8,1113.0 M689.0,1113.0 Q798.1,1144.1 907.3,1113.0 M689.0,1113.0 Q732.9,1120.0 776.8,1113.0 M719.5,1113.0 Q818.4,1129.7 917.3,1113.0 M741.2,1113.0 Q829.3,1130.7 917.3,1113.0 M710.7,1113.0 Q794.7,1128.0 878.8,1113.0 M679.7,1113.0 Q798.5,1136.7 917.3,1113.0 M706.3,1113.0 Q817.5,1146.1 928.8,1113.0 M714.7,1113.0 Q811.0,1131.3 907.3,1113.0 M679.7,1113.0 Q699.6,1120.0 719.5,1113.0 M679.7,1113.0 Q743.6,1125.3 807.5,1113.0 M710.7,1113.0 Q807.0,1135.3 903.3,1113.0 M911.0,1113.0 Q925.5,1119.2 940.0,1113.0 M811.2,1113.0 Q845.0,1119.5 878.8,1113.0 M907.3,1113.0 Q923.6,1116.6 940.0,1113.0 M714.7,1113.0 Q827.4,1142.1 940.0,1113.0 M689.0,1113.0 Q758.5,1133.8 828.0,1113.0 M689.0,1113.0 Q808.9,1133.9 928.8,1113.0 M733.3,1113.0 Q806.0,1124.6 878.8,1113.0 M719.5,1113.0 Q799.1,1123.8 878.8,1113.0 M741.2,1113.0 Q798.1,1128.1 855.0,1113.0 M724.3,1113.0 Q815.8,1134.2 907.3,1113.0 M724.3,1113.0 Q820.8,1142.2 917.3,1113.0 M679.7,1113.0 Q767.4,1135.2 855.0,1113.0 M776.8,1113.0 Q858.4,1132.2 940.0,1113.0 M706.3,1113.0 Q758.8,1126.9 811.2,1113.0 M763.8,1113.0 Q809.4,1129.0 855.0,1113.0 M733.3,1113.0 Q822.1,1140.0 911.0,1113.0 M689.0,1113.0 Q715.1,1118.5 741.2,1113.0 M679.7,1113.0 Q710.5,1118.6 741.2,1113.0 M689.0,1113.0 Q803.1,1128.2 917.3,1113.0 M689.0,1113.0 Q800.0,1125.3 911.0,1113.0 M741.2,1113.0 Q826.1,1137.8 911.0,1113.0 M733.3,1113.0 Q818.3,1139.8 903.3,1113.0 M719.5,1113.0 Q824.1,1135.0 928.8,1113.0 M741.2,1113.0 Q798.1,1129.9 855.0,1113.0 M911.0,1113.0 Q919.9,1118.7 928.8,1113.0" stroke="#f8a000" stroke-width="0.75" fill="none" stroke-opacity="0.9"/>
<line x1="675.20" y1="1113.00" x2="675.20" y2="1286.00" stroke="#6a6ac8" stroke-width="1.5" stroke-opacity="0.82"/>
<line x1="676.60" y1="1084.40" x2="676.60" y2="1286.00" stroke="#444444" stroke-width="2.0" stroke-opacity="0.82"/>
<line x1="678.30" y1="1084.40" x2="678.30" y2="1286.00" stroke="#224e4e" stroke-width="1.5" stroke-opacity="0.82"/>
<line x1="679.70" y1="1113.00" x2="679.70" y2="1286.00" stroke="#b97a1c" stroke-width="2.0" stroke-opacity="0.82"/>
<line x1="681.80" y1="1084.40" x2="681.80" y2="1286.00" stroke="#111111" stroke-width="1.8" stroke-opacity="0.82"/>
<line x1="683.70" y1="1084.40" x2="683.70" y2="1286.00" stroke="#7a8c3a" stroke-width="1.5" stroke-opacity="0.82"/>
<line x1="685.00" y1="1084.40" x2="685.00" y2="1286.00" stroke="#1f5a1f" stroke-width="2.0" stroke-opacity="0.82"/>
<line x1="686.70" y1="1084.40" x2="686.70" y2="1286.00" stroke="#224e4e" stroke-width="1.5" stroke-opacity="0.82"/>
<line x1="689.00" y1="1113.00" x2="689.00" y2="1286.00" stroke="#b97a1c" stroke-width="1.5" stroke-opacity="0.82"/>
<line x1="690.70" y1="1084.40" x2="690.70" y2="1286.00" stroke="#1f5a1f" stroke-width="2.0" stroke-opacity="0.82"/>
<line x1="692.00" y1="1084.40" x2="692.00" y2="1286.00" stroke="#6e4e3e" stroke-width="2.0" stroke-opacity="0.82"/>
<line x1="693.70" y1="1084.40" x2="693.70" y2="1286.00" stroke="#1f5a1f" stroke-width="1.5" stroke-opacity="0.82"/>
<line x1="695.70" y1="1084.40" x2="695.70" y2="1286.00" stroke="#111111" stroke-width="1.8" stroke-opacity="0.82"/>
<line x1="697.30" y1="1084.40" x2="697.30" y2="1286.00" stroke="#8fc48f" stroke-width="1.5" stroke-opacity="0.82"/>
<line x1="699.30" y1="1113.00" x2="699.30" y2="1286.00" stroke="#16168a" stroke-width="1.5" stroke-opacity="0.82"/>
<line x1="700.70" y1="1084.40" x2="700.70" y2="1286.00" stroke="#1f5a1f" stroke-width="2.0" stroke-opacity="0.82"/>
<line x1="702.30" y1="1084.40" x2="702.30" y2="1286.00" stroke="#2a842a" stroke-width="1.5" stroke-opacity="0.82"/>
<line x1="703.70" y1="1113.00" x2="703.70" y2="1286.00" stroke="#161636" stroke-width="1.5" stroke-opacity="0.82"/>
<line x1="704.70" y1="1084.40" x2="704.70" y2="1286.00" stroke="#1f5a1f" stroke-width="2.0" stroke-opacity="0.82"/>
<line x1="706.30" y1="1113.00" x2="706.30" y2="1286.00" stroke="#f8a000" stroke-width="1.5" stroke-opacity="0.82"/>
<line x1="708.00" y1="1113.00" x2="708.00" y2="1286.00" stroke="#161636" stroke-width="1.5" stroke-opacity="0.82"/>
<line x1="709.70" y1="1084.40" x2="709.70" y2="1286.00" stroke="#224e4e" stroke-width="1.8" stroke-opacity="0.82"/>
<line x1="710.70" y1="1113.00" x2="710.70" y2="1286.00" stroke="#b97a1c" stroke-width="1.5" stroke-opacity="0.82"/>
<line x1="712.70" y1="1113.00" x2="712.70" y2="1286.00" stroke="#16168a" stroke-width="1.5" stroke-opacity="0.82"/>
<line x1="714.70" y1="1113.00" x2="714.70" y2="1286.00" stroke="#b97a1c" stroke-width="2.0" stroke-opacity="0.82"/>
<line x1="716.00" y1="1084.40" x2="716.00" y2="1286.00" stroke="#2a842a" stroke-width="1.5" stroke-opacity="0.82"/>
<line x1="718.00" y1="1084.40" x2="718.00" y2="1286.00" stroke="#1f5a1f" stroke-width="2.0" stroke-opacity="0.82"/>
<line x1="719.50" y1="1113.00" x2="719.50" y2="1286.00" stroke="#f8a000" stroke-width="1.5" stroke-opacity="0.82"/>
<line x1="721.30" y1="1084.40" x2="721.30" y2="1286.00" stroke="#6e4e3e" stroke-width="1.5" stroke-opacity="0.82"/>
<line x1="722.70" y1="1084.40" x2="722.70" y2="1286.00" stroke="#111111" stroke-width="1.5" stroke-opacity="0.82"/>
<line x1="724.30" y1="1113.00" x2="724.30" y2="1286.00" stroke="#f8a000" stroke-width="1.5" stroke-opacity="0.82"/>
<line x1="725.70" y1="1084.40" x2="725.70" y2="1286.00" stroke="#2a842a" stroke-width="1.5" stroke-opacity="0.82"/>
<line x1="727.30" y1="1113.00" x2="727.30" y2="1286.00" stroke="#16168a" stroke-width="1.5" stroke-opacity="0.82"/>
<line x1="728.70" y1="1084.40" x2="728.70" y2="1286.00" stroke="#6e4e3e" stroke-width="1.5" stroke-opacity="0.82"/>
<line x1="730.00" y1="1084.40" x2="730.00" y2="1286.00" stroke="#2a842a" stroke-width="1.5" stroke-opacity="0.82"/>
<line x1="731.70" y1="1084.40" x2="731.70" y2="1286.00" stroke="#1f5a1f" stroke-width="1.5" stroke-opacity="0.82"/>
<line x1="733.30" y1="1113.00" x2="733.30" y2="1286.00" stroke="#f8a000" stroke-width="1.5" stroke-opacity="0.82"/>
<line x1="734.70" y1="1084.40" x2="734.70" y2="1286.00" stroke="#2a842a" stroke-width="1.5" stroke-opacity="0.82"/>
<line x1="736.20" y1="1113.00" x2="736.20" y2="1286.00" stroke="#6a6ac8" stroke-width="1.5" stroke-opacity="0.82"/>
<line x1="741.20" y1="1113.00" x2="741.20" y2="1286.00" stroke="#f8a000" stroke-width="1.5" stroke-opacity="0.82"/>
<line x1="747.50" y1="1113.00" x2="747.50" y2="1286.00" stroke="#161636" stroke-width="1.5" stroke-opacity="0.82"/>
<line x1="752.50" y1="1113.00" x2="752.50" y2="1286.00" stroke="#161636" stroke-width="2.0" stroke-opacity="0.82"/>
<line x1="754.50" y1="1084.40" x2="754.50" y2="1286.00" stroke="#111111" stroke-width="1.5" stroke-opacity="0.82"/>
<line x1="758.80" y1="1084.40" x2="758.80" y2="1286.00" stroke="#8fc48f" stroke-width="1.5" stroke-opacity="0.82"/>
<line x1="763.80" y1="1113.00" x2="763.80" y2="1286.00" stroke="#b97a1c" stroke-width="1.5" stroke-opacity="0.82"/>
<line x1="767.50" y1="1084.40" x2="767.50" y2="1286.00" stroke="#1f5a1f" stroke-width="2.0" stroke-opacity="0.82"/>
<line x1="770.00" y1="1113.00" x2="770.00" y2="1286.00" stroke="#6a6ac8" stroke-width="1.5" stroke-opacity="0.82"/>
<line x1="776.80" y1="1113.00" x2="776.80" y2="1286.00" stroke="#f8a000" stroke-width="1.5" stroke-opacity="0.82"/>
<line x1="787.50" y1="1113.00" x2="787.50" y2="1286.00" stroke="#b97a1c" stroke-width="1.5" stroke-opacity="0.82"/>
<line x1="790.00" y1="1084.40" x2="790.00" y2="1286.00" stroke="#2a842a" stroke-width="1.5" stroke-opacity="0.82"/>
<line x1="793.00" y1="1084.40" x2="793.00" y2="1286.00" stroke="#8fc48f" stroke-width="1.5" stroke-opacity="0.82"/>
<line x1="797.00" y1="1113.00" x2="797.00" y2="1286.00" stroke="#6a6ac8" stroke-width="1.5" stroke-opacity="0.82"/>
<line x1="803.80" y1="1113.00" x2="803.80" y2="1286.00" stroke="#f8a000" stroke-width="1.5" stroke-opacity="0.82"/>
<line x1="807.50" y1="1113.00" x2="807.50" y2="1286.00" stroke="#f8a000" stroke-width="1.5" stroke-opacity="0.82"/>
<line x1="811.20" y1="1113.00" x2="811.20" y2="1286.00" stroke="#f6c068" stroke-width="1.5" stroke-opacity="0.82"/>
<line x1="822.50" y1="1084.40" x2="822.50" y2="1286.00" stroke="#2a842a" stroke-width="1.5" stroke-opacity="0.82"/>
<line x1="828.00" y1="1113.00" x2="828.00" y2="1286.00" stroke="#b97a1c" stroke-width="2.0" stroke-opacity="0.82"/>
<line x1="830.50" y1="1084.40" x2="830.50" y2="1286.00" stroke="#111111" stroke-width="1.5" stroke-opacity="0.82"/>
<line x1="835.00" y1="1084.40" x2="835.00" y2="1286.00" stroke="#7a8c3a" stroke-width="1.5" stroke-opacity="0.82"/>
<line x1="840.00" y1="1084.40" x2="840.00" y2="1286.00" stroke="#6e4e3e" stroke-width="1.5" stroke-opacity="0.82"/>
<line x1="843.00" y1="1084.40" x2="843.00" y2="1286.00" stroke="#2a842a" stroke-width="2.0" stroke-opacity="0.82"/>
<line x1="845.00" y1="1084.40" x2="845.00" y2="1286.00" stroke="#111111" stroke-width="1.5" stroke-opacity="0.82"/>
<line x1="855.00" y1="1113.00" x2="855.00" y2="1286.00" stroke="#b97a1c" stroke-width="1.5" stroke-opacity="0.82"/>
<line x1="857.00" y1="1084.40" x2="857.00" y2="1286.00" stroke="#7a8c3a" stroke-width="1.5" stroke-opacity="0.82"/>
<line x1="867.50" y1="1084.40" x2="867.50" y2="1286.00" stroke="#2a842a" stroke-width="1.5" stroke-opacity="0.82"/>
<line x1="871.20" y1="1084.40" x2="871.20" y2="1286.00" stroke="#5e3e5e" stroke-width="1.5" stroke-opacity="0.82"/>
<line x1="878.80" y1="1113.00" x2="878.80" y2="1286.00" stroke="#f8a000" stroke-width="1.5" stroke-opacity="0.82"/>
<line x1="898.70" y1="1070.40" x2="898.70" y2="1286.00" stroke="#6e4e3e" stroke-width="2.0" stroke-opacity="0.82"/>
<line x1="899.40" y1="1070.40" x2="899.40" y2="1286.00" stroke="#111111" stroke-width="1.5" stroke-opacity="0.82"/>
<line x1="901.00" y1="1070.40" x2="901.00" y2="1286.00" stroke="#22cc22" stroke-width="2.5" stroke-opacity="0.82"/>
<line x1="903.30" y1="1070.40" x2="903.30" y2="1286.00" stroke="#b97a1c" stroke-width="1.5" stroke-opacity="0.82"/>
<line x1="904.70" y1="1084.40" x2="904.70" y2="1286.00" stroke="#444444" stroke-width="1.5" stroke-opacity="0.82"/>
<line x1="906.00" y1="1084.40" x2="906.00" y2="1286.00" stroke="#6e4e3e" stroke-width="1.5" stroke-opacity="0.82"/>
<line x1="907.30" y1="1070.40" x2="907.30" y2="1286.00" stroke="#b97a1c" stroke-width="1.5" stroke-opacity="0.82"/>
<line x1="909.00" y1="1084.40" x2="909.00" y2="1286.00" stroke="#224e4e" stroke-width="1.5" stroke-opacity="0.82"/>
<line x1="911.00" y1="1070.40" x2="911.00" y2="1286.00" stroke="#f8a000" stroke-width="2.5" stroke-opacity="0.82"/>
<line x1="913.00" y1="1084.40" x2="913.00" y2="1286.00" stroke="#5e3e5e" stroke-width="1.5" stroke-opacity="0.82"/>
<line x1="914.30" y1="1084.40" x2="914.30" y2="1286.00" stroke="#7a8c3a" stroke-width="1.5" stroke-opacity="0.82"/>
<line x1="915.70" y1="1084.40" x2="915.70" y2="1286.00" stroke="#224e4e" stroke-width="1.5" stroke-opacity="0.82"/>
<line x1="917.30" y1="1070.40" x2="917.30" y2="1286.00" stroke="#b97a1c" stroke-width="2.0" stroke-opacity="0.82"/>
<line x1="921.00" y1="1084.40" x2="921.00" y2="1286.00" stroke="#7a8c3a" stroke-width="1.5" stroke-opacity="0.82"/>
<line x1="921.20" y1="1084.40" x2="921.20" y2="1286.00" stroke="#8fc48f" stroke-width="1.5" stroke-opacity="0.82"/>
<line x1="928.80" y1="1113.00" x2="928.80" y2="1286.00" stroke="#f8a000" stroke-width="1.5" stroke-opacity="0.82"/>
<line x1="932.50" y1="1084.40" x2="932.50" y2="1286.00" stroke="#111111" stroke-width="1.5" stroke-opacity="0.82"/>
<line x1="936.20" y1="1084.40" x2="936.20" y2="1286.00" stroke="#1f5a1f" stroke-width="1.5" stroke-opacity="0.82"/>
<line x1="940.00" y1="1113.00" x2="940.00" y2="1286.00" stroke="#b97a1c" stroke-width="1.5" stroke-opacity="0.82"/>
<line x1="943.80" y1="1084.40" x2="943.80" y2="1286.00" stroke="#2a842a" stroke-width="1.5" stroke-opacity="0.82"/>
<line x1="946.20" y1="1113.00" x2="946.20" y2="1286.00" stroke="#161636" stroke-width="2.0" stroke-opacity="0.82"/>
<path d="M696.25,1069.20 L701.25,1070.40" stroke="#1a1a6e" stroke-width="1.0" fill="none"/>
<line x1="701.25" y1="1070.40" x2="701.25" y2="1286.00" stroke="#161636" stroke-width="1.1"/>
<path d="M712.50,1069.20 L717.50,1070.40" stroke="#1c1c8c" stroke-width="1.0" fill="none"/>
<line x1="717.50" y1="1070.40" x2="717.50" y2="1286.00" stroke="#16168a" stroke-width="1.1"/>
<path d="M728.75,1069.20 L733.75,1070.40" stroke="#2e8b2e" stroke-width="1.0" fill="none"/>
<line x1="733.75" y1="1070.40" x2="733.75" y2="1286.00" stroke="#2a842a" stroke-width="1.1"/>
<path d="M736.25,1069.20 L741.25,1070.40" stroke="#ffa500" stroke-width="1.0" fill="none"/>
<line x1="741.25" y1="1070.40" x2="741.25" y2="1286.00" stroke="#f8a000" stroke-width="1.1"/>
<path d="M805.00,1069.20 L810.00,1070.40" stroke="#ffa500" stroke-width="1.0" fill="none"/>
<line x1="810.00" y1="1070.40" x2="810.00" y2="1286.00" stroke="#f8a000" stroke-width="1.1"/>
<path d="M825.00,1069.20 L830.00,1070.40" stroke="#1a1a1a" stroke-width="1.0" fill="none"/>
<line x1="830.00" y1="1070.40" x2="830.00" y2="1286.00" stroke="#111111" stroke-width="1.1"/>
<path d="M850.00,1069.20 L855.00,1070.40" stroke="#ffa500" stroke-width="1.0" fill="none"/>
<line x1="855.00" y1="1070.40" x2="855.00" y2="1286.00" stroke="#f8a000" stroke-width="1.1"/>
<path d="M866.25,1069.20 L871.25,1070.40" stroke="#1c1c8c" stroke-width="1.0" fill="none"/>
<line x1="871.25" y1="1070.40" x2="871.25" y2="1286.00" stroke="#16168a" stroke-width="1.1"/>
<path d="M895.00,1069.20 L900.00,1070.40" stroke="#1a1a1a" stroke-width="1.0" fill="none"/>
<line x1="900.00" y1="1070.40" x2="900.00" y2="1286.00" stroke="#111111" stroke-width="1.1"/>
<path d="M898.00,1069.20 L903.00,1070.40" stroke="#1a1a6e" stroke-width="1.0" fill="none"/>
<line x1="903.00" y1="1070.40" x2="903.00" y2="1286.00" stroke="#161636" stroke-width="1.1"/>
<path d="M902.00,1069.20 L907.00,1070.40" stroke="#ffa500" stroke-width="1.0" fill="none"/>
<line x1="907.00" y1="1070.40" x2="907.00" y2="1286.00" stroke="#f8a000" stroke-width="1.1"/>
<path d="M907.00,1069.20 L912.00,1070.40" stroke="#ffa500" stroke-width="1.0" fill="none"/>
<line x1="912.00" y1="1070.40" x2="912.00" y2="1286.00" stroke="#f8a000" stroke-width="1.1"/>
<path d="M911.00,1069.20 L916.00,1070.40" stroke="#1a1a1a" stroke-width="1.0" fill="none"/>
<line x1="916.00" y1="1070.40" x2="916.00" y2="1286.00" stroke="#111111" stroke-width="1.1"/>
<path d="M930.00,1069.20 L935.00,1070.40" stroke="#1c1c8c" stroke-width="1.0" fill="none"/>
<line x1="935.00" y1="1070.40" x2="935.00" y2="1286.00" stroke="#16168a" stroke-width="1.1"/>
<path d="M935.50,1069.20 L940.50,1070.40" stroke="#1a1a6e" stroke-width="1.0" fill="none"/>
<line x1="940.50" y1="1070.40" x2="940.50" y2="1286.00" stroke="#161636" stroke-width="1.1"/>
<path d="M939.50,1069.20 L944.50,1070.40" stroke="#1a1a6e" stroke-width="1.0" fill="none"/>
<line x1="944.50" y1="1070.40" x2="944.50" y2="1286.00" stroke="#161636" stroke-width="1.1"/>
<path d="M941.50,1069.20 L946.50,1070.40" stroke="#1c1c8c" stroke-width="1.0" fill="none"/>
<line x1="946.50" y1="1070.40" x2="946.50" y2="1286.00" stroke="#16168a" stroke-width="1.1"/>
<text x="887.20" y="1065.70" font-size="11.2" textLength="28.10" lengthAdjust="spacingAndGlyphs" font-style="italic">CDK4</text>
<text x="930.70" y="1065.70" font-size="11.2" textLength="30.60" lengthAdjust="spacingAndGlyphs" font-style="italic">MDM2</text>
<line x1="1101.50" y1="1070.40" x2="1101.50" y2="1286.00" stroke="#5a5ad0" stroke-width="1.0"/>
<path d="M1096.50,1069.20 L1101.50,1070.40" stroke="#5a5ad0" stroke-width="1.0" fill="none"/>
<rect x="68.40" y="628.30" width="21.10" height="13.30" fill="#ffffff"/>
<rect x="89.50" y="628.30" width="19.70" height="13.30" fill="#808080" stroke="#262626" stroke-width="0.9"/>
<rect x="109.20" y="628.30" width="26.55" height="13.30" fill="#ffffff"/>
<rect x="135.75" y="628.30" width="33.00" height="13.30" fill="#404040" stroke="#262626" stroke-width="0.9"/>
<rect x="168.75" y="628.30" width="41.25" height="13.30" fill="#ffffff"/>
<rect x="210.00" y="628.30" width="15.00" height="13.30" fill="#ff0000" stroke="#262626" stroke-width="0.9"/>
<rect x="225.00" y="628.30" width="14.50" height="13.30" fill="#ff0000" stroke="#262626" stroke-width="0.9"/>
<rect x="239.50" y="628.30" width="38.00" height="13.30" fill="#ffffff"/>
<rect x="277.50" y="628.30" width="39.50" height="13.30" fill="#808080" stroke="#262626" stroke-width="0.9"/>
<rect x="317.00" y="628.30" width="2.50" height="13.30" fill="#ffffff"/>
<rect x="319.50" y="628.30" width="16.00" height="13.30" fill="#bdbdbd" stroke="#262626" stroke-width="0.9"/>
<rect x="335.50" y="628.30" width="25.00" height="13.30" fill="#ffffff"/>
<rect x="360.50" y="628.30" width="16.00" height="13.30" fill="#bdbdbd" stroke="#262626" stroke-width="0.9"/>
<rect x="376.50" y="628.30" width="17.00" height="13.30" fill="#ffffff"/>
<rect x="393.50" y="628.30" width="46.00" height="13.30" fill="#404040" stroke="#262626" stroke-width="0.9"/>
<rect x="439.50" y="628.30" width="4.00" height="13.30" fill="#ffffff"/>
<rect x="443.50" y="628.30" width="19.00" height="13.30" fill="#404040" stroke="#262626" stroke-width="0.9"/>
<rect x="462.50" y="628.30" width="9.00" height="13.30" fill="#ffffff"/>
<rect x="471.50" y="628.30" width="10.00" height="13.30" fill="#808080" stroke="#262626" stroke-width="0.9"/>
<rect x="481.50" y="628.30" width="18.00" height="13.30" fill="#ffffff"/>
<rect x="499.50" y="628.30" width="24.00" height="13.30" fill="#404040" stroke="#262626" stroke-width="0.9"/>
<rect x="523.50" y="628.30" width="23.50" height="13.30" fill="#ffffff"/>
<rect x="547.00" y="628.30" width="3.50" height="13.30" fill="#bdbdbd" stroke="#262626" stroke-width="0.9"/>
<rect x="550.50" y="628.30" width="37.50" height="13.30" fill="#ffffff"/>
<rect x="68.40" y="628.30" width="519.54" height="13.30" fill="none" stroke="#444" stroke-width="1" rx="1.5"/>
<line x1="68.40" y1="641.60" x2="68.40" y2="647.10" stroke="#333" stroke-width="1"/>
<text x="68.40" y="661.60" font-size="10.5" text-anchor="middle" textLength="6.89" lengthAdjust="spacingAndGlyphs">0</text>
<line x1="224.40" y1="641.60" x2="224.40" y2="647.10" stroke="#333" stroke-width="1"/>
<text x="224.40" y="661.60" font-size="10.5" text-anchor="middle" textLength="13.78" lengthAdjust="spacingAndGlyphs">25</text>
<line x1="380.40" y1="641.60" x2="380.40" y2="647.10" stroke="#333" stroke-width="1"/>
<text x="380.40" y="661.60" font-size="10.5" text-anchor="middle" textLength="13.78" lengthAdjust="spacingAndGlyphs">50</text>
<line x1="536.40" y1="641.60" x2="536.40" y2="647.10" stroke="#333" stroke-width="1"/>
<text x="536.40" y="661.60" font-size="10.5" text-anchor="middle" textLength="13.78" lengthAdjust="spacingAndGlyphs">75</text>
<rect x="680.50" y="628.30" width="21.10" height="13.30" fill="#ffffff"/>
<rect x="701.60" y="628.30" width="19.70" height="13.30" fill="#808080" stroke="#262626" stroke-width="0.9"/>
<rect x="721.30" y="628.30" width="26.55" height="13.30" fill="#ffffff"/>
<rect x="747.85" y="628.30" width="33.00" height="13.30" fill="#404040" stroke="#262626" stroke-width="0.9"/>
<rect x="780.85" y="628.30" width="41.25" height="13.30" fill="#ffffff"/>
<rect x="822.10" y="628.30" width="15.00" height="13.30" fill="#ff0000" stroke="#262626" stroke-width="0.9"/>
<rect x="837.10" y="628.30" width="14.50" height="13.30" fill="#ff0000" stroke="#262626" stroke-width="0.9"/>
<rect x="851.60" y="628.30" width="38.00" height="13.30" fill="#ffffff"/>
<rect x="889.60" y="628.30" width="39.50" height="13.30" fill="#808080" stroke="#262626" stroke-width="0.9"/>
<rect x="929.10" y="628.30" width="2.50" height="13.30" fill="#ffffff"/>
<rect x="931.60" y="628.30" width="16.00" height="13.30" fill="#bdbdbd" stroke="#262626" stroke-width="0.9"/>
<rect x="947.60" y="628.30" width="25.00" height="13.30" fill="#ffffff"/>
<rect x="972.60" y="628.30" width="16.00" height="13.30" fill="#bdbdbd" stroke="#262626" stroke-width="0.9"/>
<rect x="988.60" y="628.30" width="17.00" height="13.30" fill="#ffffff"/>
<rect x="1005.60" y="628.30" width="46.00" height="13.30" fill="#404040" stroke="#262626" stroke-width="0.9"/>
<rect x="1051.60" y="628.30" width="4.00" height="13.30" fill="#ffffff"/>
<rect x="1055.60" y="628.30" width="19.00" height="13.30" fill="#404040" stroke="#262626" stroke-width="0.9"/>
<rect x="1074.60" y="628.30" width="9.00" height="13.30" fill="#ffffff"/>
<rect x="1083.60" y="628.30" width="10.00" height="13.30" fill="#808080" stroke="#262626" stroke-width="0.9"/>
<rect x="1093.60" y="628.30" width="18.00" height="13.30" fill="#ffffff"/>
<rect x="1111.60" y="628.30" width="24.00" height="13.30" fill="#404040" stroke="#262626" stroke-width="0.9"/>
<rect x="1135.60" y="628.30" width="23.50" height="13.30" fill="#ffffff"/>
<rect x="1159.10" y="628.30" width="3.50" height="13.30" fill="#bdbdbd" stroke="#262626" stroke-width="0.9"/>
<rect x="1162.60" y="628.30" width="37.50" height="13.30" fill="#ffffff"/>
<rect x="680.50" y="628.30" width="519.54" height="13.30" fill="none" stroke="#444" stroke-width="1" rx="1.5"/>
<line x1="680.50" y1="641.60" x2="680.50" y2="647.10" stroke="#333" stroke-width="1"/>
<text x="680.50" y="661.60" font-size="10.5" text-anchor="middle" textLength="6.89" lengthAdjust="spacingAndGlyphs">0</text>
<line x1="836.50" y1="641.60" x2="836.50" y2="647.10" stroke="#333" stroke-width="1"/>
<text x="836.50" y="661.60" font-size="10.5" text-anchor="middle" textLength="13.78" lengthAdjust="spacingAndGlyphs">25</text>
<line x1="992.50" y1="641.60" x2="992.50" y2="647.10" stroke="#333" stroke-width="1"/>
<text x="992.50" y="661.60" font-size="10.5" text-anchor="middle" textLength="13.78" lengthAdjust="spacingAndGlyphs">50</text>
<line x1="1148.50" y1="641.60" x2="1148.50" y2="647.10" stroke="#333" stroke-width="1"/>
<text x="1148.50" y="661.60" font-size="10.5" text-anchor="middle" textLength="13.78" lengthAdjust="spacingAndGlyphs">75</text>
<rect x="64.20" y="958.80" width="12.20" height="13.30" fill="#ffffff"/>
<rect x="76.40" y="958.80" width="8.20" height="13.30" fill="#bdbdbd" stroke="#262626" stroke-width="0.9"/>
<rect x="84.60" y="958.80" width="18.70" height="13.30" fill="#ffffff"/>
<rect x="103.30" y="958.80" width="10.40" height="13.30" fill="#404040" stroke="#262626" stroke-width="0.9"/>
<rect x="113.70" y="958.80" width="7.50" height="13.30" fill="#ffffff"/>
<rect x="121.20" y="958.80" width="20.80" height="13.30" fill="#000000" stroke="#262626" stroke-width="0.9"/>
<rect x="142.00" y="958.80" width="5.00" height="13.30" fill="#ffffff"/>
<rect x="147.00" y="958.80" width="20.80" height="13.30" fill="#000000" stroke="#262626" stroke-width="0.9"/>
<rect x="167.80" y="958.80" width="4.70" height="13.30" fill="#ffffff"/>
<rect x="172.50" y="958.80" width="11.30" height="13.30" fill="#808080" stroke="#262626" stroke-width="0.9"/>
<rect x="183.80" y="958.80" width="10.70" height="13.30" fill="#ffffff"/>
<rect x="194.50" y="958.80" width="8.80" height="13.30" fill="#ff0000" stroke="#262626" stroke-width="0.9"/>
<rect x="203.30" y="958.80" width="8.90" height="13.30" fill="#ff0000" stroke="#262626" stroke-width="0.9"/>
<rect x="212.20" y="958.80" width="32.80" height="13.30" fill="#000000" stroke="#262626" stroke-width="0.9"/>
<rect x="245.00" y="958.80" width="10.50" height="13.30" fill="#ffffff"/>
<rect x="255.50" y="958.80" width="9.00" height="13.30" fill="#bdbdbd" stroke="#262626" stroke-width="0.9"/>
<rect x="264.50" y="958.80" width="13.80" height="13.30" fill="#ffffff"/>
<rect x="278.30" y="958.80" width="5.90" height="13.30" fill="#bdbdbd" stroke="#262626" stroke-width="0.9"/>
<rect x="284.20" y="958.80" width="5.80" height="13.30" fill="#ffffff"/>
<rect x="290.00" y="958.80" width="20.50" height="13.30" fill="#404040" stroke="#262626" stroke-width="0.9"/>
<rect x="310.50" y="958.80" width="7.90" height="13.30" fill="#ffffff"/>
<rect x="318.40" y="958.80" width="9.90" height="13.30" fill="#808080" stroke="#262626" stroke-width="0.9"/>
<rect x="328.30" y="958.80" width="15.00" height="13.30" fill="#ffffff"/>
<rect x="343.30" y="958.80" width="16.30" height="13.30" fill="#404040" stroke="#262626" stroke-width="0.9"/>
<rect x="359.60" y="958.80" width="18.40" height="13.30" fill="#ffffff"/>
<rect x="378.00" y="958.80" width="25.70" height="13.30" fill="#000000" stroke="#262626" stroke-width="0.9"/>
<rect x="403.70" y="958.80" width="8.30" height="13.30" fill="#ffffff"/>
<rect x="412.00" y="958.80" width="14.70" height="13.30" fill="#000000" stroke="#262626" stroke-width="0.9"/>
<rect x="426.70" y="958.80" width="13.30" height="13.30" fill="#ffffff"/>
<rect x="440.00" y="958.80" width="22.00" height="13.30" fill="#404040" stroke="#262626" stroke-width="0.9"/>
<rect x="462.00" y="958.80" width="9.00" height="13.30" fill="#ffffff"/>
<rect x="471.00" y="958.80" width="20.00" height="13.30" fill="#808080" stroke="#262626" stroke-width="0.9"/>
<rect x="491.00" y="958.80" width="10.20" height="13.30" fill="#ffffff"/>
<rect x="501.20" y="958.80" width="3.50" height="13.30" fill="#bdbdbd" stroke="#262626" stroke-width="0.9"/>
<rect x="504.70" y="958.80" width="7.30" height="13.30" fill="#ffffff"/>
<rect x="512.00" y="958.80" width="9.70" height="13.30" fill="#808080" stroke="#262626" stroke-width="0.9"/>
<rect x="521.70" y="958.80" width="5.00" height="13.30" fill="#ffffff"/>
<rect x="526.70" y="958.80" width="10.80" height="13.30" fill="#808080" stroke="#262626" stroke-width="0.9"/>
<rect x="537.50" y="958.80" width="19.50" height="13.30" fill="#ffffff"/>
<rect x="557.00" y="958.80" width="13.50" height="13.30" fill="#808080" stroke="#262626" stroke-width="0.9"/>
<rect x="570.50" y="958.80" width="17.80" height="13.30" fill="#ffffff"/>
<rect x="64.20" y="958.80" width="523.12" height="13.30" fill="none" stroke="#444" stroke-width="1" rx="1.5"/>
<line x1="64.20" y1="972.10" x2="64.20" y2="977.60" stroke="#333" stroke-width="1"/>
<text x="64.20" y="992.10" font-size="10.5" text-anchor="middle" textLength="6.89" lengthAdjust="spacingAndGlyphs">0</text>
<line x1="162.32" y1="972.10" x2="162.32" y2="977.60" stroke="#333" stroke-width="1"/>
<text x="162.32" y="992.10" font-size="10.5" text-anchor="middle" textLength="13.78" lengthAdjust="spacingAndGlyphs">25</text>
<line x1="260.45" y1="972.10" x2="260.45" y2="977.60" stroke="#333" stroke-width="1"/>
<text x="260.45" y="992.10" font-size="10.5" text-anchor="middle" textLength="13.78" lengthAdjust="spacingAndGlyphs">50</text>
<line x1="358.57" y1="972.10" x2="358.57" y2="977.60" stroke="#333" stroke-width="1"/>
<text x="358.57" y="992.10" font-size="10.5" text-anchor="middle" textLength="13.78" lengthAdjust="spacingAndGlyphs">75</text>
<line x1="456.70" y1="972.10" x2="456.70" y2="977.60" stroke="#333" stroke-width="1"/>
<text x="456.70" y="992.10" font-size="10.5" text-anchor="middle" textLength="20.67" lengthAdjust="spacingAndGlyphs">100</text>
<line x1="554.83" y1="972.10" x2="554.83" y2="977.60" stroke="#333" stroke-width="1"/>
<text x="554.83" y="992.10" font-size="10.5" text-anchor="middle" textLength="20.67" lengthAdjust="spacingAndGlyphs">125</text>
<rect x="675.50" y="958.80" width="12.20" height="13.30" fill="#ffffff"/>
<rect x="687.70" y="958.80" width="8.20" height="13.30" fill="#bdbdbd" stroke="#262626" stroke-width="0.9"/>
<rect x="695.90" y="958.80" width="18.70" height="13.30" fill="#ffffff"/>
<rect x="714.60" y="958.80" width="10.40" height="13.30" fill="#404040" stroke="#262626" stroke-width="0.9"/>
<rect x="725.00" y="958.80" width="7.50" height="13.30" fill="#ffffff"/>
<rect x="732.50" y="958.80" width="20.80" height="13.30" fill="#000000" stroke="#262626" stroke-width="0.9"/>
<rect x="753.30" y="958.80" width="5.00" height="13.30" fill="#ffffff"/>
<rect x="758.30" y="958.80" width="20.80" height="13.30" fill="#000000" stroke="#262626" stroke-width="0.9"/>
<rect x="779.10" y="958.80" width="4.70" height="13.30" fill="#ffffff"/>
<rect x="783.80" y="958.80" width="11.30" height="13.30" fill="#808080" stroke="#262626" stroke-width="0.9"/>
<rect x="795.10" y="958.80" width="10.70" height="13.30" fill="#ffffff"/>
<rect x="805.80" y="958.80" width="8.80" height="13.30" fill="#ff0000" stroke="#262626" stroke-width="0.9"/>
<rect x="814.60" y="958.80" width="8.90" height="13.30" fill="#ff0000" stroke="#262626" stroke-width="0.9"/>
<rect x="823.50" y="958.80" width="32.80" height="13.30" fill="#000000" stroke="#262626" stroke-width="0.9"/>
<rect x="856.30" y="958.80" width="10.50" height="13.30" fill="#ffffff"/>
<rect x="866.80" y="958.80" width="9.00" height="13.30" fill="#bdbdbd" stroke="#262626" stroke-width="0.9"/>
<rect x="875.80" y="958.80" width="13.80" height="13.30" fill="#ffffff"/>
<rect x="889.60" y="958.80" width="5.90" height="13.30" fill="#bdbdbd" stroke="#262626" stroke-width="0.9"/>
<rect x="895.50" y="958.80" width="5.80" height="13.30" fill="#ffffff"/>
<rect x="901.30" y="958.80" width="20.50" height="13.30" fill="#404040" stroke="#262626" stroke-width="0.9"/>
<rect x="921.80" y="958.80" width="7.90" height="13.30" fill="#ffffff"/>
<rect x="929.70" y="958.80" width="9.90" height="13.30" fill="#808080" stroke="#262626" stroke-width="0.9"/>
<rect x="939.60" y="958.80" width="15.00" height="13.30" fill="#ffffff"/>
<rect x="954.60" y="958.80" width="16.30" height="13.30" fill="#404040" stroke="#262626" stroke-width="0.9"/>
<rect x="970.90" y="958.80" width="18.40" height="13.30" fill="#ffffff"/>
<rect x="989.30" y="958.80" width="25.70" height="13.30" fill="#000000" stroke="#262626" stroke-width="0.9"/>
<rect x="1015.00" y="958.80" width="8.30" height="13.30" fill="#ffffff"/>
<rect x="1023.30" y="958.80" width="14.70" height="13.30" fill="#000000" stroke="#262626" stroke-width="0.9"/>
<rect x="1038.00" y="958.80" width="13.30" height="13.30" fill="#ffffff"/>
<rect x="1051.30" y="958.80" width="22.00" height="13.30" fill="#404040" stroke="#262626" stroke-width="0.9"/>
<rect x="1073.30" y="958.80" width="9.00" height="13.30" fill="#ffffff"/>
<rect x="1082.30" y="958.80" width="20.00" height="13.30" fill="#808080" stroke="#262626" stroke-width="0.9"/>
<rect x="1102.30" y="958.80" width="10.20" height="13.30" fill="#ffffff"/>
<rect x="1112.50" y="958.80" width="3.50" height="13.30" fill="#bdbdbd" stroke="#262626" stroke-width="0.9"/>
<rect x="1116.00" y="958.80" width="7.30" height="13.30" fill="#ffffff"/>
<rect x="1123.30" y="958.80" width="9.70" height="13.30" fill="#808080" stroke="#262626" stroke-width="0.9"/>
<rect x="1133.00" y="958.80" width="5.00" height="13.30" fill="#ffffff"/>
<rect x="1138.00" y="958.80" width="10.80" height="13.30" fill="#808080" stroke="#262626" stroke-width="0.9"/>
<rect x="1148.80" y="958.80" width="19.50" height="13.30" fill="#ffffff"/>
<rect x="1168.30" y="958.80" width="13.50" height="13.30" fill="#808080" stroke="#262626" stroke-width="0.9"/>
<rect x="1181.80" y="958.80" width="17.80" height="13.30" fill="#ffffff"/>
<rect x="675.50" y="958.80" width="523.12" height="13.30" fill="none" stroke="#444" stroke-width="1" rx="1.5"/>
<line x1="675.50" y1="972.10" x2="675.50" y2="977.60" stroke="#333" stroke-width="1"/>
<text x="675.50" y="992.10" font-size="10.5" text-anchor="middle" textLength="6.89" lengthAdjust="spacingAndGlyphs">0</text>
<line x1="773.62" y1="972.10" x2="773.62" y2="977.60" stroke="#333" stroke-width="1"/>
<text x="773.62" y="992.10" font-size="10.5" text-anchor="middle" textLength="13.78" lengthAdjust="spacingAndGlyphs">25</text>
<line x1="871.75" y1="972.10" x2="871.75" y2="977.60" stroke="#333" stroke-width="1"/>
<text x="871.75" y="992.10" font-size="10.5" text-anchor="middle" textLength="13.78" lengthAdjust="spacingAndGlyphs">50</text>
<line x1="969.88" y1="972.10" x2="969.88" y2="977.60" stroke="#333" stroke-width="1"/>
<text x="969.88" y="992.10" font-size="10.5" text-anchor="middle" textLength="13.78" lengthAdjust="spacingAndGlyphs">75</text>
<line x1="1068.00" y1="972.10" x2="1068.00" y2="977.60" stroke="#333" stroke-width="1"/>
<text x="1068.00" y="992.10" font-size="10.5" text-anchor="middle" textLength="20.67" lengthAdjust="spacingAndGlyphs">100</text>
<line x1="1166.12" y1="972.10" x2="1166.12" y2="977.60" stroke="#333" stroke-width="1"/>
<text x="1166.12" y="992.10" font-size="10.5" text-anchor="middle" textLength="20.67" lengthAdjust="spacingAndGlyphs">125</text>
<rect x="62.50" y="1288.80" width="12.20" height="13.30" fill="#ffffff"/>
<rect x="74.70" y="1288.80" width="8.20" height="13.30" fill="#bdbdbd" stroke="#262626" stroke-width="0.9"/>
<rect x="82.90" y="1288.80" width="18.70" height="13.30" fill="#ffffff"/>
<rect x="101.60" y="1288.80" width="10.40" height="13.30" fill="#404040" stroke="#262626" stroke-width="0.9"/>
<rect x="112.00" y="1288.80" width="7.50" height="13.30" fill="#ffffff"/>
<rect x="119.50" y="1288.80" width="20.80" height="13.30" fill="#000000" stroke="#262626" stroke-width="0.9"/>
<rect x="140.30" y="1288.80" width="5.00" height="13.30" fill="#ffffff"/>
<rect x="145.30" y="1288.80" width="20.80" height="13.30" fill="#000000" stroke="#262626" stroke-width="0.9"/>
<rect x="166.10" y="1288.80" width="4.70" height="13.30" fill="#ffffff"/>
<rect x="170.80" y="1288.80" width="11.30" height="13.30" fill="#808080" stroke="#262626" stroke-width="0.9"/>
<rect x="182.10" y="1288.80" width="10.70" height="13.30" fill="#ffffff"/>
<rect x="192.80" y="1288.80" width="8.80" height="13.30" fill="#ff0000" stroke="#262626" stroke-width="0.9"/>
<rect x="201.60" y="1288.80" width="8.90" height="13.30" fill="#ff0000" stroke="#262626" stroke-width="0.9"/>
<rect x="210.50" y="1288.80" width="32.80" height="13.30" fill="#000000" stroke="#262626" stroke-width="0.9"/>
<rect x="243.30" y="1288.80" width="10.50" height="13.30" fill="#ffffff"/>
<rect x="253.80" y="1288.80" width="9.00" height="13.30" fill="#bdbdbd" stroke="#262626" stroke-width="0.9"/>
<rect x="262.80" y="1288.80" width="13.80" height="13.30" fill="#ffffff"/>
<rect x="276.60" y="1288.80" width="5.90" height="13.30" fill="#bdbdbd" stroke="#262626" stroke-width="0.9"/>
<rect x="282.50" y="1288.80" width="5.80" height="13.30" fill="#ffffff"/>
<rect x="288.30" y="1288.80" width="20.50" height="13.30" fill="#404040" stroke="#262626" stroke-width="0.9"/>
<rect x="308.80" y="1288.80" width="7.90" height="13.30" fill="#ffffff"/>
<rect x="316.70" y="1288.80" width="9.90" height="13.30" fill="#808080" stroke="#262626" stroke-width="0.9"/>
<rect x="326.60" y="1288.80" width="15.00" height="13.30" fill="#ffffff"/>
<rect x="341.60" y="1288.80" width="16.30" height="13.30" fill="#404040" stroke="#262626" stroke-width="0.9"/>
<rect x="357.90" y="1288.80" width="18.40" height="13.30" fill="#ffffff"/>
<rect x="376.30" y="1288.80" width="25.70" height="13.30" fill="#000000" stroke="#262626" stroke-width="0.9"/>
<rect x="402.00" y="1288.80" width="8.30" height="13.30" fill="#ffffff"/>
<rect x="410.30" y="1288.80" width="14.70" height="13.30" fill="#000000" stroke="#262626" stroke-width="0.9"/>
<rect x="425.00" y="1288.80" width="13.30" height="13.30" fill="#ffffff"/>
<rect x="438.30" y="1288.80" width="22.00" height="13.30" fill="#404040" stroke="#262626" stroke-width="0.9"/>
<rect x="460.30" y="1288.80" width="9.00" height="13.30" fill="#ffffff"/>
<rect x="469.30" y="1288.80" width="20.00" height="13.30" fill="#808080" stroke="#262626" stroke-width="0.9"/>
<rect x="489.30" y="1288.80" width="10.20" height="13.30" fill="#ffffff"/>
<rect x="499.50" y="1288.80" width="3.50" height="13.30" fill="#bdbdbd" stroke="#262626" stroke-width="0.9"/>
<rect x="503.00" y="1288.80" width="7.30" height="13.30" fill="#ffffff"/>
<rect x="510.30" y="1288.80" width="9.70" height="13.30" fill="#808080" stroke="#262626" stroke-width="0.9"/>
<rect x="520.00" y="1288.80" width="5.00" height="13.30" fill="#ffffff"/>
<rect x="525.00" y="1288.80" width="10.80" height="13.30" fill="#808080" stroke="#262626" stroke-width="0.9"/>
<rect x="535.80" y="1288.80" width="19.50" height="13.30" fill="#ffffff"/>
<rect x="555.30" y="1288.80" width="13.50" height="13.30" fill="#808080" stroke="#262626" stroke-width="0.9"/>
<rect x="568.80" y="1288.80" width="17.80" height="13.30" fill="#ffffff"/>
<rect x="62.50" y="1288.80" width="523.12" height="13.30" fill="none" stroke="#444" stroke-width="1" rx="1.5"/>
<line x1="62.50" y1="1302.10" x2="62.50" y2="1307.60" stroke="#333" stroke-width="1"/>
<text x="62.50" y="1324.90" font-size="10.5" text-anchor="middle" textLength="6.89" lengthAdjust="spacingAndGlyphs">0</text>
<line x1="160.62" y1="1302.10" x2="160.62" y2="1307.60" stroke="#333" stroke-width="1"/>
<text x="160.62" y="1324.90" font-size="10.5" text-anchor="middle" textLength="13.78" lengthAdjust="spacingAndGlyphs">25</text>
<line x1="258.75" y1="1302.10" x2="258.75" y2="1307.60" stroke="#333" stroke-width="1"/>
<text x="258.75" y="1324.90" font-size="10.5" text-anchor="middle" textLength="13.78" lengthAdjust="spacingAndGlyphs">50</text>
<line x1="356.88" y1="1302.10" x2="356.88" y2="1307.60" stroke="#333" stroke-width="1"/>
<text x="356.88" y="1324.90" font-size="10.5" text-anchor="middle" textLength="13.78" lengthAdjust="spacingAndGlyphs">75</text>
<line x1="455.00" y1="1302.10" x2="455.00" y2="1307.60" stroke="#333" stroke-width="1"/>
<text x="455.00" y="1324.90" font-size="10.5" text-anchor="middle" textLength="20.67" lengthAdjust="spacingAndGlyphs">100</text>
<line x1="553.12" y1="1302.10" x2="553.12" y2="1307.60" stroke="#333" stroke-width="1"/>
<text x="553.12" y="1324.90" font-size="10.5" text-anchor="middle" textLength="20.67" lengthAdjust="spacingAndGlyphs">125</text>
<rect x="674.50" y="1288.80" width="12.20" height="13.30" fill="#ffffff"/>
<rect x="686.70" y="1288.80" width="8.20" height="13.30" fill="#bdbdbd" stroke="#262626" stroke-width="0.9"/>
<rect x="694.90" y="1288.80" width="18.70" height="13.30" fill="#ffffff"/>
<rect x="713.60" y="1288.80" width="10.40" height="13.30" fill="#404040" stroke="#262626" stroke-width="0.9"/>
<rect x="724.00" y="1288.80" width="7.50" height="13.30" fill="#ffffff"/>
<rect x="731.50" y="1288.80" width="20.80" height="13.30" fill="#000000" stroke="#262626" stroke-width="0.9"/>
<rect x="752.30" y="1288.80" width="5.00" height="13.30" fill="#ffffff"/>
<rect x="757.30" y="1288.80" width="20.80" height="13.30" fill="#000000" stroke="#262626" stroke-width="0.9"/>
<rect x="778.10" y="1288.80" width="4.70" height="13.30" fill="#ffffff"/>
<rect x="782.80" y="1288.80" width="11.30" height="13.30" fill="#808080" stroke="#262626" stroke-width="0.9"/>
<rect x="794.10" y="1288.80" width="10.70" height="13.30" fill="#ffffff"/>
<rect x="804.80" y="1288.80" width="8.80" height="13.30" fill="#ff0000" stroke="#262626" stroke-width="0.9"/>
<rect x="813.60" y="1288.80" width="8.90" height="13.30" fill="#ff0000" stroke="#262626" stroke-width="0.9"/>
<rect x="822.50" y="1288.80" width="32.80" height="13.30" fill="#000000" stroke="#262626" stroke-width="0.9"/>
<rect x="855.30" y="1288.80" width="10.50" height="13.30" fill="#ffffff"/>
<rect x="865.80" y="1288.80" width="9.00" height="13.30" fill="#bdbdbd" stroke="#262626" stroke-width="0.9"/>
<rect x="874.80" y="1288.80" width="13.80" height="13.30" fill="#ffffff"/>
<rect x="888.60" y="1288.80" width="5.90" height="13.30" fill="#bdbdbd" stroke="#262626" stroke-width="0.9"/>
<rect x="894.50" y="1288.80" width="5.80" height="13.30" fill="#ffffff"/>
<rect x="900.30" y="1288.80" width="20.50" height="13.30" fill="#404040" stroke="#262626" stroke-width="0.9"/>
<rect x="920.80" y="1288.80" width="7.90" height="13.30" fill="#ffffff"/>
<rect x="928.70" y="1288.80" width="9.90" height="13.30" fill="#808080" stroke="#262626" stroke-width="0.9"/>
<rect x="938.60" y="1288.80" width="15.00" height="13.30" fill="#ffffff"/>
<rect x="953.60" y="1288.80" width="16.30" height="13.30" fill="#404040" stroke="#262626" stroke-width="0.9"/>
<rect x="969.90" y="1288.80" width="18.40" height="13.30" fill="#ffffff"/>
<rect x="988.30" y="1288.80" width="25.70" height="13.30" fill="#000000" stroke="#262626" stroke-width="0.9"/>
<rect x="1014.00" y="1288.80" width="8.30" height="13.30" fill="#ffffff"/>
<rect x="1022.30" y="1288.80" width="14.70" height="13.30" fill="#000000" stroke="#262626" stroke-width="0.9"/>
<rect x="1037.00" y="1288.80" width="13.30" height="13.30" fill="#ffffff"/>
<rect x="1050.30" y="1288.80" width="22.00" height="13.30" fill="#404040" stroke="#262626" stroke-width="0.9"/>
<rect x="1072.30" y="1288.80" width="9.00" height="13.30" fill="#ffffff"/>
<rect x="1081.30" y="1288.80" width="20.00" height="13.30" fill="#808080" stroke="#262626" stroke-width="0.9"/>
<rect x="1101.30" y="1288.80" width="10.20" height="13.30" fill="#ffffff"/>
<rect x="1111.50" y="1288.80" width="3.50" height="13.30" fill="#bdbdbd" stroke="#262626" stroke-width="0.9"/>
<rect x="1115.00" y="1288.80" width="7.30" height="13.30" fill="#ffffff"/>
<rect x="1122.30" y="1288.80" width="9.70" height="13.30" fill="#808080" stroke="#262626" stroke-width="0.9"/>
<rect x="1132.00" y="1288.80" width="5.00" height="13.30" fill="#ffffff"/>
<rect x="1137.00" y="1288.80" width="10.80" height="13.30" fill="#808080" stroke="#262626" stroke-width="0.9"/>
<rect x="1147.80" y="1288.80" width="19.50" height="13.30" fill="#ffffff"/>
<rect x="1167.30" y="1288.80" width="13.50" height="13.30" fill="#808080" stroke="#262626" stroke-width="0.9"/>
<rect x="1180.80" y="1288.80" width="17.80" height="13.30" fill="#ffffff"/>
<rect x="674.50" y="1288.80" width="523.12" height="13.30" fill="none" stroke="#444" stroke-width="1" rx="1.5"/>
<line x1="674.50" y1="1302.10" x2="674.50" y2="1307.60" stroke="#333" stroke-width="1"/>
<text x="674.50" y="1324.90" font-size="10.5" text-anchor="middle" textLength="6.89" lengthAdjust="spacingAndGlyphs">0</text>
<line x1="772.62" y1="1302.10" x2="772.62" y2="1307.60" stroke="#333" stroke-width="1"/>
<text x="772.62" y="1324.90" font-size="10.5" text-anchor="middle" textLength="13.78" lengthAdjust="spacingAndGlyphs">25</text>
<line x1="870.75" y1="1302.10" x2="870.75" y2="1307.60" stroke="#333" stroke-width="1"/>
<text x="870.75" y="1324.90" font-size="10.5" text-anchor="middle" textLength="13.78" lengthAdjust="spacingAndGlyphs">50</text>
<line x1="968.88" y1="1302.10" x2="968.88" y2="1307.60" stroke="#333" stroke-width="1"/>
<text x="968.88" y="1324.90" font-size="10.5" text-anchor="middle" textLength="13.78" lengthAdjust="spacingAndGlyphs">75</text>
<line x1="1067.00" y1="1302.10" x2="1067.00" y2="1307.60" stroke="#333" stroke-width="1"/>
<text x="1067.00" y="1324.90" font-size="10.5" text-anchor="middle" textLength="20.67" lengthAdjust="spacingAndGlyphs">100</text>
<line x1="1165.12" y1="1302.10" x2="1165.12" y2="1307.60" stroke="#333" stroke-width="1"/>
<text x="1165.12" y="1324.90" font-size="10.5" text-anchor="middle" textLength="20.67" lengthAdjust="spacingAndGlyphs">125</text>
<text x="252.50" y="681.00" font-size="13" textLength="137.00" lengthAdjust="spacingAndGlyphs">Chromosome 17 (Mb)</text>
<text x="864.30" y="681.00" font-size="13" textLength="137.00" lengthAdjust="spacingAndGlyphs">Chromosome 17 (Mb)</text>
<text x="252.70" y="1012.50" font-size="13" textLength="136.60" lengthAdjust="spacingAndGlyphs">Chromosome 12 (Mb)</text>
<text x="864.20" y="1012.50" font-size="13" textLength="136.60" lengthAdjust="spacingAndGlyphs">Chromosome 12 (Mb)</text>
<text x="251.70" y="1347.40" font-size="13" textLength="137.00" lengthAdjust="spacingAndGlyphs">Chromosome 12 (Mb)</text>
<text x="862.50" y="1347.40" font-size="13" textLength="137.50" lengthAdjust="spacingAndGlyphs">Chromosome 12 (Mb)</text>
</svg></body></html>
